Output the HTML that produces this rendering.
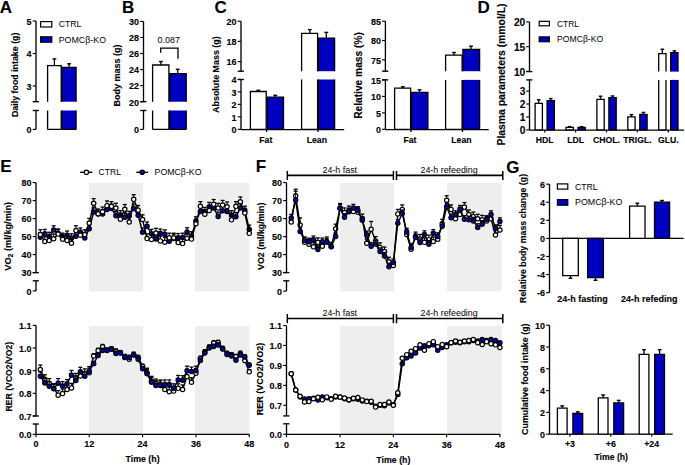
<!DOCTYPE html>
<html><head><meta charset="utf-8"><style>
html,body{margin:0;padding:0;background:#fff;width:685px;height:465px;overflow:hidden}
svg{display:block}
text{font-family:"Liberation Sans", sans-serif;fill:#000}
text[font-weight="bold"]{stroke:#000;stroke-width:0.12px}
</style></head><body>
<svg width="685" height="465" viewBox="0 0 685 465">
<rect x="0" y="0" width="685" height="465" fill="#fff"/>
<text x="-0.20" y="13.45" font-size="17" font-weight="bold" text-anchor="start" >A</text>
<line x1="36.00" y1="21.00" x2="36.00" y2="101.70" stroke="#000" stroke-width="1.33"/>
<line x1="32.70" y1="21.00" x2="36.00" y2="21.00" stroke="#000" stroke-width="1.15"/>
<text transform="translate(31.50,24.80) scale(0.9524,1)" font-size="9.45" font-weight="bold" text-anchor="end" >5</text>
<line x1="32.70" y1="53.50" x2="36.00" y2="53.50" stroke="#000" stroke-width="1.15"/>
<text transform="translate(31.50,57.30) scale(0.9524,1)" font-size="9.45" font-weight="bold" text-anchor="end" >4</text>
<line x1="32.70" y1="86.00" x2="36.00" y2="86.00" stroke="#000" stroke-width="1.15"/>
<text transform="translate(31.50,89.80) scale(0.9524,1)" font-size="9.45" font-weight="bold" text-anchor="end" >3</text>
<line x1="32.70" y1="101.70" x2="38.90" y2="101.70" stroke="#000" stroke-width="1.35"/>
<line x1="36.00" y1="110.50" x2="36.00" y2="129.40" stroke="#000" stroke-width="1.33"/>
<line x1="32.70" y1="129.40" x2="36.00" y2="129.40" stroke="#000" stroke-width="1.15"/>
<text transform="translate(31.50,133.20) scale(0.9524,1)" font-size="9.45" font-weight="bold" text-anchor="end" >0</text>
<line x1="32.70" y1="110.50" x2="38.90" y2="110.50" stroke="#000" stroke-width="1.35"/>
<rect x="47.60" y="65.60" width="13.60" height="36.10" fill="#fff"/>
<path d="M47.60,101.70 L47.60,65.60 L61.20,65.60 L61.20,101.70" fill="none" stroke="#000" stroke-width="1.3" stroke-linejoin="miter"/>
<rect x="61.90" y="67.30" width="14.20" height="34.40" fill="#0000C0"/>
<path d="M61.90,101.70 L61.90,67.30 L76.10,67.30 L76.10,101.70" fill="none" stroke="#000" stroke-width="1.3" stroke-linejoin="miter"/>
<rect x="47.60" y="110.50" width="13.60" height="18.90" fill="#fff"/>
<path d="M47.60,110.50 L47.60,129.40 M61.20,110.50 L61.20,129.40 M47.60,129.40 L61.20,129.40" fill="none" stroke="#000" stroke-width="1.3" stroke-linejoin="miter"/>
<rect x="61.90" y="110.50" width="14.20" height="18.90" fill="#0000C0"/>
<path d="M61.90,110.50 L61.90,129.40 M76.10,110.50 L76.10,129.40 M61.90,129.40 L76.10,129.40" fill="none" stroke="#000" stroke-width="1.3" stroke-linejoin="miter"/>
<line x1="54.40" y1="65.60" x2="54.40" y2="58.90" stroke="#000" stroke-width="1.30"/>
<line x1="52.50" y1="58.90" x2="56.30" y2="58.90" stroke="#000" stroke-width="1.40"/>
<line x1="69.10" y1="67.30" x2="69.10" y2="63.80" stroke="#000" stroke-width="1.30"/>
<line x1="67.20" y1="63.80" x2="71.00" y2="63.80" stroke="#000" stroke-width="1.40"/>
<rect x="40.60" y="21.60" width="11.20" height="5.40" fill="#fff" stroke="#000" stroke-width="1.20"/>
<rect x="40.60" y="36.80" width="11.20" height="5.40" fill="#0000C0" stroke="#000" stroke-width="1.20"/>
<text x="58.70" y="27.30" font-size="8.7" font-weight="normal" text-anchor="start" >CTRL</text>
<text x="58.70" y="42.60" font-size="8.85" font-weight="normal" text-anchor="start" >POMCβ-KO</text>
<text transform="translate(18.20,74.80) rotate(-90) scale(0.9091,1)" font-size="9.74" font-weight="bold" text-anchor="middle" >Daily food intake (g)</text>
<text x="122.00" y="13.45" font-size="17" font-weight="bold" text-anchor="start" >B</text>
<line x1="143.50" y1="21.40" x2="143.50" y2="101.70" stroke="#000" stroke-width="1.33"/>
<line x1="140.20" y1="21.40" x2="143.50" y2="21.40" stroke="#000" stroke-width="1.15"/>
<text transform="translate(139.00,25.20) scale(0.9524,1)" font-size="9.45" font-weight="bold" text-anchor="end" >30</text>
<line x1="140.20" y1="37.46" x2="143.50" y2="37.46" stroke="#000" stroke-width="1.15"/>
<text transform="translate(139.00,41.26) scale(0.9524,1)" font-size="9.45" font-weight="bold" text-anchor="end" >28</text>
<line x1="140.20" y1="53.52" x2="143.50" y2="53.52" stroke="#000" stroke-width="1.15"/>
<text transform="translate(139.00,57.32) scale(0.9524,1)" font-size="9.45" font-weight="bold" text-anchor="end" >26</text>
<line x1="140.20" y1="69.58" x2="143.50" y2="69.58" stroke="#000" stroke-width="1.15"/>
<text transform="translate(139.00,73.38) scale(0.9524,1)" font-size="9.45" font-weight="bold" text-anchor="end" >24</text>
<line x1="140.20" y1="85.64" x2="143.50" y2="85.64" stroke="#000" stroke-width="1.15"/>
<text transform="translate(139.00,89.44) scale(0.9524,1)" font-size="9.45" font-weight="bold" text-anchor="end" >22</text>
<line x1="140.20" y1="101.70" x2="143.50" y2="101.70" stroke="#000" stroke-width="1.15"/>
<text transform="translate(139.00,105.50) scale(0.9524,1)" font-size="9.45" font-weight="bold" text-anchor="end" >20</text>
<line x1="140.20" y1="101.70" x2="146.40" y2="101.70" stroke="#000" stroke-width="1.35"/>
<line x1="143.50" y1="110.50" x2="143.50" y2="129.40" stroke="#000" stroke-width="1.33"/>
<line x1="140.20" y1="129.40" x2="143.50" y2="129.40" stroke="#000" stroke-width="1.15"/>
<text transform="translate(139.00,133.20) scale(0.9524,1)" font-size="9.45" font-weight="bold" text-anchor="end" >0</text>
<line x1="140.20" y1="110.50" x2="146.40" y2="110.50" stroke="#000" stroke-width="1.35"/>
<rect x="152.60" y="65.00" width="16.30" height="36.70" fill="#fff"/>
<path d="M152.60,101.70 L152.60,65.00 L168.90,65.00 L168.90,101.70" fill="none" stroke="#000" stroke-width="1.3" stroke-linejoin="miter"/>
<rect x="169.60" y="73.60" width="16.60" height="28.10" fill="#0000C0"/>
<path d="M169.60,101.70 L169.60,73.60 L186.20,73.60 L186.20,101.70" fill="none" stroke="#000" stroke-width="1.3" stroke-linejoin="miter"/>
<rect x="152.60" y="110.50" width="16.30" height="18.90" fill="#fff"/>
<path d="M152.60,110.50 L152.60,129.40 M168.90,110.50 L168.90,129.40 M152.60,129.40 L168.90,129.40" fill="none" stroke="#000" stroke-width="1.3" stroke-linejoin="miter"/>
<rect x="169.60" y="110.50" width="16.60" height="18.90" fill="#0000C0"/>
<path d="M169.60,110.50 L169.60,129.40 M186.20,110.50 L186.20,129.40 M169.60,129.40 L186.20,129.40" fill="none" stroke="#000" stroke-width="1.3" stroke-linejoin="miter"/>
<line x1="160.90" y1="65.00" x2="160.90" y2="61.50" stroke="#000" stroke-width="1.30"/>
<line x1="159.00" y1="61.50" x2="162.80" y2="61.50" stroke="#000" stroke-width="1.40"/>
<line x1="177.70" y1="73.60" x2="177.70" y2="69.30" stroke="#000" stroke-width="1.30"/>
<line x1="175.80" y1="69.30" x2="179.60" y2="69.30" stroke="#000" stroke-width="1.40"/>
<text x="168.70" y="43.40" font-size="9.0" font-weight="normal" text-anchor="middle" >0.087</text>
<path d="M160.7,52.7 L160.7,48.2 L178,48.2 L178,58.7" fill="none" stroke="#000" stroke-width="1.3" />
<text transform="translate(120.00,75.50) rotate(-90)" font-size="9.00" font-weight="bold" text-anchor="middle" >Body mass (g)</text>
<text x="214.50" y="13.45" font-size="17" font-weight="bold" text-anchor="start" >C</text>
<line x1="241.00" y1="21.20" x2="241.00" y2="71.20" stroke="#000" stroke-width="1.33"/>
<line x1="237.70" y1="21.20" x2="241.00" y2="21.20" stroke="#000" stroke-width="1.15"/>
<text transform="translate(236.50,25.00) scale(0.9524,1)" font-size="9.45" font-weight="bold" text-anchor="end" >20</text>
<line x1="237.70" y1="41.40" x2="241.00" y2="41.40" stroke="#000" stroke-width="1.15"/>
<text transform="translate(236.50,45.20) scale(0.9524,1)" font-size="9.45" font-weight="bold" text-anchor="end" >18</text>
<line x1="237.70" y1="61.60" x2="241.00" y2="61.60" stroke="#000" stroke-width="1.15"/>
<text transform="translate(236.50,65.40) scale(0.9524,1)" font-size="9.45" font-weight="bold" text-anchor="end" >16</text>
<line x1="237.70" y1="71.20" x2="243.90" y2="71.20" stroke="#000" stroke-width="1.35"/>
<line x1="241.00" y1="79.50" x2="241.00" y2="129.30" stroke="#000" stroke-width="1.33"/>
<line x1="237.70" y1="79.42" x2="241.00" y2="79.42" stroke="#000" stroke-width="1.15"/>
<text transform="translate(236.50,83.22) scale(0.9524,1)" font-size="9.45" font-weight="bold" text-anchor="end" >4</text>
<line x1="237.70" y1="91.89" x2="241.00" y2="91.89" stroke="#000" stroke-width="1.15"/>
<text transform="translate(236.50,95.69) scale(0.9524,1)" font-size="9.45" font-weight="bold" text-anchor="end" >3</text>
<line x1="237.70" y1="104.36" x2="241.00" y2="104.36" stroke="#000" stroke-width="1.15"/>
<text transform="translate(236.50,108.16) scale(0.9524,1)" font-size="9.45" font-weight="bold" text-anchor="end" >2</text>
<line x1="237.70" y1="116.83" x2="241.00" y2="116.83" stroke="#000" stroke-width="1.15"/>
<text transform="translate(236.50,120.63) scale(0.9524,1)" font-size="9.45" font-weight="bold" text-anchor="end" >1</text>
<line x1="237.70" y1="129.30" x2="241.00" y2="129.30" stroke="#000" stroke-width="1.15"/>
<text transform="translate(236.50,133.10) scale(0.9524,1)" font-size="9.45" font-weight="bold" text-anchor="end" >0</text>
<line x1="237.70" y1="79.50" x2="243.90" y2="79.50" stroke="#000" stroke-width="1.35"/>
<line x1="241.00" y1="129.60" x2="344.20" y2="129.60" stroke="#000" stroke-width="1.33"/>
<line x1="266.60" y1="129.30" x2="266.60" y2="132.00" stroke="#000" stroke-width="1.30"/>
<line x1="318.00" y1="129.30" x2="318.00" y2="132.00" stroke="#000" stroke-width="1.30"/>
<rect x="250.40" y="91.50" width="15.80" height="37.80" fill="#fff"/>
<path d="M250.40,129.30 L250.40,91.50 L266.20,91.50 L266.20,129.30 Z" fill="none" stroke="#000" stroke-width="1.3" stroke-linejoin="miter"/>
<rect x="267.00" y="97.20" width="16.50" height="32.10" fill="#0000C0"/>
<path d="M267.00,129.30 L267.00,97.20 L283.50,97.20 L283.50,129.30 Z" fill="none" stroke="#000" stroke-width="1.3" stroke-linejoin="miter"/>
<line x1="258.30" y1="91.50" x2="258.30" y2="90.30" stroke="#000" stroke-width="1.30"/>
<line x1="256.40" y1="90.30" x2="260.20" y2="90.30" stroke="#000" stroke-width="1.40"/>
<line x1="275.30" y1="97.20" x2="275.30" y2="95.30" stroke="#000" stroke-width="1.30"/>
<line x1="273.40" y1="95.30" x2="277.20" y2="95.30" stroke="#000" stroke-width="1.40"/>
<rect x="301.60" y="33.30" width="16.00" height="37.90" fill="#fff"/>
<path d="M301.60,71.20 L301.60,33.30 L317.60,33.30 L317.60,71.20" fill="none" stroke="#000" stroke-width="1.3" stroke-linejoin="miter"/>
<rect x="318.50" y="38.10" width="16.10" height="33.10" fill="#0000C0"/>
<path d="M318.50,71.20 L318.50,38.10 L334.60,38.10 L334.60,71.20" fill="none" stroke="#000" stroke-width="1.3" stroke-linejoin="miter"/>
<rect x="301.60" y="79.50" width="16.00" height="49.80" fill="#fff"/>
<path d="M301.60,79.50 L301.60,129.30 M317.60,79.50 L317.60,129.30 M301.60,129.30 L317.60,129.30" fill="none" stroke="#000" stroke-width="1.3" stroke-linejoin="miter"/>
<rect x="318.50" y="79.50" width="16.10" height="49.80" fill="#0000C0"/>
<path d="M318.50,79.50 L318.50,129.30 M334.60,79.50 L334.60,129.30 M318.50,129.30 L334.60,129.30" fill="none" stroke="#000" stroke-width="1.3" stroke-linejoin="miter"/>
<line x1="309.80" y1="33.30" x2="309.80" y2="29.60" stroke="#000" stroke-width="1.30"/>
<line x1="307.90" y1="29.60" x2="311.70" y2="29.60" stroke="#000" stroke-width="1.40"/>
<line x1="326.30" y1="38.10" x2="326.30" y2="32.40" stroke="#000" stroke-width="1.30"/>
<line x1="324.40" y1="32.40" x2="328.20" y2="32.40" stroke="#000" stroke-width="1.40"/>
<text x="265.80" y="142.70" font-size="8.7" font-weight="bold" text-anchor="middle" >Fat</text>
<text x="316.80" y="142.70" font-size="8.7" font-weight="bold" text-anchor="middle" >Lean</text>
<text transform="translate(218.70,74.60) rotate(-90) scale(0.9524,1)" font-size="9.35" font-weight="bold" text-anchor="middle" >Absolute Mass (g)</text>
<line x1="385.40" y1="21.20" x2="385.40" y2="71.20" stroke="#000" stroke-width="1.33"/>
<line x1="382.10" y1="21.20" x2="385.40" y2="21.20" stroke="#000" stroke-width="1.15"/>
<text transform="translate(380.90,25.00) scale(0.9524,1)" font-size="9.45" font-weight="bold" text-anchor="end" >85</text>
<line x1="382.10" y1="40.50" x2="385.40" y2="40.50" stroke="#000" stroke-width="1.15"/>
<text transform="translate(380.90,44.30) scale(0.9524,1)" font-size="9.45" font-weight="bold" text-anchor="end" >80</text>
<line x1="382.10" y1="59.80" x2="385.40" y2="59.80" stroke="#000" stroke-width="1.15"/>
<text transform="translate(380.90,63.60) scale(0.9524,1)" font-size="9.45" font-weight="bold" text-anchor="end" >75</text>
<line x1="382.10" y1="71.20" x2="388.30" y2="71.20" stroke="#000" stroke-width="1.35"/>
<line x1="385.40" y1="79.90" x2="385.40" y2="129.30" stroke="#000" stroke-width="1.33"/>
<line x1="382.10" y1="79.95" x2="385.40" y2="79.95" stroke="#000" stroke-width="1.15"/>
<text transform="translate(380.90,83.75) scale(0.9524,1)" font-size="9.45" font-weight="bold" text-anchor="end" >15</text>
<line x1="382.10" y1="96.40" x2="385.40" y2="96.40" stroke="#000" stroke-width="1.15"/>
<text transform="translate(380.90,100.20) scale(0.9524,1)" font-size="9.45" font-weight="bold" text-anchor="end" >10</text>
<line x1="382.10" y1="112.85" x2="385.40" y2="112.85" stroke="#000" stroke-width="1.15"/>
<text transform="translate(380.90,116.65) scale(0.9524,1)" font-size="9.45" font-weight="bold" text-anchor="end" >5</text>
<line x1="382.10" y1="129.30" x2="385.40" y2="129.30" stroke="#000" stroke-width="1.15"/>
<text transform="translate(380.90,133.10) scale(0.9524,1)" font-size="9.45" font-weight="bold" text-anchor="end" >0</text>
<line x1="382.10" y1="79.90" x2="388.30" y2="79.90" stroke="#000" stroke-width="1.35"/>
<line x1="385.40" y1="129.60" x2="488.70" y2="129.60" stroke="#000" stroke-width="1.33"/>
<line x1="411.00" y1="129.30" x2="411.00" y2="132.00" stroke="#000" stroke-width="1.30"/>
<line x1="462.50" y1="129.30" x2="462.50" y2="132.00" stroke="#000" stroke-width="1.30"/>
<rect x="394.60" y="88.20" width="16.00" height="41.10" fill="#fff"/>
<path d="M394.60,129.30 L394.60,88.20 L410.60,88.20 L410.60,129.30 Z" fill="none" stroke="#000" stroke-width="1.3" stroke-linejoin="miter"/>
<rect x="411.40" y="92.40" width="16.50" height="36.90" fill="#0000C0"/>
<path d="M411.40,129.30 L411.40,92.40 L427.90,92.40 L427.90,129.30 Z" fill="none" stroke="#000" stroke-width="1.3" stroke-linejoin="miter"/>
<line x1="402.80" y1="88.20" x2="402.80" y2="86.80" stroke="#000" stroke-width="1.30"/>
<line x1="400.90" y1="86.80" x2="404.70" y2="86.80" stroke="#000" stroke-width="1.40"/>
<line x1="419.50" y1="92.40" x2="419.50" y2="89.80" stroke="#000" stroke-width="1.30"/>
<line x1="417.60" y1="89.80" x2="421.40" y2="89.80" stroke="#000" stroke-width="1.40"/>
<rect x="445.60" y="55.20" width="16.50" height="16.00" fill="#fff"/>
<path d="M445.60,71.20 L445.60,55.20 L462.10,55.20 L462.10,71.20" fill="none" stroke="#000" stroke-width="1.3" stroke-linejoin="miter"/>
<rect x="462.90" y="49.50" width="16.70" height="21.70" fill="#0000C0"/>
<path d="M462.90,71.20 L462.90,49.50 L479.60,49.50 L479.60,71.20" fill="none" stroke="#000" stroke-width="1.3" stroke-linejoin="miter"/>
<rect x="445.60" y="79.90" width="16.50" height="49.40" fill="#fff"/>
<path d="M445.60,79.90 L445.60,129.30 M462.10,79.90 L462.10,129.30 M445.60,129.30 L462.10,129.30" fill="none" stroke="#000" stroke-width="1.3" stroke-linejoin="miter"/>
<rect x="462.90" y="79.90" width="16.70" height="49.40" fill="#0000C0"/>
<path d="M462.90,79.90 L462.90,129.30 M479.60,79.90 L479.60,129.30 M462.90,129.30 L479.60,129.30" fill="none" stroke="#000" stroke-width="1.3" stroke-linejoin="miter"/>
<line x1="454.00" y1="55.20" x2="454.00" y2="52.50" stroke="#000" stroke-width="1.30"/>
<line x1="452.10" y1="52.50" x2="455.90" y2="52.50" stroke="#000" stroke-width="1.40"/>
<line x1="471.00" y1="49.50" x2="471.00" y2="46.20" stroke="#000" stroke-width="1.30"/>
<line x1="469.10" y1="46.20" x2="472.90" y2="46.20" stroke="#000" stroke-width="1.40"/>
<text x="410.00" y="142.70" font-size="8.7" font-weight="bold" text-anchor="middle" >Fat</text>
<text x="461.40" y="142.70" font-size="8.7" font-weight="bold" text-anchor="middle" >Lean</text>
<text transform="translate(362.00,75.50) rotate(-90)" font-size="10.20" font-weight="bold" text-anchor="middle" >Relative mass (%)</text>
<text x="477.50" y="13.35" font-size="17" font-weight="bold" text-anchor="start" >D</text>
<line x1="529.50" y1="21.90" x2="529.50" y2="71.60" stroke="#000" stroke-width="1.33"/>
<line x1="526.20" y1="21.90" x2="529.50" y2="21.90" stroke="#000" stroke-width="1.15"/>
<text transform="translate(525.30,26.16) scale(0.9524,1)" font-size="10.71" font-weight="bold" text-anchor="end" >20</text>
<line x1="526.20" y1="46.65" x2="529.50" y2="46.65" stroke="#000" stroke-width="1.15"/>
<text transform="translate(525.30,50.91) scale(0.9524,1)" font-size="10.71" font-weight="bold" text-anchor="end" >15</text>
<line x1="526.20" y1="71.40" x2="529.50" y2="71.40" stroke="#000" stroke-width="1.15"/>
<text transform="translate(525.30,75.66) scale(0.9524,1)" font-size="10.71" font-weight="bold" text-anchor="end" >10</text>
<line x1="526.20" y1="71.60" x2="532.40" y2="71.60" stroke="#000" stroke-width="1.35"/>
<line x1="529.50" y1="79.90" x2="529.50" y2="130.20" stroke="#000" stroke-width="1.33"/>
<line x1="526.20" y1="91.05" x2="529.50" y2="91.05" stroke="#000" stroke-width="1.15"/>
<text transform="translate(525.30,95.31) scale(0.9524,1)" font-size="10.71" font-weight="bold" text-anchor="end" >3</text>
<line x1="526.20" y1="104.00" x2="529.50" y2="104.00" stroke="#000" stroke-width="1.15"/>
<text transform="translate(525.30,108.26) scale(0.9524,1)" font-size="10.71" font-weight="bold" text-anchor="end" >2</text>
<line x1="526.20" y1="116.95" x2="529.50" y2="116.95" stroke="#000" stroke-width="1.15"/>
<text transform="translate(525.30,121.21) scale(0.9524,1)" font-size="10.71" font-weight="bold" text-anchor="end" >1</text>
<line x1="526.20" y1="129.90" x2="529.50" y2="129.90" stroke="#000" stroke-width="1.15"/>
<text transform="translate(525.30,134.16) scale(0.9524,1)" font-size="10.71" font-weight="bold" text-anchor="end" >0</text>
<line x1="526.20" y1="79.90" x2="532.40" y2="79.90" stroke="#000" stroke-width="1.35"/>
<line x1="529.50" y1="130.20" x2="684.00" y2="130.20" stroke="#000" stroke-width="1.33"/>
<line x1="544.70" y1="129.90" x2="544.70" y2="132.40" stroke="#000" stroke-width="1.30"/>
<rect x="535.10" y="103.35" width="7.30" height="26.55" fill="#fff"/>
<path d="M535.10,129.90 L535.10,103.35 L542.40,103.35 L542.40,129.90 Z" fill="none" stroke="#000" stroke-width="1.3" stroke-linejoin="miter"/>
<rect x="547.10" y="100.76" width="7.30" height="29.14" fill="#0000C0"/>
<path d="M547.10,129.90 L547.10,100.76 L554.40,100.76 L554.40,129.90 Z" fill="none" stroke="#000" stroke-width="1.3" stroke-linejoin="miter"/>
<line x1="538.75" y1="103.35" x2="538.75" y2="99.73" stroke="#000" stroke-width="1.30"/>
<line x1="536.95" y1="99.73" x2="540.55" y2="99.73" stroke="#000" stroke-width="1.40"/>
<line x1="550.75" y1="100.76" x2="550.75" y2="98.56" stroke="#000" stroke-width="1.30"/>
<line x1="548.95" y1="98.56" x2="552.55" y2="98.56" stroke="#000" stroke-width="1.40"/>
<text x="544.70" y="143.00" font-size="8.7" font-weight="bold" text-anchor="middle" >HDL</text>
<line x1="575.60" y1="129.90" x2="575.60" y2="132.40" stroke="#000" stroke-width="1.30"/>
<rect x="566.00" y="127.31" width="7.30" height="2.59" fill="#fff"/>
<path d="M566.00,129.90 L566.00,127.31 L573.30,127.31 L573.30,129.90 Z" fill="none" stroke="#000" stroke-width="1.3" stroke-linejoin="miter"/>
<rect x="578.00" y="127.31" width="7.30" height="2.59" fill="#0000C0"/>
<path d="M578.00,129.90 L578.00,127.31 L585.30,127.31 L585.30,129.90 Z" fill="none" stroke="#000" stroke-width="1.3" stroke-linejoin="miter"/>
<line x1="569.65" y1="127.31" x2="569.65" y2="126.66" stroke="#000" stroke-width="1.30"/>
<line x1="567.85" y1="126.66" x2="571.45" y2="126.66" stroke="#000" stroke-width="1.40"/>
<line x1="581.65" y1="127.31" x2="581.65" y2="126.66" stroke="#000" stroke-width="1.30"/>
<line x1="579.85" y1="126.66" x2="583.45" y2="126.66" stroke="#000" stroke-width="1.40"/>
<text x="575.60" y="143.00" font-size="8.7" font-weight="bold" text-anchor="middle" >LDL</text>
<line x1="606.50" y1="129.90" x2="606.50" y2="132.40" stroke="#000" stroke-width="1.30"/>
<rect x="596.90" y="99.47" width="7.30" height="30.43" fill="#fff"/>
<path d="M596.90,129.90 L596.90,99.47 L604.20,99.47 L604.20,129.90 Z" fill="none" stroke="#000" stroke-width="1.3" stroke-linejoin="miter"/>
<rect x="608.90" y="97.53" width="7.30" height="32.38" fill="#0000C0"/>
<path d="M608.90,129.90 L608.90,97.53 L616.20,97.53 L616.20,129.90 Z" fill="none" stroke="#000" stroke-width="1.3" stroke-linejoin="miter"/>
<line x1="600.55" y1="99.47" x2="600.55" y2="96.23" stroke="#000" stroke-width="1.30"/>
<line x1="598.75" y1="96.23" x2="602.35" y2="96.23" stroke="#000" stroke-width="1.40"/>
<line x1="612.55" y1="97.53" x2="612.55" y2="95.97" stroke="#000" stroke-width="1.30"/>
<line x1="610.75" y1="95.97" x2="614.35" y2="95.97" stroke="#000" stroke-width="1.40"/>
<text x="606.50" y="143.00" font-size="8.7" font-weight="bold" text-anchor="middle" >CHOL.</text>
<line x1="637.40" y1="129.90" x2="637.40" y2="132.40" stroke="#000" stroke-width="1.30"/>
<rect x="627.80" y="116.95" width="7.30" height="12.95" fill="#fff"/>
<path d="M627.80,129.90 L627.80,116.95 L635.10,116.95 L635.10,129.90 Z" fill="none" stroke="#000" stroke-width="1.3" stroke-linejoin="miter"/>
<rect x="639.80" y="114.36" width="7.30" height="15.54" fill="#0000C0"/>
<path d="M639.80,129.90 L639.80,114.36 L647.10,114.36 L647.10,129.90 Z" fill="none" stroke="#000" stroke-width="1.3" stroke-linejoin="miter"/>
<line x1="631.45" y1="116.95" x2="631.45" y2="114.62" stroke="#000" stroke-width="1.30"/>
<line x1="629.65" y1="114.62" x2="633.25" y2="114.62" stroke="#000" stroke-width="1.40"/>
<line x1="643.45" y1="114.36" x2="643.45" y2="112.42" stroke="#000" stroke-width="1.30"/>
<line x1="641.65" y1="112.42" x2="645.25" y2="112.42" stroke="#000" stroke-width="1.40"/>
<text x="637.40" y="143.00" font-size="8.7" font-weight="bold" text-anchor="middle" >TRIGL.</text>
<line x1="668.30" y1="129.90" x2="668.30" y2="132.40" stroke="#000" stroke-width="1.30"/>
<rect x="658.70" y="53.58" width="7.30" height="18.02" fill="#fff"/>
<path d="M658.70,71.60 L658.70,53.58 L666.00,53.58 L666.00,71.60" fill="none" stroke="#000" stroke-width="1.3" stroke-linejoin="miter"/>
<rect x="670.70" y="52.59" width="7.30" height="19.01" fill="#0000C0"/>
<path d="M670.70,71.60 L670.70,52.59 L678.00,52.59 L678.00,71.60" fill="none" stroke="#000" stroke-width="1.3" stroke-linejoin="miter"/>
<rect x="658.70" y="79.90" width="7.30" height="50.00" fill="#fff"/>
<path d="M658.70,79.90 L658.70,129.90 M666.00,79.90 L666.00,129.90 M658.70,129.90 L666.00,129.90" fill="none" stroke="#000" stroke-width="1.3" stroke-linejoin="miter"/>
<rect x="670.70" y="79.90" width="7.30" height="50.00" fill="#0000C0"/>
<path d="M670.70,79.90 L670.70,129.90 M678.00,79.90 L678.00,129.90 M670.70,129.90 L678.00,129.90" fill="none" stroke="#000" stroke-width="1.3" stroke-linejoin="miter"/>
<line x1="662.35" y1="53.58" x2="662.35" y2="49.27" stroke="#000" stroke-width="1.30"/>
<line x1="660.55" y1="49.27" x2="664.15" y2="49.27" stroke="#000" stroke-width="1.40"/>
<line x1="674.35" y1="52.59" x2="674.35" y2="50.86" stroke="#000" stroke-width="1.30"/>
<line x1="672.55" y1="50.86" x2="676.15" y2="50.86" stroke="#000" stroke-width="1.40"/>
<text x="668.30" y="143.00" font-size="8.7" font-weight="bold" text-anchor="middle" >GLU.</text>
<rect x="539.20" y="21.30" width="10.20" height="4.50" fill="#fff" stroke="#000" stroke-width="1.20"/>
<rect x="539.20" y="36.90" width="10.20" height="4.80" fill="#0000C0" stroke="#000" stroke-width="1.20"/>
<text x="557.00" y="26.60" font-size="8.4" font-weight="normal" text-anchor="start" >CTRL</text>
<text x="557.00" y="42.40" font-size="8.65" font-weight="normal" text-anchor="start" >POMCβ-KO</text>
<text transform="translate(505.00,74.50) rotate(-90)" font-size="10.40" font-weight="bold" text-anchor="middle" >Plasma parameters (mmol/L)</text>
<text x="0.15" y="171.85" font-size="17" font-weight="bold" text-anchor="start" >E</text>
<line x1="80.10" y1="172.30" x2="92.40" y2="172.30" stroke="#000" stroke-width="1.40"/>
<circle cx="86.4" cy="172.3" r="2.2" fill="#fff" stroke="#000" stroke-width="1.2"/>
<text x="98.50" y="175.40" font-size="8.6" font-weight="normal" text-anchor="start" >CTRL</text>
<line x1="136.30" y1="172.30" x2="148.20" y2="172.30" stroke="#000" stroke-width="1.40"/>
<circle cx="142.2" cy="172.3" r="2.2" fill="#0000C0" stroke="#000" stroke-width="1.2"/>
<text x="154.60" y="175.40" font-size="8.75" font-weight="normal" text-anchor="start" >POMCβ-KO</text>
<rect x="89.00" y="183.00" width="54.00" height="108.30" fill="#EEEEEE"/>
<rect x="195.00" y="183.00" width="54.40" height="108.30" fill="#EEEEEE"/>
<line x1="36.00" y1="182.80" x2="36.00" y2="272.60" stroke="#000" stroke-width="1.33"/>
<line x1="32.70" y1="182.60" x2="36.00" y2="182.60" stroke="#000" stroke-width="1.15"/>
<text transform="translate(31.50,186.40) scale(0.9524,1)" font-size="9.45" font-weight="bold" text-anchor="end" >80</text>
<line x1="32.70" y1="200.60" x2="36.00" y2="200.60" stroke="#000" stroke-width="1.15"/>
<text transform="translate(31.50,204.40) scale(0.9524,1)" font-size="9.45" font-weight="bold" text-anchor="end" >70</text>
<line x1="32.70" y1="218.60" x2="36.00" y2="218.60" stroke="#000" stroke-width="1.15"/>
<text transform="translate(31.50,222.40) scale(0.9524,1)" font-size="9.45" font-weight="bold" text-anchor="end" >60</text>
<line x1="32.70" y1="236.60" x2="36.00" y2="236.60" stroke="#000" stroke-width="1.15"/>
<text transform="translate(31.50,240.40) scale(0.9524,1)" font-size="9.45" font-weight="bold" text-anchor="end" >50</text>
<line x1="32.70" y1="254.60" x2="36.00" y2="254.60" stroke="#000" stroke-width="1.15"/>
<text transform="translate(31.50,258.40) scale(0.9524,1)" font-size="9.45" font-weight="bold" text-anchor="end" >40</text>
<line x1="32.70" y1="272.60" x2="36.00" y2="272.60" stroke="#000" stroke-width="1.15"/>
<text transform="translate(31.50,276.40) scale(0.9524,1)" font-size="9.45" font-weight="bold" text-anchor="end" >30</text>
<line x1="32.70" y1="272.60" x2="38.90" y2="272.60" stroke="#000" stroke-width="1.35"/>
<line x1="36.00" y1="280.80" x2="36.00" y2="290.90" stroke="#000" stroke-width="1.33"/>
<line x1="32.70" y1="290.90" x2="36.00" y2="290.90" stroke="#000" stroke-width="1.15"/>
<text transform="translate(31.50,294.70) scale(0.9524,1)" font-size="9.45" font-weight="bold" text-anchor="end" >0</text>
<line x1="32.70" y1="280.80" x2="38.90" y2="280.80" stroke="#000" stroke-width="1.35"/>
<line x1="40.34" y1="237.14" x2="40.34" y2="232.82" stroke="#000" stroke-width="1.00"/>
<line x1="38.34" y1="232.82" x2="42.34" y2="232.82" stroke="#000" stroke-width="1.30"/>
<line x1="44.79" y1="233.72" x2="44.79" y2="229.40" stroke="#000" stroke-width="1.00"/>
<line x1="42.79" y1="229.40" x2="46.79" y2="229.40" stroke="#000" stroke-width="1.30"/>
<line x1="49.23" y1="236.60" x2="49.23" y2="232.28" stroke="#000" stroke-width="1.00"/>
<line x1="47.23" y1="232.28" x2="51.23" y2="232.28" stroke="#000" stroke-width="1.30"/>
<line x1="53.68" y1="230.12" x2="53.68" y2="225.80" stroke="#000" stroke-width="1.00"/>
<line x1="51.68" y1="225.80" x2="55.68" y2="225.80" stroke="#000" stroke-width="1.30"/>
<line x1="58.12" y1="233.36" x2="58.12" y2="229.04" stroke="#000" stroke-width="1.00"/>
<line x1="56.12" y1="229.04" x2="60.12" y2="229.04" stroke="#000" stroke-width="1.30"/>
<line x1="62.57" y1="237.50" x2="62.57" y2="233.18" stroke="#000" stroke-width="1.00"/>
<line x1="60.57" y1="233.18" x2="64.57" y2="233.18" stroke="#000" stroke-width="1.30"/>
<line x1="67.02" y1="235.34" x2="67.02" y2="231.02" stroke="#000" stroke-width="1.00"/>
<line x1="65.02" y1="231.02" x2="69.02" y2="231.02" stroke="#000" stroke-width="1.30"/>
<line x1="71.46" y1="238.04" x2="71.46" y2="233.72" stroke="#000" stroke-width="1.00"/>
<line x1="69.46" y1="233.72" x2="73.46" y2="233.72" stroke="#000" stroke-width="1.30"/>
<line x1="75.91" y1="236.24" x2="75.91" y2="231.92" stroke="#000" stroke-width="1.00"/>
<line x1="73.91" y1="231.92" x2="77.91" y2="231.92" stroke="#000" stroke-width="1.30"/>
<line x1="80.35" y1="232.28" x2="80.35" y2="227.96" stroke="#000" stroke-width="1.00"/>
<line x1="78.35" y1="227.96" x2="82.35" y2="227.96" stroke="#000" stroke-width="1.30"/>
<line x1="84.80" y1="238.04" x2="84.80" y2="233.72" stroke="#000" stroke-width="1.00"/>
<line x1="82.80" y1="233.72" x2="86.80" y2="233.72" stroke="#000" stroke-width="1.30"/>
<line x1="89.24" y1="228.86" x2="89.24" y2="224.54" stroke="#000" stroke-width="1.00"/>
<line x1="87.24" y1="224.54" x2="91.24" y2="224.54" stroke="#000" stroke-width="1.30"/>
<line x1="93.69" y1="212.12" x2="93.69" y2="207.80" stroke="#000" stroke-width="1.00"/>
<line x1="91.69" y1="207.80" x2="95.69" y2="207.80" stroke="#000" stroke-width="1.30"/>
<line x1="98.13" y1="214.10" x2="98.13" y2="209.78" stroke="#000" stroke-width="1.00"/>
<line x1="96.13" y1="209.78" x2="100.13" y2="209.78" stroke="#000" stroke-width="1.30"/>
<line x1="102.58" y1="214.10" x2="102.58" y2="209.78" stroke="#000" stroke-width="1.00"/>
<line x1="100.58" y1="209.78" x2="104.58" y2="209.78" stroke="#000" stroke-width="1.30"/>
<line x1="107.02" y1="209.60" x2="107.02" y2="205.28" stroke="#000" stroke-width="1.00"/>
<line x1="105.02" y1="205.28" x2="109.02" y2="205.28" stroke="#000" stroke-width="1.30"/>
<line x1="111.47" y1="208.52" x2="111.47" y2="204.20" stroke="#000" stroke-width="1.00"/>
<line x1="109.47" y1="204.20" x2="113.47" y2="204.20" stroke="#000" stroke-width="1.30"/>
<line x1="115.91" y1="215.72" x2="115.91" y2="211.40" stroke="#000" stroke-width="1.00"/>
<line x1="113.91" y1="211.40" x2="117.91" y2="211.40" stroke="#000" stroke-width="1.30"/>
<line x1="120.36" y1="215.00" x2="120.36" y2="210.68" stroke="#000" stroke-width="1.00"/>
<line x1="118.36" y1="210.68" x2="122.36" y2="210.68" stroke="#000" stroke-width="1.30"/>
<line x1="124.80" y1="217.34" x2="124.80" y2="213.02" stroke="#000" stroke-width="1.00"/>
<line x1="122.80" y1="213.02" x2="126.80" y2="213.02" stroke="#000" stroke-width="1.30"/>
<line x1="129.25" y1="215.72" x2="129.25" y2="211.40" stroke="#000" stroke-width="1.00"/>
<line x1="127.25" y1="211.40" x2="131.25" y2="211.40" stroke="#000" stroke-width="1.30"/>
<line x1="133.69" y1="208.52" x2="133.69" y2="204.20" stroke="#000" stroke-width="1.00"/>
<line x1="131.69" y1="204.20" x2="135.69" y2="204.20" stroke="#000" stroke-width="1.30"/>
<line x1="138.14" y1="215.36" x2="138.14" y2="211.04" stroke="#000" stroke-width="1.00"/>
<line x1="136.14" y1="211.04" x2="140.14" y2="211.04" stroke="#000" stroke-width="1.30"/>
<line x1="142.58" y1="232.28" x2="142.58" y2="227.96" stroke="#000" stroke-width="1.00"/>
<line x1="140.58" y1="227.96" x2="144.58" y2="227.96" stroke="#000" stroke-width="1.30"/>
<line x1="147.03" y1="226.34" x2="147.03" y2="222.02" stroke="#000" stroke-width="1.00"/>
<line x1="145.03" y1="222.02" x2="149.03" y2="222.02" stroke="#000" stroke-width="1.30"/>
<line x1="151.47" y1="233.72" x2="151.47" y2="229.40" stroke="#000" stroke-width="1.00"/>
<line x1="149.47" y1="229.40" x2="153.47" y2="229.40" stroke="#000" stroke-width="1.30"/>
<line x1="155.92" y1="239.12" x2="155.92" y2="234.80" stroke="#000" stroke-width="1.00"/>
<line x1="153.92" y1="234.80" x2="157.92" y2="234.80" stroke="#000" stroke-width="1.30"/>
<line x1="160.36" y1="233.36" x2="160.36" y2="229.04" stroke="#000" stroke-width="1.00"/>
<line x1="158.36" y1="229.04" x2="162.36" y2="229.04" stroke="#000" stroke-width="1.30"/>
<line x1="164.81" y1="234.26" x2="164.81" y2="229.94" stroke="#000" stroke-width="1.00"/>
<line x1="162.81" y1="229.94" x2="166.81" y2="229.94" stroke="#000" stroke-width="1.30"/>
<line x1="169.25" y1="241.28" x2="169.25" y2="236.96" stroke="#000" stroke-width="1.00"/>
<line x1="167.25" y1="236.96" x2="171.25" y2="236.96" stroke="#000" stroke-width="1.30"/>
<line x1="173.70" y1="238.40" x2="173.70" y2="234.08" stroke="#000" stroke-width="1.00"/>
<line x1="171.70" y1="234.08" x2="175.70" y2="234.08" stroke="#000" stroke-width="1.30"/>
<line x1="178.14" y1="237.86" x2="178.14" y2="233.54" stroke="#000" stroke-width="1.00"/>
<line x1="176.14" y1="233.54" x2="180.14" y2="233.54" stroke="#000" stroke-width="1.30"/>
<line x1="182.59" y1="237.50" x2="182.59" y2="233.18" stroke="#000" stroke-width="1.00"/>
<line x1="180.59" y1="233.18" x2="184.59" y2="233.18" stroke="#000" stroke-width="1.30"/>
<line x1="187.03" y1="232.10" x2="187.03" y2="227.78" stroke="#000" stroke-width="1.00"/>
<line x1="185.03" y1="227.78" x2="189.03" y2="227.78" stroke="#000" stroke-width="1.30"/>
<line x1="191.48" y1="236.06" x2="191.48" y2="231.74" stroke="#000" stroke-width="1.00"/>
<line x1="189.48" y1="231.74" x2="193.48" y2="231.74" stroke="#000" stroke-width="1.30"/>
<line x1="195.92" y1="221.12" x2="195.92" y2="216.80" stroke="#000" stroke-width="1.00"/>
<line x1="193.92" y1="216.80" x2="197.92" y2="216.80" stroke="#000" stroke-width="1.30"/>
<line x1="200.37" y1="211.40" x2="200.37" y2="207.08" stroke="#000" stroke-width="1.00"/>
<line x1="198.37" y1="207.08" x2="202.37" y2="207.08" stroke="#000" stroke-width="1.30"/>
<line x1="204.81" y1="211.76" x2="204.81" y2="207.44" stroke="#000" stroke-width="1.00"/>
<line x1="202.81" y1="207.44" x2="206.81" y2="207.44" stroke="#000" stroke-width="1.30"/>
<line x1="209.26" y1="206.72" x2="209.26" y2="202.40" stroke="#000" stroke-width="1.00"/>
<line x1="207.26" y1="202.40" x2="211.26" y2="202.40" stroke="#000" stroke-width="1.30"/>
<line x1="213.70" y1="207.98" x2="213.70" y2="203.66" stroke="#000" stroke-width="1.00"/>
<line x1="211.70" y1="203.66" x2="215.70" y2="203.66" stroke="#000" stroke-width="1.30"/>
<line x1="218.15" y1="216.44" x2="218.15" y2="212.12" stroke="#000" stroke-width="1.00"/>
<line x1="216.15" y1="212.12" x2="220.15" y2="212.12" stroke="#000" stroke-width="1.30"/>
<line x1="222.59" y1="210.86" x2="222.59" y2="206.54" stroke="#000" stroke-width="1.00"/>
<line x1="220.59" y1="206.54" x2="224.59" y2="206.54" stroke="#000" stroke-width="1.30"/>
<line x1="227.04" y1="211.40" x2="227.04" y2="207.08" stroke="#000" stroke-width="1.00"/>
<line x1="225.04" y1="207.08" x2="229.04" y2="207.08" stroke="#000" stroke-width="1.30"/>
<line x1="231.48" y1="215.00" x2="231.48" y2="210.68" stroke="#000" stroke-width="1.00"/>
<line x1="229.48" y1="210.68" x2="233.48" y2="210.68" stroke="#000" stroke-width="1.30"/>
<line x1="235.93" y1="216.80" x2="235.93" y2="212.48" stroke="#000" stroke-width="1.00"/>
<line x1="233.93" y1="212.48" x2="237.93" y2="212.48" stroke="#000" stroke-width="1.30"/>
<line x1="240.37" y1="207.98" x2="240.37" y2="203.66" stroke="#000" stroke-width="1.00"/>
<line x1="238.37" y1="203.66" x2="242.37" y2="203.66" stroke="#000" stroke-width="1.30"/>
<line x1="244.82" y1="210.50" x2="244.82" y2="206.18" stroke="#000" stroke-width="1.00"/>
<line x1="242.82" y1="206.18" x2="246.82" y2="206.18" stroke="#000" stroke-width="1.30"/>
<line x1="249.26" y1="229.40" x2="249.26" y2="225.08" stroke="#000" stroke-width="1.00"/>
<line x1="247.26" y1="225.08" x2="251.26" y2="225.08" stroke="#000" stroke-width="1.30"/>
<path d="M40.34,237.14 L44.79,233.72 L49.23,236.60 L53.68,230.12 L58.12,233.36 L62.57,237.50 L67.02,235.34 L71.46,238.04 L75.91,236.24 L80.35,232.28 L84.80,238.04 L89.24,228.86 L93.69,212.12 L98.13,214.10 L102.58,214.10 L107.02,209.60 L111.47,208.52 L115.91,215.72 L120.36,215.00 L124.80,217.34 L129.25,215.72 L133.69,208.52 L138.14,215.36 L142.58,232.28 L147.03,226.34 L151.47,233.72 L155.92,239.12 L160.36,233.36 L164.81,234.26 L169.25,241.28 L173.70,238.40 L178.14,237.86 L182.59,237.50 L187.03,232.10 L191.48,236.06 L195.92,221.12 L200.37,211.40 L204.81,211.76 L209.26,206.72 L213.70,207.98 L218.15,216.44 L222.59,210.86 L227.04,211.40 L231.48,215.00 L235.93,216.80 L240.37,207.98 L244.82,210.50 L249.26,229.40" fill="none" stroke="#000" stroke-width="1.45" stroke-linejoin="round"/>
<circle cx="40.34" cy="237.14" r="2.15" fill="#0000C0" stroke="#000" stroke-width="1.2"/>
<circle cx="44.79" cy="233.72" r="2.15" fill="#0000C0" stroke="#000" stroke-width="1.2"/>
<circle cx="49.23" cy="236.60" r="2.15" fill="#0000C0" stroke="#000" stroke-width="1.2"/>
<circle cx="53.68" cy="230.12" r="2.15" fill="#0000C0" stroke="#000" stroke-width="1.2"/>
<circle cx="58.12" cy="233.36" r="2.15" fill="#0000C0" stroke="#000" stroke-width="1.2"/>
<circle cx="62.57" cy="237.50" r="2.15" fill="#0000C0" stroke="#000" stroke-width="1.2"/>
<circle cx="67.02" cy="235.34" r="2.15" fill="#0000C0" stroke="#000" stroke-width="1.2"/>
<circle cx="71.46" cy="238.04" r="2.15" fill="#0000C0" stroke="#000" stroke-width="1.2"/>
<circle cx="75.91" cy="236.24" r="2.15" fill="#0000C0" stroke="#000" stroke-width="1.2"/>
<circle cx="80.35" cy="232.28" r="2.15" fill="#0000C0" stroke="#000" stroke-width="1.2"/>
<circle cx="84.80" cy="238.04" r="2.15" fill="#0000C0" stroke="#000" stroke-width="1.2"/>
<circle cx="89.24" cy="228.86" r="2.15" fill="#0000C0" stroke="#000" stroke-width="1.2"/>
<circle cx="93.69" cy="212.12" r="2.15" fill="#0000C0" stroke="#000" stroke-width="1.2"/>
<circle cx="98.13" cy="214.10" r="2.15" fill="#0000C0" stroke="#000" stroke-width="1.2"/>
<circle cx="102.58" cy="214.10" r="2.15" fill="#0000C0" stroke="#000" stroke-width="1.2"/>
<circle cx="107.02" cy="209.60" r="2.15" fill="#0000C0" stroke="#000" stroke-width="1.2"/>
<circle cx="111.47" cy="208.52" r="2.15" fill="#0000C0" stroke="#000" stroke-width="1.2"/>
<circle cx="115.91" cy="215.72" r="2.15" fill="#0000C0" stroke="#000" stroke-width="1.2"/>
<circle cx="120.36" cy="215.00" r="2.15" fill="#0000C0" stroke="#000" stroke-width="1.2"/>
<circle cx="124.80" cy="217.34" r="2.15" fill="#0000C0" stroke="#000" stroke-width="1.2"/>
<circle cx="129.25" cy="215.72" r="2.15" fill="#0000C0" stroke="#000" stroke-width="1.2"/>
<circle cx="133.69" cy="208.52" r="2.15" fill="#0000C0" stroke="#000" stroke-width="1.2"/>
<circle cx="138.14" cy="215.36" r="2.15" fill="#0000C0" stroke="#000" stroke-width="1.2"/>
<circle cx="142.58" cy="232.28" r="2.15" fill="#0000C0" stroke="#000" stroke-width="1.2"/>
<circle cx="147.03" cy="226.34" r="2.15" fill="#0000C0" stroke="#000" stroke-width="1.2"/>
<circle cx="151.47" cy="233.72" r="2.15" fill="#0000C0" stroke="#000" stroke-width="1.2"/>
<circle cx="155.92" cy="239.12" r="2.15" fill="#0000C0" stroke="#000" stroke-width="1.2"/>
<circle cx="160.36" cy="233.36" r="2.15" fill="#0000C0" stroke="#000" stroke-width="1.2"/>
<circle cx="164.81" cy="234.26" r="2.15" fill="#0000C0" stroke="#000" stroke-width="1.2"/>
<circle cx="169.25" cy="241.28" r="2.15" fill="#0000C0" stroke="#000" stroke-width="1.2"/>
<circle cx="173.70" cy="238.40" r="2.15" fill="#0000C0" stroke="#000" stroke-width="1.2"/>
<circle cx="178.14" cy="237.86" r="2.15" fill="#0000C0" stroke="#000" stroke-width="1.2"/>
<circle cx="182.59" cy="237.50" r="2.15" fill="#0000C0" stroke="#000" stroke-width="1.2"/>
<circle cx="187.03" cy="232.10" r="2.15" fill="#0000C0" stroke="#000" stroke-width="1.2"/>
<circle cx="191.48" cy="236.06" r="2.15" fill="#0000C0" stroke="#000" stroke-width="1.2"/>
<circle cx="195.92" cy="221.12" r="2.15" fill="#0000C0" stroke="#000" stroke-width="1.2"/>
<circle cx="200.37" cy="211.40" r="2.15" fill="#0000C0" stroke="#000" stroke-width="1.2"/>
<circle cx="204.81" cy="211.76" r="2.15" fill="#0000C0" stroke="#000" stroke-width="1.2"/>
<circle cx="209.26" cy="206.72" r="2.15" fill="#0000C0" stroke="#000" stroke-width="1.2"/>
<circle cx="213.70" cy="207.98" r="2.15" fill="#0000C0" stroke="#000" stroke-width="1.2"/>
<circle cx="218.15" cy="216.44" r="2.15" fill="#0000C0" stroke="#000" stroke-width="1.2"/>
<circle cx="222.59" cy="210.86" r="2.15" fill="#0000C0" stroke="#000" stroke-width="1.2"/>
<circle cx="227.04" cy="211.40" r="2.15" fill="#0000C0" stroke="#000" stroke-width="1.2"/>
<circle cx="231.48" cy="215.00" r="2.15" fill="#0000C0" stroke="#000" stroke-width="1.2"/>
<circle cx="235.93" cy="216.80" r="2.15" fill="#0000C0" stroke="#000" stroke-width="1.2"/>
<circle cx="240.37" cy="207.98" r="2.15" fill="#0000C0" stroke="#000" stroke-width="1.2"/>
<circle cx="244.82" cy="210.50" r="2.15" fill="#0000C0" stroke="#000" stroke-width="1.2"/>
<circle cx="249.26" cy="229.40" r="2.15" fill="#0000C0" stroke="#000" stroke-width="1.2"/>
<line x1="40.34" y1="234.44" x2="40.34" y2="229.76" stroke="#000" stroke-width="1.00"/>
<line x1="38.34" y1="229.76" x2="42.34" y2="229.76" stroke="#000" stroke-width="1.30"/>
<line x1="44.79" y1="241.46" x2="44.79" y2="236.78" stroke="#000" stroke-width="1.00"/>
<line x1="42.79" y1="236.78" x2="46.79" y2="236.78" stroke="#000" stroke-width="1.30"/>
<line x1="49.23" y1="240.56" x2="49.23" y2="235.88" stroke="#000" stroke-width="1.00"/>
<line x1="47.23" y1="235.88" x2="51.23" y2="235.88" stroke="#000" stroke-width="1.30"/>
<line x1="53.68" y1="238.76" x2="53.68" y2="234.08" stroke="#000" stroke-width="1.00"/>
<line x1="51.68" y1="234.08" x2="55.68" y2="234.08" stroke="#000" stroke-width="1.30"/>
<line x1="58.12" y1="234.08" x2="58.12" y2="229.40" stroke="#000" stroke-width="1.00"/>
<line x1="56.12" y1="229.40" x2="60.12" y2="229.40" stroke="#000" stroke-width="1.30"/>
<line x1="62.57" y1="239.30" x2="62.57" y2="234.62" stroke="#000" stroke-width="1.00"/>
<line x1="60.57" y1="234.62" x2="64.57" y2="234.62" stroke="#000" stroke-width="1.30"/>
<line x1="67.02" y1="240.56" x2="67.02" y2="235.88" stroke="#000" stroke-width="1.00"/>
<line x1="65.02" y1="235.88" x2="69.02" y2="235.88" stroke="#000" stroke-width="1.30"/>
<line x1="71.46" y1="243.26" x2="71.46" y2="238.58" stroke="#000" stroke-width="1.00"/>
<line x1="69.46" y1="238.58" x2="73.46" y2="238.58" stroke="#000" stroke-width="1.30"/>
<line x1="75.91" y1="230.48" x2="75.91" y2="225.80" stroke="#000" stroke-width="1.00"/>
<line x1="73.91" y1="225.80" x2="77.91" y2="225.80" stroke="#000" stroke-width="1.30"/>
<line x1="80.35" y1="235.16" x2="80.35" y2="230.48" stroke="#000" stroke-width="1.00"/>
<line x1="78.35" y1="230.48" x2="82.35" y2="230.48" stroke="#000" stroke-width="1.30"/>
<line x1="84.80" y1="234.44" x2="84.80" y2="229.76" stroke="#000" stroke-width="1.00"/>
<line x1="82.80" y1="229.76" x2="86.80" y2="229.76" stroke="#000" stroke-width="1.30"/>
<line x1="89.24" y1="223.10" x2="89.24" y2="218.42" stroke="#000" stroke-width="1.00"/>
<line x1="87.24" y1="218.42" x2="91.24" y2="218.42" stroke="#000" stroke-width="1.30"/>
<line x1="93.69" y1="203.30" x2="93.69" y2="198.62" stroke="#000" stroke-width="1.00"/>
<line x1="91.69" y1="198.62" x2="95.69" y2="198.62" stroke="#000" stroke-width="1.30"/>
<line x1="98.13" y1="213.74" x2="98.13" y2="209.06" stroke="#000" stroke-width="1.00"/>
<line x1="96.13" y1="209.06" x2="100.13" y2="209.06" stroke="#000" stroke-width="1.30"/>
<line x1="102.58" y1="211.76" x2="102.58" y2="207.08" stroke="#000" stroke-width="1.00"/>
<line x1="100.58" y1="207.08" x2="104.58" y2="207.08" stroke="#000" stroke-width="1.30"/>
<line x1="107.02" y1="205.64" x2="107.02" y2="200.96" stroke="#000" stroke-width="1.00"/>
<line x1="105.02" y1="200.96" x2="109.02" y2="200.96" stroke="#000" stroke-width="1.30"/>
<line x1="111.47" y1="206.36" x2="111.47" y2="201.68" stroke="#000" stroke-width="1.00"/>
<line x1="109.47" y1="201.68" x2="113.47" y2="201.68" stroke="#000" stroke-width="1.30"/>
<line x1="115.91" y1="207.98" x2="115.91" y2="203.30" stroke="#000" stroke-width="1.00"/>
<line x1="113.91" y1="203.30" x2="117.91" y2="203.30" stroke="#000" stroke-width="1.30"/>
<line x1="120.36" y1="219.14" x2="120.36" y2="214.46" stroke="#000" stroke-width="1.00"/>
<line x1="118.36" y1="214.46" x2="122.36" y2="214.46" stroke="#000" stroke-width="1.30"/>
<line x1="124.80" y1="209.24" x2="124.80" y2="204.56" stroke="#000" stroke-width="1.00"/>
<line x1="122.80" y1="204.56" x2="126.80" y2="204.56" stroke="#000" stroke-width="1.30"/>
<line x1="129.25" y1="222.02" x2="129.25" y2="217.34" stroke="#000" stroke-width="1.00"/>
<line x1="127.25" y1="217.34" x2="131.25" y2="217.34" stroke="#000" stroke-width="1.30"/>
<line x1="133.69" y1="199.34" x2="133.69" y2="194.66" stroke="#000" stroke-width="1.00"/>
<line x1="131.69" y1="194.66" x2="135.69" y2="194.66" stroke="#000" stroke-width="1.30"/>
<line x1="138.14" y1="210.14" x2="138.14" y2="205.46" stroke="#000" stroke-width="1.00"/>
<line x1="136.14" y1="205.46" x2="140.14" y2="205.46" stroke="#000" stroke-width="1.30"/>
<line x1="142.58" y1="219.50" x2="142.58" y2="214.82" stroke="#000" stroke-width="1.00"/>
<line x1="140.58" y1="214.82" x2="144.58" y2="214.82" stroke="#000" stroke-width="1.30"/>
<line x1="147.03" y1="238.58" x2="147.03" y2="233.90" stroke="#000" stroke-width="1.00"/>
<line x1="145.03" y1="233.90" x2="149.03" y2="233.90" stroke="#000" stroke-width="1.30"/>
<line x1="151.47" y1="239.48" x2="151.47" y2="234.80" stroke="#000" stroke-width="1.00"/>
<line x1="149.47" y1="234.80" x2="153.47" y2="234.80" stroke="#000" stroke-width="1.30"/>
<line x1="155.92" y1="233.00" x2="155.92" y2="228.32" stroke="#000" stroke-width="1.00"/>
<line x1="153.92" y1="228.32" x2="157.92" y2="228.32" stroke="#000" stroke-width="1.30"/>
<line x1="160.36" y1="240.92" x2="160.36" y2="236.24" stroke="#000" stroke-width="1.00"/>
<line x1="158.36" y1="236.24" x2="162.36" y2="236.24" stroke="#000" stroke-width="1.30"/>
<line x1="164.81" y1="242.18" x2="164.81" y2="237.50" stroke="#000" stroke-width="1.00"/>
<line x1="162.81" y1="237.50" x2="166.81" y2="237.50" stroke="#000" stroke-width="1.30"/>
<line x1="169.25" y1="237.86" x2="169.25" y2="233.18" stroke="#000" stroke-width="1.00"/>
<line x1="167.25" y1="233.18" x2="171.25" y2="233.18" stroke="#000" stroke-width="1.30"/>
<line x1="173.70" y1="237.86" x2="173.70" y2="233.18" stroke="#000" stroke-width="1.00"/>
<line x1="171.70" y1="233.18" x2="175.70" y2="233.18" stroke="#000" stroke-width="1.30"/>
<line x1="178.14" y1="242.54" x2="178.14" y2="237.86" stroke="#000" stroke-width="1.00"/>
<line x1="176.14" y1="237.86" x2="180.14" y2="237.86" stroke="#000" stroke-width="1.30"/>
<line x1="182.59" y1="243.62" x2="182.59" y2="238.94" stroke="#000" stroke-width="1.00"/>
<line x1="180.59" y1="238.94" x2="184.59" y2="238.94" stroke="#000" stroke-width="1.30"/>
<line x1="187.03" y1="238.22" x2="187.03" y2="233.54" stroke="#000" stroke-width="1.00"/>
<line x1="185.03" y1="233.54" x2="189.03" y2="233.54" stroke="#000" stroke-width="1.30"/>
<line x1="191.48" y1="239.12" x2="191.48" y2="234.44" stroke="#000" stroke-width="1.00"/>
<line x1="189.48" y1="234.44" x2="193.48" y2="234.44" stroke="#000" stroke-width="1.30"/>
<line x1="195.92" y1="223.82" x2="195.92" y2="219.14" stroke="#000" stroke-width="1.00"/>
<line x1="193.92" y1="219.14" x2="197.92" y2="219.14" stroke="#000" stroke-width="1.30"/>
<line x1="200.37" y1="206.36" x2="200.37" y2="201.68" stroke="#000" stroke-width="1.00"/>
<line x1="198.37" y1="201.68" x2="202.37" y2="201.68" stroke="#000" stroke-width="1.30"/>
<line x1="204.81" y1="214.28" x2="204.81" y2="209.60" stroke="#000" stroke-width="1.00"/>
<line x1="202.81" y1="209.60" x2="206.81" y2="209.60" stroke="#000" stroke-width="1.30"/>
<line x1="209.26" y1="210.50" x2="209.26" y2="205.82" stroke="#000" stroke-width="1.00"/>
<line x1="207.26" y1="205.82" x2="211.26" y2="205.82" stroke="#000" stroke-width="1.30"/>
<line x1="213.70" y1="204.20" x2="213.70" y2="199.52" stroke="#000" stroke-width="1.00"/>
<line x1="211.70" y1="199.52" x2="215.70" y2="199.52" stroke="#000" stroke-width="1.30"/>
<line x1="218.15" y1="207.98" x2="218.15" y2="203.30" stroke="#000" stroke-width="1.00"/>
<line x1="216.15" y1="203.30" x2="220.15" y2="203.30" stroke="#000" stroke-width="1.30"/>
<line x1="222.59" y1="205.10" x2="222.59" y2="200.42" stroke="#000" stroke-width="1.00"/>
<line x1="220.59" y1="200.42" x2="224.59" y2="200.42" stroke="#000" stroke-width="1.30"/>
<line x1="227.04" y1="206.72" x2="227.04" y2="202.04" stroke="#000" stroke-width="1.00"/>
<line x1="225.04" y1="202.04" x2="229.04" y2="202.04" stroke="#000" stroke-width="1.30"/>
<line x1="231.48" y1="219.86" x2="231.48" y2="215.18" stroke="#000" stroke-width="1.00"/>
<line x1="229.48" y1="215.18" x2="233.48" y2="215.18" stroke="#000" stroke-width="1.30"/>
<line x1="235.93" y1="206.36" x2="235.93" y2="201.68" stroke="#000" stroke-width="1.00"/>
<line x1="233.93" y1="201.68" x2="237.93" y2="201.68" stroke="#000" stroke-width="1.30"/>
<line x1="240.37" y1="201.68" x2="240.37" y2="197.00" stroke="#000" stroke-width="1.00"/>
<line x1="238.37" y1="197.00" x2="242.37" y2="197.00" stroke="#000" stroke-width="1.30"/>
<line x1="244.82" y1="213.02" x2="244.82" y2="208.34" stroke="#000" stroke-width="1.00"/>
<line x1="242.82" y1="208.34" x2="246.82" y2="208.34" stroke="#000" stroke-width="1.30"/>
<line x1="249.26" y1="233.36" x2="249.26" y2="228.68" stroke="#000" stroke-width="1.00"/>
<line x1="247.26" y1="228.68" x2="251.26" y2="228.68" stroke="#000" stroke-width="1.30"/>
<path d="M40.34,234.44 L44.79,241.46 L49.23,240.56 L53.68,238.76 L58.12,234.08 L62.57,239.30 L67.02,240.56 L71.46,243.26 L75.91,230.48 L80.35,235.16 L84.80,234.44 L89.24,223.10 L93.69,203.30 L98.13,213.74 L102.58,211.76 L107.02,205.64 L111.47,206.36 L115.91,207.98 L120.36,219.14 L124.80,209.24 L129.25,222.02 L133.69,199.34 L138.14,210.14 L142.58,219.50 L147.03,238.58 L151.47,239.48 L155.92,233.00 L160.36,240.92 L164.81,242.18 L169.25,237.86 L173.70,237.86 L178.14,242.54 L182.59,243.62 L187.03,238.22 L191.48,239.12 L195.92,223.82 L200.37,206.36 L204.81,214.28 L209.26,210.50 L213.70,204.20 L218.15,207.98 L222.59,205.10 L227.04,206.72 L231.48,219.86 L235.93,206.36 L240.37,201.68 L244.82,213.02 L249.26,233.36" fill="none" stroke="#000" stroke-width="1.45" stroke-linejoin="round"/>
<circle cx="40.34" cy="234.44" r="2.15" fill="#fff" stroke="#000" stroke-width="1.2"/>
<circle cx="44.79" cy="241.46" r="2.15" fill="#fff" stroke="#000" stroke-width="1.2"/>
<circle cx="49.23" cy="240.56" r="2.15" fill="#fff" stroke="#000" stroke-width="1.2"/>
<circle cx="53.68" cy="238.76" r="2.15" fill="#fff" stroke="#000" stroke-width="1.2"/>
<circle cx="58.12" cy="234.08" r="2.15" fill="#fff" stroke="#000" stroke-width="1.2"/>
<circle cx="62.57" cy="239.30" r="2.15" fill="#fff" stroke="#000" stroke-width="1.2"/>
<circle cx="67.02" cy="240.56" r="2.15" fill="#fff" stroke="#000" stroke-width="1.2"/>
<circle cx="71.46" cy="243.26" r="2.15" fill="#fff" stroke="#000" stroke-width="1.2"/>
<circle cx="75.91" cy="230.48" r="2.15" fill="#fff" stroke="#000" stroke-width="1.2"/>
<circle cx="80.35" cy="235.16" r="2.15" fill="#fff" stroke="#000" stroke-width="1.2"/>
<circle cx="84.80" cy="234.44" r="2.15" fill="#fff" stroke="#000" stroke-width="1.2"/>
<circle cx="89.24" cy="223.10" r="2.15" fill="#fff" stroke="#000" stroke-width="1.2"/>
<circle cx="93.69" cy="203.30" r="2.15" fill="#fff" stroke="#000" stroke-width="1.2"/>
<circle cx="98.13" cy="213.74" r="2.15" fill="#fff" stroke="#000" stroke-width="1.2"/>
<circle cx="102.58" cy="211.76" r="2.15" fill="#fff" stroke="#000" stroke-width="1.2"/>
<circle cx="107.02" cy="205.64" r="2.15" fill="#fff" stroke="#000" stroke-width="1.2"/>
<circle cx="111.47" cy="206.36" r="2.15" fill="#fff" stroke="#000" stroke-width="1.2"/>
<circle cx="115.91" cy="207.98" r="2.15" fill="#fff" stroke="#000" stroke-width="1.2"/>
<circle cx="120.36" cy="219.14" r="2.15" fill="#fff" stroke="#000" stroke-width="1.2"/>
<circle cx="124.80" cy="209.24" r="2.15" fill="#fff" stroke="#000" stroke-width="1.2"/>
<circle cx="129.25" cy="222.02" r="2.15" fill="#fff" stroke="#000" stroke-width="1.2"/>
<circle cx="133.69" cy="199.34" r="2.15" fill="#fff" stroke="#000" stroke-width="1.2"/>
<circle cx="138.14" cy="210.14" r="2.15" fill="#fff" stroke="#000" stroke-width="1.2"/>
<circle cx="142.58" cy="219.50" r="2.15" fill="#fff" stroke="#000" stroke-width="1.2"/>
<circle cx="147.03" cy="238.58" r="2.15" fill="#fff" stroke="#000" stroke-width="1.2"/>
<circle cx="151.47" cy="239.48" r="2.15" fill="#fff" stroke="#000" stroke-width="1.2"/>
<circle cx="155.92" cy="233.00" r="2.15" fill="#fff" stroke="#000" stroke-width="1.2"/>
<circle cx="160.36" cy="240.92" r="2.15" fill="#fff" stroke="#000" stroke-width="1.2"/>
<circle cx="164.81" cy="242.18" r="2.15" fill="#fff" stroke="#000" stroke-width="1.2"/>
<circle cx="169.25" cy="237.86" r="2.15" fill="#fff" stroke="#000" stroke-width="1.2"/>
<circle cx="173.70" cy="237.86" r="2.15" fill="#fff" stroke="#000" stroke-width="1.2"/>
<circle cx="178.14" cy="242.54" r="2.15" fill="#fff" stroke="#000" stroke-width="1.2"/>
<circle cx="182.59" cy="243.62" r="2.15" fill="#fff" stroke="#000" stroke-width="1.2"/>
<circle cx="187.03" cy="238.22" r="2.15" fill="#fff" stroke="#000" stroke-width="1.2"/>
<circle cx="191.48" cy="239.12" r="2.15" fill="#fff" stroke="#000" stroke-width="1.2"/>
<circle cx="195.92" cy="223.82" r="2.15" fill="#fff" stroke="#000" stroke-width="1.2"/>
<circle cx="200.37" cy="206.36" r="2.15" fill="#fff" stroke="#000" stroke-width="1.2"/>
<circle cx="204.81" cy="214.28" r="2.15" fill="#fff" stroke="#000" stroke-width="1.2"/>
<circle cx="209.26" cy="210.50" r="2.15" fill="#fff" stroke="#000" stroke-width="1.2"/>
<circle cx="213.70" cy="204.20" r="2.15" fill="#fff" stroke="#000" stroke-width="1.2"/>
<circle cx="218.15" cy="207.98" r="2.15" fill="#fff" stroke="#000" stroke-width="1.2"/>
<circle cx="222.59" cy="205.10" r="2.15" fill="#fff" stroke="#000" stroke-width="1.2"/>
<circle cx="227.04" cy="206.72" r="2.15" fill="#fff" stroke="#000" stroke-width="1.2"/>
<circle cx="231.48" cy="219.86" r="2.15" fill="#fff" stroke="#000" stroke-width="1.2"/>
<circle cx="235.93" cy="206.36" r="2.15" fill="#fff" stroke="#000" stroke-width="1.2"/>
<circle cx="240.37" cy="201.68" r="2.15" fill="#fff" stroke="#000" stroke-width="1.2"/>
<circle cx="244.82" cy="213.02" r="2.15" fill="#fff" stroke="#000" stroke-width="1.2"/>
<circle cx="249.26" cy="233.36" r="2.15" fill="#fff" stroke="#000" stroke-width="1.2"/>
<text transform="translate(10.7,236.3) rotate(-90)" font-size="9.2" font-weight="bold" text-anchor="middle">VO<tspan font-size="7" dy="2">2</tspan><tspan dy="-2"> (ml/kg/min)</tspan></text>
<rect x="89.00" y="326.00" width="54.00" height="108.30" fill="#EEEEEE"/>
<rect x="195.00" y="326.00" width="54.40" height="108.30" fill="#EEEEEE"/>
<line x1="36.00" y1="325.30" x2="36.00" y2="416.00" stroke="#000" stroke-width="1.33"/>
<line x1="32.70" y1="325.40" x2="36.00" y2="325.40" stroke="#000" stroke-width="1.15"/>
<text transform="translate(31.50,329.20) scale(0.9524,1)" font-size="9.45" font-weight="bold" text-anchor="end" >1.1</text>
<line x1="32.70" y1="348.05" x2="36.00" y2="348.05" stroke="#000" stroke-width="1.15"/>
<text transform="translate(31.50,351.85) scale(0.9524,1)" font-size="9.45" font-weight="bold" text-anchor="end" >1.0</text>
<line x1="32.70" y1="370.70" x2="36.00" y2="370.70" stroke="#000" stroke-width="1.15"/>
<text transform="translate(31.50,374.50) scale(0.9524,1)" font-size="9.45" font-weight="bold" text-anchor="end" >0.9</text>
<line x1="32.70" y1="393.35" x2="36.00" y2="393.35" stroke="#000" stroke-width="1.15"/>
<text transform="translate(31.50,397.15) scale(0.9524,1)" font-size="9.45" font-weight="bold" text-anchor="end" >0.8</text>
<line x1="32.70" y1="416.00" x2="36.00" y2="416.00" stroke="#000" stroke-width="1.15"/>
<text transform="translate(31.50,419.80) scale(0.9524,1)" font-size="9.45" font-weight="bold" text-anchor="end" >0.7</text>
<line x1="32.70" y1="416.00" x2="38.90" y2="416.00" stroke="#000" stroke-width="1.35"/>
<line x1="36.00" y1="424.00" x2="36.00" y2="434.30" stroke="#000" stroke-width="1.33"/>
<line x1="32.70" y1="434.30" x2="36.00" y2="434.30" stroke="#000" stroke-width="1.15"/>
<text transform="translate(31.50,438.10) scale(0.9524,1)" font-size="9.45" font-weight="bold" text-anchor="end" >0.0</text>
<line x1="32.70" y1="424.00" x2="38.90" y2="424.00" stroke="#000" stroke-width="1.35"/>
<line x1="36.00" y1="434.30" x2="249.36" y2="434.30" stroke="#000" stroke-width="1.33"/>
<line x1="36.00" y1="434.30" x2="36.00" y2="437.30" stroke="#000" stroke-width="1.15"/>
<text x="36.00" y="447.40" font-size="9.0" font-weight="bold" text-anchor="middle" >0</text>
<line x1="89.24" y1="434.30" x2="89.24" y2="437.30" stroke="#000" stroke-width="1.15"/>
<text x="89.24" y="447.40" font-size="9.0" font-weight="bold" text-anchor="middle" >12</text>
<line x1="142.58" y1="434.30" x2="142.58" y2="437.30" stroke="#000" stroke-width="1.15"/>
<text x="142.58" y="447.40" font-size="9.0" font-weight="bold" text-anchor="middle" >24</text>
<line x1="195.92" y1="434.30" x2="195.92" y2="437.30" stroke="#000" stroke-width="1.15"/>
<text x="195.92" y="447.40" font-size="9.0" font-weight="bold" text-anchor="middle" >36</text>
<line x1="249.26" y1="434.30" x2="249.26" y2="437.30" stroke="#000" stroke-width="1.15"/>
<text x="249.26" y="447.40" font-size="9.0" font-weight="bold" text-anchor="middle" >48</text>
<text x="142.58" y="462.00" font-size="8.8" font-weight="bold" text-anchor="middle" >Time (h)</text>
<line x1="40.34" y1="369.57" x2="40.34" y2="365.04" stroke="#000" stroke-width="1.00"/>
<line x1="38.34" y1="365.04" x2="42.34" y2="365.04" stroke="#000" stroke-width="1.30"/>
<line x1="44.79" y1="379.31" x2="44.79" y2="374.78" stroke="#000" stroke-width="1.00"/>
<line x1="42.79" y1="374.78" x2="46.79" y2="374.78" stroke="#000" stroke-width="1.30"/>
<line x1="49.23" y1="383.16" x2="49.23" y2="378.63" stroke="#000" stroke-width="1.00"/>
<line x1="47.23" y1="378.63" x2="51.23" y2="378.63" stroke="#000" stroke-width="1.30"/>
<line x1="53.68" y1="388.14" x2="53.68" y2="383.61" stroke="#000" stroke-width="1.00"/>
<line x1="51.68" y1="383.61" x2="55.68" y2="383.61" stroke="#000" stroke-width="1.30"/>
<line x1="58.12" y1="395.16" x2="58.12" y2="390.63" stroke="#000" stroke-width="1.00"/>
<line x1="56.12" y1="390.63" x2="60.12" y2="390.63" stroke="#000" stroke-width="1.30"/>
<line x1="62.57" y1="393.58" x2="62.57" y2="389.05" stroke="#000" stroke-width="1.00"/>
<line x1="60.57" y1="389.05" x2="64.57" y2="389.05" stroke="#000" stroke-width="1.30"/>
<line x1="67.02" y1="389.50" x2="67.02" y2="384.97" stroke="#000" stroke-width="1.00"/>
<line x1="65.02" y1="384.97" x2="69.02" y2="384.97" stroke="#000" stroke-width="1.30"/>
<line x1="71.46" y1="387.91" x2="71.46" y2="383.38" stroke="#000" stroke-width="1.00"/>
<line x1="69.46" y1="383.38" x2="73.46" y2="383.38" stroke="#000" stroke-width="1.30"/>
<line x1="75.91" y1="377.95" x2="75.91" y2="373.42" stroke="#000" stroke-width="1.00"/>
<line x1="73.91" y1="373.42" x2="77.91" y2="373.42" stroke="#000" stroke-width="1.30"/>
<line x1="80.35" y1="375.91" x2="80.35" y2="371.38" stroke="#000" stroke-width="1.00"/>
<line x1="78.35" y1="371.38" x2="82.35" y2="371.38" stroke="#000" stroke-width="1.30"/>
<line x1="84.80" y1="373.42" x2="84.80" y2="368.89" stroke="#000" stroke-width="1.00"/>
<line x1="82.80" y1="368.89" x2="86.80" y2="368.89" stroke="#000" stroke-width="1.30"/>
<line x1="89.24" y1="372.74" x2="89.24" y2="368.21" stroke="#000" stroke-width="1.00"/>
<line x1="87.24" y1="368.21" x2="91.24" y2="368.21" stroke="#000" stroke-width="1.30"/>
<line x1="93.69" y1="355.98" x2="93.69" y2="353.71" stroke="#000" stroke-width="1.00"/>
<line x1="91.69" y1="353.71" x2="95.69" y2="353.71" stroke="#000" stroke-width="1.30"/>
<line x1="98.13" y1="350.54" x2="98.13" y2="348.28" stroke="#000" stroke-width="1.00"/>
<line x1="96.13" y1="348.28" x2="100.13" y2="348.28" stroke="#000" stroke-width="1.30"/>
<line x1="102.58" y1="346.69" x2="102.58" y2="344.43" stroke="#000" stroke-width="1.00"/>
<line x1="100.58" y1="344.43" x2="104.58" y2="344.43" stroke="#000" stroke-width="1.30"/>
<line x1="107.02" y1="350.31" x2="107.02" y2="348.05" stroke="#000" stroke-width="1.00"/>
<line x1="105.02" y1="348.05" x2="109.02" y2="348.05" stroke="#000" stroke-width="1.30"/>
<line x1="111.47" y1="349.18" x2="111.47" y2="346.92" stroke="#000" stroke-width="1.00"/>
<line x1="109.47" y1="346.92" x2="113.47" y2="346.92" stroke="#000" stroke-width="1.30"/>
<line x1="115.91" y1="351.22" x2="115.91" y2="348.96" stroke="#000" stroke-width="1.00"/>
<line x1="113.91" y1="348.96" x2="117.91" y2="348.96" stroke="#000" stroke-width="1.30"/>
<line x1="120.36" y1="352.81" x2="120.36" y2="350.54" stroke="#000" stroke-width="1.00"/>
<line x1="118.36" y1="350.54" x2="122.36" y2="350.54" stroke="#000" stroke-width="1.30"/>
<line x1="124.80" y1="357.56" x2="124.80" y2="355.30" stroke="#000" stroke-width="1.00"/>
<line x1="122.80" y1="355.30" x2="126.80" y2="355.30" stroke="#000" stroke-width="1.30"/>
<line x1="129.25" y1="359.15" x2="129.25" y2="356.88" stroke="#000" stroke-width="1.00"/>
<line x1="127.25" y1="356.88" x2="131.25" y2="356.88" stroke="#000" stroke-width="1.30"/>
<line x1="133.69" y1="354.39" x2="133.69" y2="352.13" stroke="#000" stroke-width="1.00"/>
<line x1="131.69" y1="352.13" x2="135.69" y2="352.13" stroke="#000" stroke-width="1.30"/>
<line x1="138.14" y1="357.56" x2="138.14" y2="355.30" stroke="#000" stroke-width="1.00"/>
<line x1="136.14" y1="355.30" x2="140.14" y2="355.30" stroke="#000" stroke-width="1.30"/>
<line x1="142.58" y1="366.40" x2="142.58" y2="364.13" stroke="#000" stroke-width="1.00"/>
<line x1="140.58" y1="364.13" x2="144.58" y2="364.13" stroke="#000" stroke-width="1.30"/>
<line x1="147.03" y1="372.74" x2="147.03" y2="368.21" stroke="#000" stroke-width="1.00"/>
<line x1="145.03" y1="368.21" x2="149.03" y2="368.21" stroke="#000" stroke-width="1.30"/>
<line x1="151.47" y1="380.89" x2="151.47" y2="376.36" stroke="#000" stroke-width="1.00"/>
<line x1="149.47" y1="376.36" x2="153.47" y2="376.36" stroke="#000" stroke-width="1.30"/>
<line x1="155.92" y1="383.61" x2="155.92" y2="379.08" stroke="#000" stroke-width="1.00"/>
<line x1="153.92" y1="379.08" x2="157.92" y2="379.08" stroke="#000" stroke-width="1.30"/>
<line x1="160.36" y1="385.42" x2="160.36" y2="380.89" stroke="#000" stroke-width="1.00"/>
<line x1="158.36" y1="380.89" x2="162.36" y2="380.89" stroke="#000" stroke-width="1.30"/>
<line x1="164.81" y1="389.50" x2="164.81" y2="384.97" stroke="#000" stroke-width="1.00"/>
<line x1="162.81" y1="384.97" x2="166.81" y2="384.97" stroke="#000" stroke-width="1.30"/>
<line x1="169.25" y1="391.76" x2="169.25" y2="387.23" stroke="#000" stroke-width="1.00"/>
<line x1="167.25" y1="387.23" x2="171.25" y2="387.23" stroke="#000" stroke-width="1.30"/>
<line x1="173.70" y1="391.08" x2="173.70" y2="386.55" stroke="#000" stroke-width="1.00"/>
<line x1="171.70" y1="386.55" x2="175.70" y2="386.55" stroke="#000" stroke-width="1.30"/>
<line x1="178.14" y1="388.37" x2="178.14" y2="383.84" stroke="#000" stroke-width="1.00"/>
<line x1="176.14" y1="383.84" x2="180.14" y2="383.84" stroke="#000" stroke-width="1.30"/>
<line x1="182.59" y1="389.50" x2="182.59" y2="384.97" stroke="#000" stroke-width="1.00"/>
<line x1="180.59" y1="384.97" x2="184.59" y2="384.97" stroke="#000" stroke-width="1.30"/>
<line x1="187.03" y1="376.59" x2="187.03" y2="372.06" stroke="#000" stroke-width="1.00"/>
<line x1="185.03" y1="372.06" x2="189.03" y2="372.06" stroke="#000" stroke-width="1.30"/>
<line x1="191.48" y1="382.25" x2="191.48" y2="377.72" stroke="#000" stroke-width="1.00"/>
<line x1="189.48" y1="377.72" x2="193.48" y2="377.72" stroke="#000" stroke-width="1.30"/>
<line x1="195.92" y1="373.19" x2="195.92" y2="368.66" stroke="#000" stroke-width="1.00"/>
<line x1="193.92" y1="368.66" x2="197.92" y2="368.66" stroke="#000" stroke-width="1.30"/>
<line x1="200.37" y1="358.47" x2="200.37" y2="356.20" stroke="#000" stroke-width="1.00"/>
<line x1="198.37" y1="356.20" x2="202.37" y2="356.20" stroke="#000" stroke-width="1.30"/>
<line x1="204.81" y1="351.90" x2="204.81" y2="349.64" stroke="#000" stroke-width="1.00"/>
<line x1="202.81" y1="349.64" x2="206.81" y2="349.64" stroke="#000" stroke-width="1.30"/>
<line x1="209.26" y1="347.14" x2="209.26" y2="344.88" stroke="#000" stroke-width="1.00"/>
<line x1="207.26" y1="344.88" x2="211.26" y2="344.88" stroke="#000" stroke-width="1.30"/>
<line x1="213.70" y1="343.07" x2="213.70" y2="340.80" stroke="#000" stroke-width="1.00"/>
<line x1="211.70" y1="340.80" x2="215.70" y2="340.80" stroke="#000" stroke-width="1.30"/>
<line x1="218.15" y1="342.61" x2="218.15" y2="340.35" stroke="#000" stroke-width="1.00"/>
<line x1="216.15" y1="340.35" x2="220.15" y2="340.35" stroke="#000" stroke-width="1.30"/>
<line x1="222.59" y1="348.50" x2="222.59" y2="346.24" stroke="#000" stroke-width="1.00"/>
<line x1="220.59" y1="346.24" x2="224.59" y2="346.24" stroke="#000" stroke-width="1.30"/>
<line x1="227.04" y1="353.49" x2="227.04" y2="351.22" stroke="#000" stroke-width="1.00"/>
<line x1="225.04" y1="351.22" x2="229.04" y2="351.22" stroke="#000" stroke-width="1.30"/>
<line x1="231.48" y1="354.85" x2="231.48" y2="352.58" stroke="#000" stroke-width="1.00"/>
<line x1="229.48" y1="352.58" x2="233.48" y2="352.58" stroke="#000" stroke-width="1.30"/>
<line x1="235.93" y1="356.66" x2="235.93" y2="354.39" stroke="#000" stroke-width="1.00"/>
<line x1="233.93" y1="354.39" x2="237.93" y2="354.39" stroke="#000" stroke-width="1.30"/>
<line x1="240.37" y1="353.49" x2="240.37" y2="351.22" stroke="#000" stroke-width="1.00"/>
<line x1="238.37" y1="351.22" x2="242.37" y2="351.22" stroke="#000" stroke-width="1.30"/>
<line x1="244.82" y1="360.51" x2="244.82" y2="358.24" stroke="#000" stroke-width="1.00"/>
<line x1="242.82" y1="358.24" x2="246.82" y2="358.24" stroke="#000" stroke-width="1.30"/>
<line x1="249.26" y1="371.83" x2="249.26" y2="369.57" stroke="#000" stroke-width="1.00"/>
<line x1="247.26" y1="369.57" x2="251.26" y2="369.57" stroke="#000" stroke-width="1.30"/>
<path d="M40.34,369.57 L44.79,379.31 L49.23,383.16 L53.68,388.14 L58.12,395.16 L62.57,393.58 L67.02,389.50 L71.46,387.91 L75.91,377.95 L80.35,375.91 L84.80,373.42 L89.24,372.74 L93.69,355.98 L98.13,350.54 L102.58,346.69 L107.02,350.31 L111.47,349.18 L115.91,351.22 L120.36,352.81 L124.80,357.56 L129.25,359.15 L133.69,354.39 L138.14,357.56 L142.58,366.40 L147.03,372.74 L151.47,380.89 L155.92,383.61 L160.36,385.42 L164.81,389.50 L169.25,391.76 L173.70,391.08 L178.14,388.37 L182.59,389.50 L187.03,376.59 L191.48,382.25 L195.92,373.19 L200.37,358.47 L204.81,351.90 L209.26,347.14 L213.70,343.07 L218.15,342.61 L222.59,348.50 L227.04,353.49 L231.48,354.85 L235.93,356.66 L240.37,353.49 L244.82,360.51 L249.26,371.83" fill="none" stroke="#000" stroke-width="1.45" stroke-linejoin="round"/>
<circle cx="40.34" cy="369.57" r="2.15" fill="#fff" stroke="#000" stroke-width="1.2"/>
<circle cx="44.79" cy="379.31" r="2.15" fill="#fff" stroke="#000" stroke-width="1.2"/>
<circle cx="49.23" cy="383.16" r="2.15" fill="#fff" stroke="#000" stroke-width="1.2"/>
<circle cx="53.68" cy="388.14" r="2.15" fill="#fff" stroke="#000" stroke-width="1.2"/>
<circle cx="58.12" cy="395.16" r="2.15" fill="#fff" stroke="#000" stroke-width="1.2"/>
<circle cx="62.57" cy="393.58" r="2.15" fill="#fff" stroke="#000" stroke-width="1.2"/>
<circle cx="67.02" cy="389.50" r="2.15" fill="#fff" stroke="#000" stroke-width="1.2"/>
<circle cx="71.46" cy="387.91" r="2.15" fill="#fff" stroke="#000" stroke-width="1.2"/>
<circle cx="75.91" cy="377.95" r="2.15" fill="#fff" stroke="#000" stroke-width="1.2"/>
<circle cx="80.35" cy="375.91" r="2.15" fill="#fff" stroke="#000" stroke-width="1.2"/>
<circle cx="84.80" cy="373.42" r="2.15" fill="#fff" stroke="#000" stroke-width="1.2"/>
<circle cx="89.24" cy="372.74" r="2.15" fill="#fff" stroke="#000" stroke-width="1.2"/>
<circle cx="93.69" cy="355.98" r="2.15" fill="#fff" stroke="#000" stroke-width="1.2"/>
<circle cx="98.13" cy="350.54" r="2.15" fill="#fff" stroke="#000" stroke-width="1.2"/>
<circle cx="102.58" cy="346.69" r="2.15" fill="#fff" stroke="#000" stroke-width="1.2"/>
<circle cx="107.02" cy="350.31" r="2.15" fill="#fff" stroke="#000" stroke-width="1.2"/>
<circle cx="111.47" cy="349.18" r="2.15" fill="#fff" stroke="#000" stroke-width="1.2"/>
<circle cx="115.91" cy="351.22" r="2.15" fill="#fff" stroke="#000" stroke-width="1.2"/>
<circle cx="120.36" cy="352.81" r="2.15" fill="#fff" stroke="#000" stroke-width="1.2"/>
<circle cx="124.80" cy="357.56" r="2.15" fill="#fff" stroke="#000" stroke-width="1.2"/>
<circle cx="129.25" cy="359.15" r="2.15" fill="#fff" stroke="#000" stroke-width="1.2"/>
<circle cx="133.69" cy="354.39" r="2.15" fill="#fff" stroke="#000" stroke-width="1.2"/>
<circle cx="138.14" cy="357.56" r="2.15" fill="#fff" stroke="#000" stroke-width="1.2"/>
<circle cx="142.58" cy="366.40" r="2.15" fill="#fff" stroke="#000" stroke-width="1.2"/>
<circle cx="147.03" cy="372.74" r="2.15" fill="#fff" stroke="#000" stroke-width="1.2"/>
<circle cx="151.47" cy="380.89" r="2.15" fill="#fff" stroke="#000" stroke-width="1.2"/>
<circle cx="155.92" cy="383.61" r="2.15" fill="#fff" stroke="#000" stroke-width="1.2"/>
<circle cx="160.36" cy="385.42" r="2.15" fill="#fff" stroke="#000" stroke-width="1.2"/>
<circle cx="164.81" cy="389.50" r="2.15" fill="#fff" stroke="#000" stroke-width="1.2"/>
<circle cx="169.25" cy="391.76" r="2.15" fill="#fff" stroke="#000" stroke-width="1.2"/>
<circle cx="173.70" cy="391.08" r="2.15" fill="#fff" stroke="#000" stroke-width="1.2"/>
<circle cx="178.14" cy="388.37" r="2.15" fill="#fff" stroke="#000" stroke-width="1.2"/>
<circle cx="182.59" cy="389.50" r="2.15" fill="#fff" stroke="#000" stroke-width="1.2"/>
<circle cx="187.03" cy="376.59" r="2.15" fill="#fff" stroke="#000" stroke-width="1.2"/>
<circle cx="191.48" cy="382.25" r="2.15" fill="#fff" stroke="#000" stroke-width="1.2"/>
<circle cx="195.92" cy="373.19" r="2.15" fill="#fff" stroke="#000" stroke-width="1.2"/>
<circle cx="200.37" cy="358.47" r="2.15" fill="#fff" stroke="#000" stroke-width="1.2"/>
<circle cx="204.81" cy="351.90" r="2.15" fill="#fff" stroke="#000" stroke-width="1.2"/>
<circle cx="209.26" cy="347.14" r="2.15" fill="#fff" stroke="#000" stroke-width="1.2"/>
<circle cx="213.70" cy="343.07" r="2.15" fill="#fff" stroke="#000" stroke-width="1.2"/>
<circle cx="218.15" cy="342.61" r="2.15" fill="#fff" stroke="#000" stroke-width="1.2"/>
<circle cx="222.59" cy="348.50" r="2.15" fill="#fff" stroke="#000" stroke-width="1.2"/>
<circle cx="227.04" cy="353.49" r="2.15" fill="#fff" stroke="#000" stroke-width="1.2"/>
<circle cx="231.48" cy="354.85" r="2.15" fill="#fff" stroke="#000" stroke-width="1.2"/>
<circle cx="235.93" cy="356.66" r="2.15" fill="#fff" stroke="#000" stroke-width="1.2"/>
<circle cx="240.37" cy="353.49" r="2.15" fill="#fff" stroke="#000" stroke-width="1.2"/>
<circle cx="244.82" cy="360.51" r="2.15" fill="#fff" stroke="#000" stroke-width="1.2"/>
<circle cx="249.26" cy="371.83" r="2.15" fill="#fff" stroke="#000" stroke-width="1.2"/>
<line x1="40.34" y1="376.36" x2="40.34" y2="371.83" stroke="#000" stroke-width="1.00"/>
<line x1="38.34" y1="371.83" x2="42.34" y2="371.83" stroke="#000" stroke-width="1.30"/>
<line x1="44.79" y1="382.93" x2="44.79" y2="378.40" stroke="#000" stroke-width="1.00"/>
<line x1="42.79" y1="378.40" x2="46.79" y2="378.40" stroke="#000" stroke-width="1.30"/>
<line x1="49.23" y1="386.33" x2="49.23" y2="381.80" stroke="#000" stroke-width="1.00"/>
<line x1="47.23" y1="381.80" x2="51.23" y2="381.80" stroke="#000" stroke-width="1.30"/>
<line x1="53.68" y1="388.82" x2="53.68" y2="384.29" stroke="#000" stroke-width="1.00"/>
<line x1="51.68" y1="384.29" x2="55.68" y2="384.29" stroke="#000" stroke-width="1.30"/>
<line x1="58.12" y1="383.16" x2="58.12" y2="378.63" stroke="#000" stroke-width="1.00"/>
<line x1="56.12" y1="378.63" x2="60.12" y2="378.63" stroke="#000" stroke-width="1.30"/>
<line x1="62.57" y1="386.10" x2="62.57" y2="381.57" stroke="#000" stroke-width="1.00"/>
<line x1="60.57" y1="381.57" x2="64.57" y2="381.57" stroke="#000" stroke-width="1.30"/>
<line x1="67.02" y1="384.06" x2="67.02" y2="379.53" stroke="#000" stroke-width="1.00"/>
<line x1="65.02" y1="379.53" x2="69.02" y2="379.53" stroke="#000" stroke-width="1.30"/>
<line x1="71.46" y1="375.00" x2="71.46" y2="370.47" stroke="#000" stroke-width="1.00"/>
<line x1="69.46" y1="370.47" x2="73.46" y2="370.47" stroke="#000" stroke-width="1.30"/>
<line x1="75.91" y1="380.44" x2="75.91" y2="375.91" stroke="#000" stroke-width="1.00"/>
<line x1="73.91" y1="375.91" x2="77.91" y2="375.91" stroke="#000" stroke-width="1.30"/>
<line x1="80.35" y1="371.83" x2="80.35" y2="367.30" stroke="#000" stroke-width="1.00"/>
<line x1="78.35" y1="367.30" x2="82.35" y2="367.30" stroke="#000" stroke-width="1.30"/>
<line x1="84.80" y1="376.36" x2="84.80" y2="371.83" stroke="#000" stroke-width="1.00"/>
<line x1="82.80" y1="371.83" x2="86.80" y2="371.83" stroke="#000" stroke-width="1.30"/>
<line x1="89.24" y1="371.15" x2="89.24" y2="366.62" stroke="#000" stroke-width="1.00"/>
<line x1="87.24" y1="366.62" x2="91.24" y2="366.62" stroke="#000" stroke-width="1.30"/>
<line x1="93.69" y1="363.68" x2="93.69" y2="361.41" stroke="#000" stroke-width="1.00"/>
<line x1="91.69" y1="361.41" x2="95.69" y2="361.41" stroke="#000" stroke-width="1.30"/>
<line x1="98.13" y1="355.52" x2="98.13" y2="353.26" stroke="#000" stroke-width="1.00"/>
<line x1="96.13" y1="353.26" x2="100.13" y2="353.26" stroke="#000" stroke-width="1.30"/>
<line x1="102.58" y1="350.54" x2="102.58" y2="348.28" stroke="#000" stroke-width="1.00"/>
<line x1="100.58" y1="348.28" x2="104.58" y2="348.28" stroke="#000" stroke-width="1.30"/>
<line x1="107.02" y1="350.54" x2="107.02" y2="348.28" stroke="#000" stroke-width="1.00"/>
<line x1="105.02" y1="348.28" x2="109.02" y2="348.28" stroke="#000" stroke-width="1.30"/>
<line x1="111.47" y1="349.18" x2="111.47" y2="346.92" stroke="#000" stroke-width="1.00"/>
<line x1="109.47" y1="346.92" x2="113.47" y2="346.92" stroke="#000" stroke-width="1.30"/>
<line x1="115.91" y1="353.49" x2="115.91" y2="351.22" stroke="#000" stroke-width="1.00"/>
<line x1="113.91" y1="351.22" x2="117.91" y2="351.22" stroke="#000" stroke-width="1.30"/>
<line x1="120.36" y1="353.03" x2="120.36" y2="350.77" stroke="#000" stroke-width="1.00"/>
<line x1="118.36" y1="350.77" x2="122.36" y2="350.77" stroke="#000" stroke-width="1.30"/>
<line x1="124.80" y1="356.66" x2="124.80" y2="354.39" stroke="#000" stroke-width="1.00"/>
<line x1="122.80" y1="354.39" x2="126.80" y2="354.39" stroke="#000" stroke-width="1.30"/>
<line x1="129.25" y1="357.56" x2="129.25" y2="355.30" stroke="#000" stroke-width="1.00"/>
<line x1="127.25" y1="355.30" x2="131.25" y2="355.30" stroke="#000" stroke-width="1.30"/>
<line x1="133.69" y1="355.07" x2="133.69" y2="352.81" stroke="#000" stroke-width="1.00"/>
<line x1="131.69" y1="352.81" x2="135.69" y2="352.81" stroke="#000" stroke-width="1.30"/>
<line x1="138.14" y1="359.15" x2="138.14" y2="356.88" stroke="#000" stroke-width="1.00"/>
<line x1="136.14" y1="356.88" x2="140.14" y2="356.88" stroke="#000" stroke-width="1.30"/>
<line x1="142.58" y1="368.66" x2="142.58" y2="366.40" stroke="#000" stroke-width="1.00"/>
<line x1="140.58" y1="366.40" x2="144.58" y2="366.40" stroke="#000" stroke-width="1.30"/>
<line x1="147.03" y1="373.87" x2="147.03" y2="369.34" stroke="#000" stroke-width="1.00"/>
<line x1="145.03" y1="369.34" x2="149.03" y2="369.34" stroke="#000" stroke-width="1.30"/>
<line x1="151.47" y1="382.25" x2="151.47" y2="377.72" stroke="#000" stroke-width="1.00"/>
<line x1="149.47" y1="377.72" x2="153.47" y2="377.72" stroke="#000" stroke-width="1.30"/>
<line x1="155.92" y1="385.42" x2="155.92" y2="380.89" stroke="#000" stroke-width="1.00"/>
<line x1="153.92" y1="380.89" x2="157.92" y2="380.89" stroke="#000" stroke-width="1.30"/>
<line x1="160.36" y1="384.52" x2="160.36" y2="379.99" stroke="#000" stroke-width="1.00"/>
<line x1="158.36" y1="379.99" x2="162.36" y2="379.99" stroke="#000" stroke-width="1.30"/>
<line x1="164.81" y1="384.52" x2="164.81" y2="379.99" stroke="#000" stroke-width="1.00"/>
<line x1="162.81" y1="379.99" x2="166.81" y2="379.99" stroke="#000" stroke-width="1.30"/>
<line x1="169.25" y1="384.52" x2="169.25" y2="379.99" stroke="#000" stroke-width="1.00"/>
<line x1="167.25" y1="379.99" x2="171.25" y2="379.99" stroke="#000" stroke-width="1.30"/>
<line x1="173.70" y1="388.37" x2="173.70" y2="383.84" stroke="#000" stroke-width="1.00"/>
<line x1="171.70" y1="383.84" x2="175.70" y2="383.84" stroke="#000" stroke-width="1.30"/>
<line x1="178.14" y1="379.99" x2="178.14" y2="375.46" stroke="#000" stroke-width="1.00"/>
<line x1="176.14" y1="375.46" x2="180.14" y2="375.46" stroke="#000" stroke-width="1.30"/>
<line x1="182.59" y1="380.21" x2="182.59" y2="375.68" stroke="#000" stroke-width="1.00"/>
<line x1="180.59" y1="375.68" x2="184.59" y2="375.68" stroke="#000" stroke-width="1.30"/>
<line x1="187.03" y1="370.70" x2="187.03" y2="366.17" stroke="#000" stroke-width="1.00"/>
<line x1="185.03" y1="366.17" x2="189.03" y2="366.17" stroke="#000" stroke-width="1.30"/>
<line x1="191.48" y1="371.61" x2="191.48" y2="367.08" stroke="#000" stroke-width="1.00"/>
<line x1="189.48" y1="367.08" x2="193.48" y2="367.08" stroke="#000" stroke-width="1.30"/>
<line x1="195.92" y1="370.70" x2="195.92" y2="366.17" stroke="#000" stroke-width="1.00"/>
<line x1="193.92" y1="366.17" x2="197.92" y2="366.17" stroke="#000" stroke-width="1.30"/>
<line x1="200.37" y1="360.51" x2="200.37" y2="358.24" stroke="#000" stroke-width="1.00"/>
<line x1="198.37" y1="358.24" x2="202.37" y2="358.24" stroke="#000" stroke-width="1.30"/>
<line x1="204.81" y1="353.03" x2="204.81" y2="350.77" stroke="#000" stroke-width="1.00"/>
<line x1="202.81" y1="350.77" x2="206.81" y2="350.77" stroke="#000" stroke-width="1.30"/>
<line x1="209.26" y1="348.05" x2="209.26" y2="345.78" stroke="#000" stroke-width="1.00"/>
<line x1="207.26" y1="345.78" x2="211.26" y2="345.78" stroke="#000" stroke-width="1.30"/>
<line x1="213.70" y1="346.46" x2="213.70" y2="344.20" stroke="#000" stroke-width="1.00"/>
<line x1="211.70" y1="344.20" x2="215.70" y2="344.20" stroke="#000" stroke-width="1.30"/>
<line x1="218.15" y1="345.11" x2="218.15" y2="342.84" stroke="#000" stroke-width="1.00"/>
<line x1="216.15" y1="342.84" x2="220.15" y2="342.84" stroke="#000" stroke-width="1.30"/>
<line x1="222.59" y1="348.96" x2="222.59" y2="346.69" stroke="#000" stroke-width="1.00"/>
<line x1="220.59" y1="346.69" x2="224.59" y2="346.69" stroke="#000" stroke-width="1.30"/>
<line x1="227.04" y1="354.39" x2="227.04" y2="352.13" stroke="#000" stroke-width="1.00"/>
<line x1="225.04" y1="352.13" x2="229.04" y2="352.13" stroke="#000" stroke-width="1.30"/>
<line x1="231.48" y1="355.98" x2="231.48" y2="353.71" stroke="#000" stroke-width="1.00"/>
<line x1="229.48" y1="353.71" x2="233.48" y2="353.71" stroke="#000" stroke-width="1.30"/>
<line x1="235.93" y1="360.28" x2="235.93" y2="358.02" stroke="#000" stroke-width="1.00"/>
<line x1="233.93" y1="358.02" x2="237.93" y2="358.02" stroke="#000" stroke-width="1.30"/>
<line x1="240.37" y1="355.07" x2="240.37" y2="352.81" stroke="#000" stroke-width="1.00"/>
<line x1="238.37" y1="352.81" x2="242.37" y2="352.81" stroke="#000" stroke-width="1.30"/>
<line x1="244.82" y1="356.88" x2="244.82" y2="354.62" stroke="#000" stroke-width="1.00"/>
<line x1="242.82" y1="354.62" x2="246.82" y2="354.62" stroke="#000" stroke-width="1.30"/>
<line x1="249.26" y1="365.26" x2="249.26" y2="363.00" stroke="#000" stroke-width="1.00"/>
<line x1="247.26" y1="363.00" x2="251.26" y2="363.00" stroke="#000" stroke-width="1.30"/>
<path d="M40.34,376.36 L44.79,382.93 L49.23,386.33 L53.68,388.82 L58.12,383.16 L62.57,386.10 L67.02,384.06 L71.46,375.00 L75.91,380.44 L80.35,371.83 L84.80,376.36 L89.24,371.15 L93.69,363.68 L98.13,355.52 L102.58,350.54 L107.02,350.54 L111.47,349.18 L115.91,353.49 L120.36,353.03 L124.80,356.66 L129.25,357.56 L133.69,355.07 L138.14,359.15 L142.58,368.66 L147.03,373.87 L151.47,382.25 L155.92,385.42 L160.36,384.52 L164.81,384.52 L169.25,384.52 L173.70,388.37 L178.14,379.99 L182.59,380.21 L187.03,370.70 L191.48,371.61 L195.92,370.70 L200.37,360.51 L204.81,353.03 L209.26,348.05 L213.70,346.46 L218.15,345.11 L222.59,348.96 L227.04,354.39 L231.48,355.98 L235.93,360.28 L240.37,355.07 L244.82,356.88 L249.26,365.26" fill="none" stroke="#000" stroke-width="1.45" stroke-linejoin="round"/>
<circle cx="40.34" cy="376.36" r="2.15" fill="#0000C0" stroke="#000" stroke-width="1.2"/>
<circle cx="44.79" cy="382.93" r="2.15" fill="#0000C0" stroke="#000" stroke-width="1.2"/>
<circle cx="49.23" cy="386.33" r="2.15" fill="#0000C0" stroke="#000" stroke-width="1.2"/>
<circle cx="53.68" cy="388.82" r="2.15" fill="#0000C0" stroke="#000" stroke-width="1.2"/>
<circle cx="58.12" cy="383.16" r="2.15" fill="#0000C0" stroke="#000" stroke-width="1.2"/>
<circle cx="62.57" cy="386.10" r="2.15" fill="#0000C0" stroke="#000" stroke-width="1.2"/>
<circle cx="67.02" cy="384.06" r="2.15" fill="#0000C0" stroke="#000" stroke-width="1.2"/>
<circle cx="71.46" cy="375.00" r="2.15" fill="#0000C0" stroke="#000" stroke-width="1.2"/>
<circle cx="75.91" cy="380.44" r="2.15" fill="#0000C0" stroke="#000" stroke-width="1.2"/>
<circle cx="80.35" cy="371.83" r="2.15" fill="#0000C0" stroke="#000" stroke-width="1.2"/>
<circle cx="84.80" cy="376.36" r="2.15" fill="#0000C0" stroke="#000" stroke-width="1.2"/>
<circle cx="89.24" cy="371.15" r="2.15" fill="#0000C0" stroke="#000" stroke-width="1.2"/>
<circle cx="93.69" cy="363.68" r="2.15" fill="#0000C0" stroke="#000" stroke-width="1.2"/>
<circle cx="98.13" cy="355.52" r="2.15" fill="#0000C0" stroke="#000" stroke-width="1.2"/>
<circle cx="102.58" cy="350.54" r="2.15" fill="#0000C0" stroke="#000" stroke-width="1.2"/>
<circle cx="107.02" cy="350.54" r="2.15" fill="#0000C0" stroke="#000" stroke-width="1.2"/>
<circle cx="111.47" cy="349.18" r="2.15" fill="#0000C0" stroke="#000" stroke-width="1.2"/>
<circle cx="115.91" cy="353.49" r="2.15" fill="#0000C0" stroke="#000" stroke-width="1.2"/>
<circle cx="120.36" cy="353.03" r="2.15" fill="#0000C0" stroke="#000" stroke-width="1.2"/>
<circle cx="124.80" cy="356.66" r="2.15" fill="#0000C0" stroke="#000" stroke-width="1.2"/>
<circle cx="129.25" cy="357.56" r="2.15" fill="#0000C0" stroke="#000" stroke-width="1.2"/>
<circle cx="133.69" cy="355.07" r="2.15" fill="#0000C0" stroke="#000" stroke-width="1.2"/>
<circle cx="138.14" cy="359.15" r="2.15" fill="#0000C0" stroke="#000" stroke-width="1.2"/>
<circle cx="142.58" cy="368.66" r="2.15" fill="#0000C0" stroke="#000" stroke-width="1.2"/>
<circle cx="147.03" cy="373.87" r="2.15" fill="#0000C0" stroke="#000" stroke-width="1.2"/>
<circle cx="151.47" cy="382.25" r="2.15" fill="#0000C0" stroke="#000" stroke-width="1.2"/>
<circle cx="155.92" cy="385.42" r="2.15" fill="#0000C0" stroke="#000" stroke-width="1.2"/>
<circle cx="160.36" cy="384.52" r="2.15" fill="#0000C0" stroke="#000" stroke-width="1.2"/>
<circle cx="164.81" cy="384.52" r="2.15" fill="#0000C0" stroke="#000" stroke-width="1.2"/>
<circle cx="169.25" cy="384.52" r="2.15" fill="#0000C0" stroke="#000" stroke-width="1.2"/>
<circle cx="173.70" cy="388.37" r="2.15" fill="#0000C0" stroke="#000" stroke-width="1.2"/>
<circle cx="178.14" cy="379.99" r="2.15" fill="#0000C0" stroke="#000" stroke-width="1.2"/>
<circle cx="182.59" cy="380.21" r="2.15" fill="#0000C0" stroke="#000" stroke-width="1.2"/>
<circle cx="187.03" cy="370.70" r="2.15" fill="#0000C0" stroke="#000" stroke-width="1.2"/>
<circle cx="191.48" cy="371.61" r="2.15" fill="#0000C0" stroke="#000" stroke-width="1.2"/>
<circle cx="195.92" cy="370.70" r="2.15" fill="#0000C0" stroke="#000" stroke-width="1.2"/>
<circle cx="200.37" cy="360.51" r="2.15" fill="#0000C0" stroke="#000" stroke-width="1.2"/>
<circle cx="204.81" cy="353.03" r="2.15" fill="#0000C0" stroke="#000" stroke-width="1.2"/>
<circle cx="209.26" cy="348.05" r="2.15" fill="#0000C0" stroke="#000" stroke-width="1.2"/>
<circle cx="213.70" cy="346.46" r="2.15" fill="#0000C0" stroke="#000" stroke-width="1.2"/>
<circle cx="218.15" cy="345.11" r="2.15" fill="#0000C0" stroke="#000" stroke-width="1.2"/>
<circle cx="222.59" cy="348.96" r="2.15" fill="#0000C0" stroke="#000" stroke-width="1.2"/>
<circle cx="227.04" cy="354.39" r="2.15" fill="#0000C0" stroke="#000" stroke-width="1.2"/>
<circle cx="231.48" cy="355.98" r="2.15" fill="#0000C0" stroke="#000" stroke-width="1.2"/>
<circle cx="235.93" cy="360.28" r="2.15" fill="#0000C0" stroke="#000" stroke-width="1.2"/>
<circle cx="240.37" cy="355.07" r="2.15" fill="#0000C0" stroke="#000" stroke-width="1.2"/>
<circle cx="244.82" cy="356.88" r="2.15" fill="#0000C0" stroke="#000" stroke-width="1.2"/>
<circle cx="249.26" cy="365.26" r="2.15" fill="#0000C0" stroke="#000" stroke-width="1.2"/>
<text transform="translate(11.80,376.60) rotate(-90) scale(0.9259,1)" font-size="9.34" font-weight="bold" text-anchor="middle" >RER (VCO2/VO2)</text>
<text x="255.85" y="171.85" font-size="17" font-weight="bold" text-anchor="start" >F</text>
<line x1="287.30" y1="175.40" x2="393.40" y2="175.40" stroke="#000" stroke-width="1.60"/>
<line x1="396.50" y1="175.40" x2="502.80" y2="175.40" stroke="#000" stroke-width="1.60"/>
<line x1="287.30" y1="170.90" x2="287.30" y2="180.00" stroke="#000" stroke-width="1.50"/>
<line x1="393.40" y1="170.90" x2="393.40" y2="180.00" stroke="#000" stroke-width="1.50"/>
<line x1="396.50" y1="170.90" x2="396.50" y2="180.00" stroke="#000" stroke-width="1.50"/>
<line x1="502.80" y1="170.90" x2="502.80" y2="180.00" stroke="#000" stroke-width="1.50"/>
<text x="339.80" y="172.90" font-size="8.9" font-weight="normal" text-anchor="middle" >24-h fast</text>
<text x="449.10" y="172.90" font-size="8.9" font-weight="normal" text-anchor="middle" >24-h refeeding</text>
<rect x="340.00" y="183.00" width="54.20" height="108.30" fill="#EEEEEE"/>
<rect x="447.20" y="183.00" width="54.50" height="108.30" fill="#EEEEEE"/>
<line x1="286.50" y1="182.80" x2="286.50" y2="272.60" stroke="#000" stroke-width="1.33"/>
<line x1="283.20" y1="182.60" x2="286.50" y2="182.60" stroke="#000" stroke-width="1.15"/>
<text transform="translate(282.00,186.40) scale(0.9524,1)" font-size="9.45" font-weight="bold" text-anchor="end" >80</text>
<line x1="283.20" y1="200.60" x2="286.50" y2="200.60" stroke="#000" stroke-width="1.15"/>
<text transform="translate(282.00,204.40) scale(0.9524,1)" font-size="9.45" font-weight="bold" text-anchor="end" >70</text>
<line x1="283.20" y1="218.60" x2="286.50" y2="218.60" stroke="#000" stroke-width="1.15"/>
<text transform="translate(282.00,222.40) scale(0.9524,1)" font-size="9.45" font-weight="bold" text-anchor="end" >60</text>
<line x1="283.20" y1="236.60" x2="286.50" y2="236.60" stroke="#000" stroke-width="1.15"/>
<text transform="translate(282.00,240.40) scale(0.9524,1)" font-size="9.45" font-weight="bold" text-anchor="end" >50</text>
<line x1="283.20" y1="254.60" x2="286.50" y2="254.60" stroke="#000" stroke-width="1.15"/>
<text transform="translate(282.00,258.40) scale(0.9524,1)" font-size="9.45" font-weight="bold" text-anchor="end" >40</text>
<line x1="283.20" y1="272.60" x2="286.50" y2="272.60" stroke="#000" stroke-width="1.15"/>
<text transform="translate(282.00,276.40) scale(0.9524,1)" font-size="9.45" font-weight="bold" text-anchor="end" >30</text>
<line x1="283.20" y1="272.60" x2="289.40" y2="272.60" stroke="#000" stroke-width="1.35"/>
<line x1="286.50" y1="280.80" x2="286.50" y2="291.10" stroke="#000" stroke-width="1.33"/>
<line x1="283.20" y1="291.10" x2="286.50" y2="291.10" stroke="#000" stroke-width="1.15"/>
<text transform="translate(282.00,294.90) scale(0.9524,1)" font-size="9.45" font-weight="bold" text-anchor="end" >0</text>
<line x1="283.20" y1="280.80" x2="289.40" y2="280.80" stroke="#000" stroke-width="1.35"/>
<line x1="291.24" y1="222.02" x2="291.24" y2="217.52" stroke="#000" stroke-width="1.00"/>
<line x1="289.24" y1="217.52" x2="293.24" y2="217.52" stroke="#000" stroke-width="1.30"/>
<line x1="295.68" y1="195.74" x2="295.68" y2="191.24" stroke="#000" stroke-width="1.00"/>
<line x1="293.68" y1="191.24" x2="297.68" y2="191.24" stroke="#000" stroke-width="1.30"/>
<line x1="300.12" y1="225.08" x2="300.12" y2="217.88" stroke="#000" stroke-width="1.00"/>
<line x1="298.12" y1="217.88" x2="302.12" y2="217.88" stroke="#000" stroke-width="1.30"/>
<line x1="304.56" y1="242.36" x2="304.56" y2="237.86" stroke="#000" stroke-width="1.00"/>
<line x1="302.56" y1="237.86" x2="306.56" y2="237.86" stroke="#000" stroke-width="1.30"/>
<line x1="309.00" y1="244.16" x2="309.00" y2="239.66" stroke="#000" stroke-width="1.00"/>
<line x1="307.00" y1="239.66" x2="311.00" y2="239.66" stroke="#000" stroke-width="1.30"/>
<line x1="313.44" y1="246.86" x2="313.44" y2="242.36" stroke="#000" stroke-width="1.00"/>
<line x1="311.44" y1="242.36" x2="315.44" y2="242.36" stroke="#000" stroke-width="1.30"/>
<line x1="317.88" y1="242.36" x2="317.88" y2="237.86" stroke="#000" stroke-width="1.00"/>
<line x1="315.88" y1="237.86" x2="319.88" y2="237.86" stroke="#000" stroke-width="1.30"/>
<line x1="322.32" y1="246.14" x2="322.32" y2="241.64" stroke="#000" stroke-width="1.00"/>
<line x1="320.32" y1="241.64" x2="324.32" y2="241.64" stroke="#000" stroke-width="1.30"/>
<line x1="326.76" y1="241.46" x2="326.76" y2="236.96" stroke="#000" stroke-width="1.00"/>
<line x1="324.76" y1="236.96" x2="328.76" y2="236.96" stroke="#000" stroke-width="1.30"/>
<line x1="331.20" y1="246.86" x2="331.20" y2="242.36" stroke="#000" stroke-width="1.00"/>
<line x1="329.20" y1="242.36" x2="333.20" y2="242.36" stroke="#000" stroke-width="1.30"/>
<line x1="335.64" y1="228.68" x2="335.64" y2="224.18" stroke="#000" stroke-width="1.00"/>
<line x1="333.64" y1="224.18" x2="337.64" y2="224.18" stroke="#000" stroke-width="1.30"/>
<line x1="340.08" y1="207.98" x2="340.08" y2="203.48" stroke="#000" stroke-width="1.00"/>
<line x1="338.08" y1="203.48" x2="342.08" y2="203.48" stroke="#000" stroke-width="1.30"/>
<line x1="344.52" y1="212.48" x2="344.52" y2="207.98" stroke="#000" stroke-width="1.00"/>
<line x1="342.52" y1="207.98" x2="346.52" y2="207.98" stroke="#000" stroke-width="1.30"/>
<line x1="348.96" y1="210.50" x2="348.96" y2="206.00" stroke="#000" stroke-width="1.00"/>
<line x1="346.96" y1="206.00" x2="350.96" y2="206.00" stroke="#000" stroke-width="1.30"/>
<line x1="353.40" y1="211.58" x2="353.40" y2="207.08" stroke="#000" stroke-width="1.00"/>
<line x1="351.40" y1="207.08" x2="355.40" y2="207.08" stroke="#000" stroke-width="1.30"/>
<line x1="357.84" y1="212.30" x2="357.84" y2="207.80" stroke="#000" stroke-width="1.00"/>
<line x1="355.84" y1="207.80" x2="359.84" y2="207.80" stroke="#000" stroke-width="1.30"/>
<line x1="362.28" y1="218.60" x2="362.28" y2="214.10" stroke="#000" stroke-width="1.00"/>
<line x1="360.28" y1="214.10" x2="364.28" y2="214.10" stroke="#000" stroke-width="1.30"/>
<line x1="366.72" y1="243.26" x2="366.72" y2="238.76" stroke="#000" stroke-width="1.00"/>
<line x1="364.72" y1="238.76" x2="368.72" y2="238.76" stroke="#000" stroke-width="1.30"/>
<line x1="371.16" y1="229.22" x2="371.16" y2="221.48" stroke="#000" stroke-width="1.00"/>
<line x1="369.16" y1="221.48" x2="373.16" y2="221.48" stroke="#000" stroke-width="1.30"/>
<line x1="375.60" y1="241.10" x2="375.60" y2="236.60" stroke="#000" stroke-width="1.00"/>
<line x1="373.60" y1="236.60" x2="377.60" y2="236.60" stroke="#000" stroke-width="1.30"/>
<line x1="380.04" y1="247.40" x2="380.04" y2="242.90" stroke="#000" stroke-width="1.00"/>
<line x1="378.04" y1="242.90" x2="382.04" y2="242.90" stroke="#000" stroke-width="1.30"/>
<line x1="384.48" y1="251.54" x2="384.48" y2="247.04" stroke="#000" stroke-width="1.00"/>
<line x1="382.48" y1="247.04" x2="386.48" y2="247.04" stroke="#000" stroke-width="1.30"/>
<line x1="388.92" y1="261.80" x2="388.92" y2="257.30" stroke="#000" stroke-width="1.00"/>
<line x1="386.92" y1="257.30" x2="390.92" y2="257.30" stroke="#000" stroke-width="1.30"/>
<line x1="393.36" y1="265.40" x2="393.36" y2="260.90" stroke="#000" stroke-width="1.00"/>
<line x1="391.36" y1="260.90" x2="395.36" y2="260.90" stroke="#000" stroke-width="1.30"/>
<line x1="397.80" y1="213.92" x2="397.80" y2="209.42" stroke="#000" stroke-width="1.00"/>
<line x1="395.80" y1="209.42" x2="399.80" y2="209.42" stroke="#000" stroke-width="1.30"/>
<line x1="402.24" y1="209.42" x2="402.24" y2="204.92" stroke="#000" stroke-width="1.00"/>
<line x1="400.24" y1="204.92" x2="404.24" y2="204.92" stroke="#000" stroke-width="1.30"/>
<line x1="406.68" y1="234.44" x2="406.68" y2="229.94" stroke="#000" stroke-width="1.00"/>
<line x1="404.68" y1="229.94" x2="408.68" y2="229.94" stroke="#000" stroke-width="1.30"/>
<line x1="411.12" y1="249.20" x2="411.12" y2="244.70" stroke="#000" stroke-width="1.00"/>
<line x1="409.12" y1="244.70" x2="413.12" y2="244.70" stroke="#000" stroke-width="1.30"/>
<line x1="415.56" y1="236.60" x2="415.56" y2="232.10" stroke="#000" stroke-width="1.00"/>
<line x1="413.56" y1="232.10" x2="417.56" y2="232.10" stroke="#000" stroke-width="1.30"/>
<line x1="420.00" y1="238.94" x2="420.00" y2="234.44" stroke="#000" stroke-width="1.00"/>
<line x1="418.00" y1="234.44" x2="422.00" y2="234.44" stroke="#000" stroke-width="1.30"/>
<line x1="424.44" y1="242.36" x2="424.44" y2="237.86" stroke="#000" stroke-width="1.00"/>
<line x1="422.44" y1="237.86" x2="426.44" y2="237.86" stroke="#000" stroke-width="1.30"/>
<line x1="428.88" y1="239.66" x2="428.88" y2="235.16" stroke="#000" stroke-width="1.00"/>
<line x1="426.88" y1="235.16" x2="430.88" y2="235.16" stroke="#000" stroke-width="1.30"/>
<line x1="433.32" y1="241.46" x2="433.32" y2="236.96" stroke="#000" stroke-width="1.00"/>
<line x1="431.32" y1="236.96" x2="435.32" y2="236.96" stroke="#000" stroke-width="1.30"/>
<line x1="437.76" y1="239.30" x2="437.76" y2="234.80" stroke="#000" stroke-width="1.00"/>
<line x1="435.76" y1="234.80" x2="439.76" y2="234.80" stroke="#000" stroke-width="1.30"/>
<line x1="442.20" y1="223.82" x2="442.20" y2="219.32" stroke="#000" stroke-width="1.00"/>
<line x1="440.20" y1="219.32" x2="444.20" y2="219.32" stroke="#000" stroke-width="1.30"/>
<line x1="446.64" y1="200.24" x2="446.64" y2="195.74" stroke="#000" stroke-width="1.00"/>
<line x1="444.64" y1="195.74" x2="448.64" y2="195.74" stroke="#000" stroke-width="1.30"/>
<line x1="451.08" y1="209.42" x2="451.08" y2="204.92" stroke="#000" stroke-width="1.00"/>
<line x1="449.08" y1="204.92" x2="453.08" y2="204.92" stroke="#000" stroke-width="1.30"/>
<line x1="455.52" y1="218.78" x2="455.52" y2="214.28" stroke="#000" stroke-width="1.00"/>
<line x1="453.52" y1="214.28" x2="457.52" y2="214.28" stroke="#000" stroke-width="1.30"/>
<line x1="459.96" y1="214.46" x2="459.96" y2="209.96" stroke="#000" stroke-width="1.00"/>
<line x1="457.96" y1="209.96" x2="461.96" y2="209.96" stroke="#000" stroke-width="1.30"/>
<line x1="464.40" y1="207.08" x2="464.40" y2="202.58" stroke="#000" stroke-width="1.00"/>
<line x1="462.40" y1="202.58" x2="466.40" y2="202.58" stroke="#000" stroke-width="1.30"/>
<line x1="468.84" y1="214.46" x2="468.84" y2="209.96" stroke="#000" stroke-width="1.00"/>
<line x1="466.84" y1="209.96" x2="470.84" y2="209.96" stroke="#000" stroke-width="1.30"/>
<line x1="473.28" y1="216.62" x2="473.28" y2="212.12" stroke="#000" stroke-width="1.00"/>
<line x1="471.28" y1="212.12" x2="475.28" y2="212.12" stroke="#000" stroke-width="1.30"/>
<line x1="477.72" y1="218.78" x2="477.72" y2="214.28" stroke="#000" stroke-width="1.00"/>
<line x1="475.72" y1="214.28" x2="479.72" y2="214.28" stroke="#000" stroke-width="1.30"/>
<line x1="482.16" y1="219.86" x2="482.16" y2="215.36" stroke="#000" stroke-width="1.00"/>
<line x1="480.16" y1="215.36" x2="484.16" y2="215.36" stroke="#000" stroke-width="1.30"/>
<line x1="486.60" y1="220.94" x2="486.60" y2="216.44" stroke="#000" stroke-width="1.00"/>
<line x1="484.60" y1="216.44" x2="488.60" y2="216.44" stroke="#000" stroke-width="1.30"/>
<line x1="491.04" y1="218.78" x2="491.04" y2="214.28" stroke="#000" stroke-width="1.00"/>
<line x1="489.04" y1="214.28" x2="493.04" y2="214.28" stroke="#000" stroke-width="1.30"/>
<line x1="495.48" y1="234.98" x2="495.48" y2="230.48" stroke="#000" stroke-width="1.00"/>
<line x1="493.48" y1="230.48" x2="497.48" y2="230.48" stroke="#000" stroke-width="1.30"/>
<line x1="499.92" y1="229.94" x2="499.92" y2="225.44" stroke="#000" stroke-width="1.00"/>
<line x1="497.92" y1="225.44" x2="501.92" y2="225.44" stroke="#000" stroke-width="1.30"/>
<path d="M291.24,222.02 L295.68,195.74 L300.12,225.08 L304.56,242.36 L309.00,244.16 L313.44,246.86 L317.88,242.36 L322.32,246.14 L326.76,241.46 L331.20,246.86 L335.64,228.68 L340.08,207.98 L344.52,212.48 L348.96,210.50 L353.40,211.58 L357.84,212.30 L362.28,218.60 L366.72,243.26 L371.16,229.22 L375.60,241.10 L380.04,247.40 L384.48,251.54 L388.92,261.80 L393.36,265.40 L397.80,213.92 L402.24,209.42 L406.68,234.44 L411.12,249.20 L415.56,236.60 L420.00,238.94 L424.44,242.36 L428.88,239.66 L433.32,241.46 L437.76,239.30 L442.20,223.82 L446.64,200.24 L451.08,209.42 L455.52,218.78 L459.96,214.46 L464.40,207.08 L468.84,214.46 L473.28,216.62 L477.72,218.78 L482.16,219.86 L486.60,220.94 L491.04,218.78 L495.48,234.98 L499.92,229.94" fill="none" stroke="#000" stroke-width="1.45" stroke-linejoin="round"/>
<circle cx="291.24" cy="222.02" r="2.15" fill="#fff" stroke="#000" stroke-width="1.2"/>
<circle cx="295.68" cy="195.74" r="2.15" fill="#fff" stroke="#000" stroke-width="1.2"/>
<circle cx="300.12" cy="225.08" r="2.15" fill="#fff" stroke="#000" stroke-width="1.2"/>
<circle cx="304.56" cy="242.36" r="2.15" fill="#fff" stroke="#000" stroke-width="1.2"/>
<circle cx="309.00" cy="244.16" r="2.15" fill="#fff" stroke="#000" stroke-width="1.2"/>
<circle cx="313.44" cy="246.86" r="2.15" fill="#fff" stroke="#000" stroke-width="1.2"/>
<circle cx="317.88" cy="242.36" r="2.15" fill="#fff" stroke="#000" stroke-width="1.2"/>
<circle cx="322.32" cy="246.14" r="2.15" fill="#fff" stroke="#000" stroke-width="1.2"/>
<circle cx="326.76" cy="241.46" r="2.15" fill="#fff" stroke="#000" stroke-width="1.2"/>
<circle cx="331.20" cy="246.86" r="2.15" fill="#fff" stroke="#000" stroke-width="1.2"/>
<circle cx="335.64" cy="228.68" r="2.15" fill="#fff" stroke="#000" stroke-width="1.2"/>
<circle cx="340.08" cy="207.98" r="2.15" fill="#fff" stroke="#000" stroke-width="1.2"/>
<circle cx="344.52" cy="212.48" r="2.15" fill="#fff" stroke="#000" stroke-width="1.2"/>
<circle cx="348.96" cy="210.50" r="2.15" fill="#fff" stroke="#000" stroke-width="1.2"/>
<circle cx="353.40" cy="211.58" r="2.15" fill="#fff" stroke="#000" stroke-width="1.2"/>
<circle cx="357.84" cy="212.30" r="2.15" fill="#fff" stroke="#000" stroke-width="1.2"/>
<circle cx="362.28" cy="218.60" r="2.15" fill="#fff" stroke="#000" stroke-width="1.2"/>
<circle cx="366.72" cy="243.26" r="2.15" fill="#fff" stroke="#000" stroke-width="1.2"/>
<circle cx="371.16" cy="229.22" r="2.15" fill="#fff" stroke="#000" stroke-width="1.2"/>
<circle cx="375.60" cy="241.10" r="2.15" fill="#fff" stroke="#000" stroke-width="1.2"/>
<circle cx="380.04" cy="247.40" r="2.15" fill="#fff" stroke="#000" stroke-width="1.2"/>
<circle cx="384.48" cy="251.54" r="2.15" fill="#fff" stroke="#000" stroke-width="1.2"/>
<circle cx="388.92" cy="261.80" r="2.15" fill="#fff" stroke="#000" stroke-width="1.2"/>
<circle cx="393.36" cy="265.40" r="2.15" fill="#fff" stroke="#000" stroke-width="1.2"/>
<circle cx="397.80" cy="213.92" r="2.15" fill="#fff" stroke="#000" stroke-width="1.2"/>
<circle cx="402.24" cy="209.42" r="2.15" fill="#fff" stroke="#000" stroke-width="1.2"/>
<circle cx="406.68" cy="234.44" r="2.15" fill="#fff" stroke="#000" stroke-width="1.2"/>
<circle cx="411.12" cy="249.20" r="2.15" fill="#fff" stroke="#000" stroke-width="1.2"/>
<circle cx="415.56" cy="236.60" r="2.15" fill="#fff" stroke="#000" stroke-width="1.2"/>
<circle cx="420.00" cy="238.94" r="2.15" fill="#fff" stroke="#000" stroke-width="1.2"/>
<circle cx="424.44" cy="242.36" r="2.15" fill="#fff" stroke="#000" stroke-width="1.2"/>
<circle cx="428.88" cy="239.66" r="2.15" fill="#fff" stroke="#000" stroke-width="1.2"/>
<circle cx="433.32" cy="241.46" r="2.15" fill="#fff" stroke="#000" stroke-width="1.2"/>
<circle cx="437.76" cy="239.30" r="2.15" fill="#fff" stroke="#000" stroke-width="1.2"/>
<circle cx="442.20" cy="223.82" r="2.15" fill="#fff" stroke="#000" stroke-width="1.2"/>
<circle cx="446.64" cy="200.24" r="2.15" fill="#fff" stroke="#000" stroke-width="1.2"/>
<circle cx="451.08" cy="209.42" r="2.15" fill="#fff" stroke="#000" stroke-width="1.2"/>
<circle cx="455.52" cy="218.78" r="2.15" fill="#fff" stroke="#000" stroke-width="1.2"/>
<circle cx="459.96" cy="214.46" r="2.15" fill="#fff" stroke="#000" stroke-width="1.2"/>
<circle cx="464.40" cy="207.08" r="2.15" fill="#fff" stroke="#000" stroke-width="1.2"/>
<circle cx="468.84" cy="214.46" r="2.15" fill="#fff" stroke="#000" stroke-width="1.2"/>
<circle cx="473.28" cy="216.62" r="2.15" fill="#fff" stroke="#000" stroke-width="1.2"/>
<circle cx="477.72" cy="218.78" r="2.15" fill="#fff" stroke="#000" stroke-width="1.2"/>
<circle cx="482.16" cy="219.86" r="2.15" fill="#fff" stroke="#000" stroke-width="1.2"/>
<circle cx="486.60" cy="220.94" r="2.15" fill="#fff" stroke="#000" stroke-width="1.2"/>
<circle cx="491.04" cy="218.78" r="2.15" fill="#fff" stroke="#000" stroke-width="1.2"/>
<circle cx="495.48" cy="234.98" r="2.15" fill="#fff" stroke="#000" stroke-width="1.2"/>
<circle cx="499.92" cy="229.94" r="2.15" fill="#fff" stroke="#000" stroke-width="1.2"/>
<line x1="291.24" y1="218.06" x2="291.24" y2="214.46" stroke="#000" stroke-width="1.00"/>
<line x1="289.24" y1="214.46" x2="293.24" y2="214.46" stroke="#000" stroke-width="1.30"/>
<line x1="295.68" y1="200.06" x2="295.68" y2="189.26" stroke="#000" stroke-width="1.00"/>
<line x1="293.68" y1="189.26" x2="297.68" y2="189.26" stroke="#000" stroke-width="1.30"/>
<line x1="300.12" y1="231.38" x2="300.12" y2="227.78" stroke="#000" stroke-width="1.00"/>
<line x1="298.12" y1="227.78" x2="302.12" y2="227.78" stroke="#000" stroke-width="1.30"/>
<line x1="304.56" y1="240.56" x2="304.56" y2="236.96" stroke="#000" stroke-width="1.00"/>
<line x1="302.56" y1="236.96" x2="306.56" y2="236.96" stroke="#000" stroke-width="1.30"/>
<line x1="309.00" y1="241.82" x2="309.00" y2="238.22" stroke="#000" stroke-width="1.00"/>
<line x1="307.00" y1="238.22" x2="311.00" y2="238.22" stroke="#000" stroke-width="1.30"/>
<line x1="313.44" y1="239.66" x2="313.44" y2="236.06" stroke="#000" stroke-width="1.00"/>
<line x1="311.44" y1="236.06" x2="315.44" y2="236.06" stroke="#000" stroke-width="1.30"/>
<line x1="317.88" y1="249.38" x2="317.88" y2="245.78" stroke="#000" stroke-width="1.00"/>
<line x1="315.88" y1="245.78" x2="319.88" y2="245.78" stroke="#000" stroke-width="1.30"/>
<line x1="322.32" y1="241.64" x2="322.32" y2="238.04" stroke="#000" stroke-width="1.00"/>
<line x1="320.32" y1="238.04" x2="324.32" y2="238.04" stroke="#000" stroke-width="1.30"/>
<line x1="326.76" y1="242.36" x2="326.76" y2="238.76" stroke="#000" stroke-width="1.00"/>
<line x1="324.76" y1="238.76" x2="328.76" y2="238.76" stroke="#000" stroke-width="1.30"/>
<line x1="331.20" y1="246.50" x2="331.20" y2="242.90" stroke="#000" stroke-width="1.00"/>
<line x1="329.20" y1="242.90" x2="333.20" y2="242.90" stroke="#000" stroke-width="1.30"/>
<line x1="335.64" y1="236.60" x2="335.64" y2="233.00" stroke="#000" stroke-width="1.00"/>
<line x1="333.64" y1="233.00" x2="337.64" y2="233.00" stroke="#000" stroke-width="1.30"/>
<line x1="340.08" y1="208.16" x2="340.08" y2="204.56" stroke="#000" stroke-width="1.00"/>
<line x1="338.08" y1="204.56" x2="342.08" y2="204.56" stroke="#000" stroke-width="1.30"/>
<line x1="344.52" y1="217.34" x2="344.52" y2="213.74" stroke="#000" stroke-width="1.00"/>
<line x1="342.52" y1="213.74" x2="346.52" y2="213.74" stroke="#000" stroke-width="1.30"/>
<line x1="348.96" y1="211.76" x2="348.96" y2="208.16" stroke="#000" stroke-width="1.00"/>
<line x1="346.96" y1="208.16" x2="350.96" y2="208.16" stroke="#000" stroke-width="1.30"/>
<line x1="353.40" y1="207.98" x2="353.40" y2="204.38" stroke="#000" stroke-width="1.00"/>
<line x1="351.40" y1="204.38" x2="355.40" y2="204.38" stroke="#000" stroke-width="1.30"/>
<line x1="357.84" y1="210.32" x2="357.84" y2="206.72" stroke="#000" stroke-width="1.00"/>
<line x1="355.84" y1="206.72" x2="359.84" y2="206.72" stroke="#000" stroke-width="1.30"/>
<line x1="362.28" y1="220.22" x2="362.28" y2="216.62" stroke="#000" stroke-width="1.00"/>
<line x1="360.28" y1="216.62" x2="364.28" y2="216.62" stroke="#000" stroke-width="1.30"/>
<line x1="366.72" y1="234.80" x2="366.72" y2="231.20" stroke="#000" stroke-width="1.00"/>
<line x1="364.72" y1="231.20" x2="368.72" y2="231.20" stroke="#000" stroke-width="1.30"/>
<line x1="371.16" y1="246.32" x2="371.16" y2="242.72" stroke="#000" stroke-width="1.00"/>
<line x1="369.16" y1="242.72" x2="373.16" y2="242.72" stroke="#000" stroke-width="1.30"/>
<line x1="375.60" y1="243.98" x2="375.60" y2="240.38" stroke="#000" stroke-width="1.00"/>
<line x1="373.60" y1="240.38" x2="377.60" y2="240.38" stroke="#000" stroke-width="1.30"/>
<line x1="380.04" y1="251.54" x2="380.04" y2="247.94" stroke="#000" stroke-width="1.00"/>
<line x1="378.04" y1="247.94" x2="382.04" y2="247.94" stroke="#000" stroke-width="1.30"/>
<line x1="384.48" y1="256.04" x2="384.48" y2="252.44" stroke="#000" stroke-width="1.00"/>
<line x1="382.48" y1="252.44" x2="386.48" y2="252.44" stroke="#000" stroke-width="1.30"/>
<line x1="388.92" y1="266.84" x2="388.92" y2="263.24" stroke="#000" stroke-width="1.00"/>
<line x1="386.92" y1="263.24" x2="390.92" y2="263.24" stroke="#000" stroke-width="1.30"/>
<line x1="393.36" y1="262.52" x2="393.36" y2="258.92" stroke="#000" stroke-width="1.00"/>
<line x1="391.36" y1="258.92" x2="395.36" y2="258.92" stroke="#000" stroke-width="1.30"/>
<line x1="397.80" y1="223.28" x2="397.80" y2="219.68" stroke="#000" stroke-width="1.00"/>
<line x1="395.80" y1="219.68" x2="399.80" y2="219.68" stroke="#000" stroke-width="1.30"/>
<line x1="402.24" y1="213.56" x2="402.24" y2="209.96" stroke="#000" stroke-width="1.00"/>
<line x1="400.24" y1="209.96" x2="404.24" y2="209.96" stroke="#000" stroke-width="1.30"/>
<line x1="406.68" y1="231.92" x2="406.68" y2="228.32" stroke="#000" stroke-width="1.00"/>
<line x1="404.68" y1="228.32" x2="408.68" y2="228.32" stroke="#000" stroke-width="1.30"/>
<line x1="411.12" y1="247.40" x2="411.12" y2="243.80" stroke="#000" stroke-width="1.00"/>
<line x1="409.12" y1="243.80" x2="413.12" y2="243.80" stroke="#000" stroke-width="1.30"/>
<line x1="415.56" y1="237.50" x2="415.56" y2="233.90" stroke="#000" stroke-width="1.00"/>
<line x1="413.56" y1="233.90" x2="417.56" y2="233.90" stroke="#000" stroke-width="1.30"/>
<line x1="420.00" y1="242.54" x2="420.00" y2="238.94" stroke="#000" stroke-width="1.00"/>
<line x1="418.00" y1="238.94" x2="422.00" y2="238.94" stroke="#000" stroke-width="1.30"/>
<line x1="424.44" y1="234.44" x2="424.44" y2="230.84" stroke="#000" stroke-width="1.00"/>
<line x1="422.44" y1="230.84" x2="426.44" y2="230.84" stroke="#000" stroke-width="1.30"/>
<line x1="428.88" y1="244.16" x2="428.88" y2="240.56" stroke="#000" stroke-width="1.00"/>
<line x1="426.88" y1="240.56" x2="430.88" y2="240.56" stroke="#000" stroke-width="1.30"/>
<line x1="433.32" y1="233.18" x2="433.32" y2="229.58" stroke="#000" stroke-width="1.00"/>
<line x1="431.32" y1="229.58" x2="435.32" y2="229.58" stroke="#000" stroke-width="1.30"/>
<line x1="437.76" y1="236.42" x2="437.76" y2="232.82" stroke="#000" stroke-width="1.00"/>
<line x1="435.76" y1="232.82" x2="439.76" y2="232.82" stroke="#000" stroke-width="1.30"/>
<line x1="442.20" y1="226.16" x2="442.20" y2="222.56" stroke="#000" stroke-width="1.00"/>
<line x1="440.20" y1="222.56" x2="444.20" y2="222.56" stroke="#000" stroke-width="1.30"/>
<line x1="446.64" y1="206.72" x2="446.64" y2="203.12" stroke="#000" stroke-width="1.00"/>
<line x1="444.64" y1="203.12" x2="448.64" y2="203.12" stroke="#000" stroke-width="1.30"/>
<line x1="451.08" y1="217.70" x2="451.08" y2="214.10" stroke="#000" stroke-width="1.00"/>
<line x1="449.08" y1="214.10" x2="453.08" y2="214.10" stroke="#000" stroke-width="1.30"/>
<line x1="455.52" y1="214.46" x2="455.52" y2="210.86" stroke="#000" stroke-width="1.00"/>
<line x1="453.52" y1="210.86" x2="457.52" y2="210.86" stroke="#000" stroke-width="1.30"/>
<line x1="459.96" y1="209.06" x2="459.96" y2="205.46" stroke="#000" stroke-width="1.00"/>
<line x1="457.96" y1="205.46" x2="461.96" y2="205.46" stroke="#000" stroke-width="1.30"/>
<line x1="464.40" y1="219.32" x2="464.40" y2="215.72" stroke="#000" stroke-width="1.00"/>
<line x1="462.40" y1="215.72" x2="466.40" y2="215.72" stroke="#000" stroke-width="1.30"/>
<line x1="468.84" y1="219.86" x2="468.84" y2="216.26" stroke="#000" stroke-width="1.00"/>
<line x1="466.84" y1="216.26" x2="470.84" y2="216.26" stroke="#000" stroke-width="1.30"/>
<line x1="473.28" y1="220.94" x2="473.28" y2="217.34" stroke="#000" stroke-width="1.00"/>
<line x1="471.28" y1="217.34" x2="475.28" y2="217.34" stroke="#000" stroke-width="1.30"/>
<line x1="477.72" y1="227.42" x2="477.72" y2="223.82" stroke="#000" stroke-width="1.00"/>
<line x1="475.72" y1="223.82" x2="479.72" y2="223.82" stroke="#000" stroke-width="1.30"/>
<line x1="482.16" y1="224.18" x2="482.16" y2="220.58" stroke="#000" stroke-width="1.00"/>
<line x1="480.16" y1="220.58" x2="484.16" y2="220.58" stroke="#000" stroke-width="1.30"/>
<line x1="486.60" y1="219.32" x2="486.60" y2="215.72" stroke="#000" stroke-width="1.00"/>
<line x1="484.60" y1="215.72" x2="488.60" y2="215.72" stroke="#000" stroke-width="1.30"/>
<line x1="491.04" y1="214.46" x2="491.04" y2="210.86" stroke="#000" stroke-width="1.00"/>
<line x1="489.04" y1="210.86" x2="493.04" y2="210.86" stroke="#000" stroke-width="1.30"/>
<line x1="495.48" y1="228.50" x2="495.48" y2="224.90" stroke="#000" stroke-width="1.00"/>
<line x1="493.48" y1="224.90" x2="497.48" y2="224.90" stroke="#000" stroke-width="1.30"/>
<line x1="499.92" y1="221.48" x2="499.92" y2="217.88" stroke="#000" stroke-width="1.00"/>
<line x1="497.92" y1="217.88" x2="501.92" y2="217.88" stroke="#000" stroke-width="1.30"/>
<path d="M291.24,218.06 L295.68,200.06 L300.12,231.38 L304.56,240.56 L309.00,241.82 L313.44,239.66 L317.88,249.38 L322.32,241.64 L326.76,242.36 L331.20,246.50 L335.64,236.60 L340.08,208.16 L344.52,217.34 L348.96,211.76 L353.40,207.98 L357.84,210.32 L362.28,220.22 L366.72,234.80 L371.16,246.32 L375.60,243.98 L380.04,251.54 L384.48,256.04 L388.92,266.84 L393.36,262.52 L397.80,223.28 L402.24,213.56 L406.68,231.92 L411.12,247.40 L415.56,237.50 L420.00,242.54 L424.44,234.44 L428.88,244.16 L433.32,233.18 L437.76,236.42 L442.20,226.16 L446.64,206.72 L451.08,217.70 L455.52,214.46 L459.96,209.06 L464.40,219.32 L468.84,219.86 L473.28,220.94 L477.72,227.42 L482.16,224.18 L486.60,219.32 L491.04,214.46 L495.48,228.50 L499.92,221.48" fill="none" stroke="#000" stroke-width="1.45" stroke-linejoin="round"/>
<circle cx="291.24" cy="218.06" r="2.15" fill="#0000C0" stroke="#000" stroke-width="1.2"/>
<circle cx="295.68" cy="200.06" r="2.15" fill="#0000C0" stroke="#000" stroke-width="1.2"/>
<circle cx="300.12" cy="231.38" r="2.15" fill="#0000C0" stroke="#000" stroke-width="1.2"/>
<circle cx="304.56" cy="240.56" r="2.15" fill="#0000C0" stroke="#000" stroke-width="1.2"/>
<circle cx="309.00" cy="241.82" r="2.15" fill="#0000C0" stroke="#000" stroke-width="1.2"/>
<circle cx="313.44" cy="239.66" r="2.15" fill="#0000C0" stroke="#000" stroke-width="1.2"/>
<circle cx="317.88" cy="249.38" r="2.15" fill="#0000C0" stroke="#000" stroke-width="1.2"/>
<circle cx="322.32" cy="241.64" r="2.15" fill="#0000C0" stroke="#000" stroke-width="1.2"/>
<circle cx="326.76" cy="242.36" r="2.15" fill="#0000C0" stroke="#000" stroke-width="1.2"/>
<circle cx="331.20" cy="246.50" r="2.15" fill="#0000C0" stroke="#000" stroke-width="1.2"/>
<circle cx="335.64" cy="236.60" r="2.15" fill="#0000C0" stroke="#000" stroke-width="1.2"/>
<circle cx="340.08" cy="208.16" r="2.15" fill="#0000C0" stroke="#000" stroke-width="1.2"/>
<circle cx="344.52" cy="217.34" r="2.15" fill="#0000C0" stroke="#000" stroke-width="1.2"/>
<circle cx="348.96" cy="211.76" r="2.15" fill="#0000C0" stroke="#000" stroke-width="1.2"/>
<circle cx="353.40" cy="207.98" r="2.15" fill="#0000C0" stroke="#000" stroke-width="1.2"/>
<circle cx="357.84" cy="210.32" r="2.15" fill="#0000C0" stroke="#000" stroke-width="1.2"/>
<circle cx="362.28" cy="220.22" r="2.15" fill="#0000C0" stroke="#000" stroke-width="1.2"/>
<circle cx="366.72" cy="234.80" r="2.15" fill="#0000C0" stroke="#000" stroke-width="1.2"/>
<circle cx="371.16" cy="246.32" r="2.15" fill="#0000C0" stroke="#000" stroke-width="1.2"/>
<circle cx="375.60" cy="243.98" r="2.15" fill="#0000C0" stroke="#000" stroke-width="1.2"/>
<circle cx="380.04" cy="251.54" r="2.15" fill="#0000C0" stroke="#000" stroke-width="1.2"/>
<circle cx="384.48" cy="256.04" r="2.15" fill="#0000C0" stroke="#000" stroke-width="1.2"/>
<circle cx="388.92" cy="266.84" r="2.15" fill="#0000C0" stroke="#000" stroke-width="1.2"/>
<circle cx="393.36" cy="262.52" r="2.15" fill="#0000C0" stroke="#000" stroke-width="1.2"/>
<circle cx="397.80" cy="223.28" r="2.15" fill="#0000C0" stroke="#000" stroke-width="1.2"/>
<circle cx="402.24" cy="213.56" r="2.15" fill="#0000C0" stroke="#000" stroke-width="1.2"/>
<circle cx="406.68" cy="231.92" r="2.15" fill="#0000C0" stroke="#000" stroke-width="1.2"/>
<circle cx="411.12" cy="247.40" r="2.15" fill="#0000C0" stroke="#000" stroke-width="1.2"/>
<circle cx="415.56" cy="237.50" r="2.15" fill="#0000C0" stroke="#000" stroke-width="1.2"/>
<circle cx="420.00" cy="242.54" r="2.15" fill="#0000C0" stroke="#000" stroke-width="1.2"/>
<circle cx="424.44" cy="234.44" r="2.15" fill="#0000C0" stroke="#000" stroke-width="1.2"/>
<circle cx="428.88" cy="244.16" r="2.15" fill="#0000C0" stroke="#000" stroke-width="1.2"/>
<circle cx="433.32" cy="233.18" r="2.15" fill="#0000C0" stroke="#000" stroke-width="1.2"/>
<circle cx="437.76" cy="236.42" r="2.15" fill="#0000C0" stroke="#000" stroke-width="1.2"/>
<circle cx="442.20" cy="226.16" r="2.15" fill="#0000C0" stroke="#000" stroke-width="1.2"/>
<circle cx="446.64" cy="206.72" r="2.15" fill="#0000C0" stroke="#000" stroke-width="1.2"/>
<circle cx="451.08" cy="217.70" r="2.15" fill="#0000C0" stroke="#000" stroke-width="1.2"/>
<circle cx="455.52" cy="214.46" r="2.15" fill="#0000C0" stroke="#000" stroke-width="1.2"/>
<circle cx="459.96" cy="209.06" r="2.15" fill="#0000C0" stroke="#000" stroke-width="1.2"/>
<circle cx="464.40" cy="219.32" r="2.15" fill="#0000C0" stroke="#000" stroke-width="1.2"/>
<circle cx="468.84" cy="219.86" r="2.15" fill="#0000C0" stroke="#000" stroke-width="1.2"/>
<circle cx="473.28" cy="220.94" r="2.15" fill="#0000C0" stroke="#000" stroke-width="1.2"/>
<circle cx="477.72" cy="227.42" r="2.15" fill="#0000C0" stroke="#000" stroke-width="1.2"/>
<circle cx="482.16" cy="224.18" r="2.15" fill="#0000C0" stroke="#000" stroke-width="1.2"/>
<circle cx="486.60" cy="219.32" r="2.15" fill="#0000C0" stroke="#000" stroke-width="1.2"/>
<circle cx="491.04" cy="214.46" r="2.15" fill="#0000C0" stroke="#000" stroke-width="1.2"/>
<circle cx="495.48" cy="228.50" r="2.15" fill="#0000C0" stroke="#000" stroke-width="1.2"/>
<circle cx="499.92" cy="221.48" r="2.15" fill="#0000C0" stroke="#000" stroke-width="1.2"/>
<text transform="translate(263.70,236.30) rotate(-90) scale(0.9615,1)" font-size="9.20" font-weight="bold" text-anchor="middle" >VO2 (ml/kg/min)</text>
<line x1="287.30" y1="318.50" x2="393.40" y2="318.50" stroke="#000" stroke-width="1.60"/>
<line x1="396.50" y1="318.50" x2="502.80" y2="318.50" stroke="#000" stroke-width="1.60"/>
<line x1="287.30" y1="314.00" x2="287.30" y2="323.20" stroke="#000" stroke-width="1.50"/>
<line x1="393.40" y1="314.00" x2="393.40" y2="323.20" stroke="#000" stroke-width="1.50"/>
<line x1="396.50" y1="314.00" x2="396.50" y2="323.20" stroke="#000" stroke-width="1.50"/>
<line x1="502.80" y1="314.00" x2="502.80" y2="323.20" stroke="#000" stroke-width="1.50"/>
<text x="339.80" y="316.30" font-size="8.9" font-weight="normal" text-anchor="middle" >24-h fast</text>
<text x="449.10" y="316.30" font-size="8.9" font-weight="normal" text-anchor="middle" >24-h refeeding</text>
<rect x="340.00" y="326.00" width="54.20" height="108.30" fill="#EEEEEE"/>
<rect x="447.20" y="326.00" width="54.50" height="108.30" fill="#EEEEEE"/>
<line x1="286.50" y1="325.80" x2="286.50" y2="415.90" stroke="#000" stroke-width="1.33"/>
<line x1="283.20" y1="325.50" x2="286.50" y2="325.50" stroke="#000" stroke-width="1.15"/>
<text transform="translate(282.00,329.30) scale(0.9524,1)" font-size="9.45" font-weight="bold" text-anchor="end" >1.1</text>
<line x1="283.20" y1="345.45" x2="286.50" y2="345.45" stroke="#000" stroke-width="1.15"/>
<text transform="translate(282.00,349.25) scale(0.9524,1)" font-size="9.45" font-weight="bold" text-anchor="end" >1.0</text>
<line x1="283.20" y1="365.40" x2="286.50" y2="365.40" stroke="#000" stroke-width="1.15"/>
<text transform="translate(282.00,369.20) scale(0.9524,1)" font-size="9.45" font-weight="bold" text-anchor="end" >0.9</text>
<line x1="283.20" y1="385.35" x2="286.50" y2="385.35" stroke="#000" stroke-width="1.15"/>
<text transform="translate(282.00,389.15) scale(0.9524,1)" font-size="9.45" font-weight="bold" text-anchor="end" >0.8</text>
<line x1="283.20" y1="405.30" x2="286.50" y2="405.30" stroke="#000" stroke-width="1.15"/>
<text transform="translate(282.00,409.10) scale(0.9524,1)" font-size="9.45" font-weight="bold" text-anchor="end" >0.7</text>
<line x1="283.20" y1="415.90" x2="289.40" y2="415.90" stroke="#000" stroke-width="1.35"/>
<line x1="286.50" y1="423.80" x2="286.50" y2="434.30" stroke="#000" stroke-width="1.33"/>
<line x1="283.20" y1="434.30" x2="286.50" y2="434.30" stroke="#000" stroke-width="1.15"/>
<text transform="translate(282.00,438.10) scale(0.9524,1)" font-size="9.45" font-weight="bold" text-anchor="end" >0.0</text>
<line x1="283.20" y1="423.80" x2="289.40" y2="423.80" stroke="#000" stroke-width="1.35"/>
<line x1="286.50" y1="434.30" x2="500.02" y2="434.30" stroke="#000" stroke-width="1.33"/>
<line x1="286.50" y1="434.30" x2="286.50" y2="437.30" stroke="#000" stroke-width="1.15"/>
<text x="286.50" y="447.50" font-size="9.0" font-weight="bold" text-anchor="middle" >0</text>
<line x1="340.08" y1="434.30" x2="340.08" y2="437.30" stroke="#000" stroke-width="1.15"/>
<text x="340.08" y="447.50" font-size="9.0" font-weight="bold" text-anchor="middle" >12</text>
<line x1="393.36" y1="434.30" x2="393.36" y2="437.30" stroke="#000" stroke-width="1.15"/>
<text x="393.36" y="447.50" font-size="9.0" font-weight="bold" text-anchor="middle" >24</text>
<line x1="446.64" y1="434.30" x2="446.64" y2="437.30" stroke="#000" stroke-width="1.15"/>
<text x="446.64" y="447.50" font-size="9.0" font-weight="bold" text-anchor="middle" >36</text>
<line x1="499.92" y1="434.30" x2="499.92" y2="437.30" stroke="#000" stroke-width="1.15"/>
<text x="499.92" y="447.50" font-size="9.0" font-weight="bold" text-anchor="middle" >48</text>
<text x="393.36" y="462.60" font-size="8.8" font-weight="bold" text-anchor="middle" >Time (h)</text>
<line x1="291.24" y1="373.78" x2="291.24" y2="372.98" stroke="#000" stroke-width="1.00"/>
<line x1="289.24" y1="372.98" x2="293.24" y2="372.98" stroke="#000" stroke-width="1.30"/>
<line x1="295.68" y1="389.94" x2="295.68" y2="389.14" stroke="#000" stroke-width="1.00"/>
<line x1="293.68" y1="389.14" x2="297.68" y2="389.14" stroke="#000" stroke-width="1.30"/>
<line x1="300.12" y1="396.92" x2="300.12" y2="396.12" stroke="#000" stroke-width="1.00"/>
<line x1="298.12" y1="396.12" x2="302.12" y2="396.12" stroke="#000" stroke-width="1.30"/>
<line x1="304.56" y1="399.12" x2="304.56" y2="398.32" stroke="#000" stroke-width="1.00"/>
<line x1="302.56" y1="398.32" x2="306.56" y2="398.32" stroke="#000" stroke-width="1.30"/>
<line x1="309.00" y1="398.72" x2="309.00" y2="397.92" stroke="#000" stroke-width="1.00"/>
<line x1="307.00" y1="397.92" x2="311.00" y2="397.92" stroke="#000" stroke-width="1.30"/>
<line x1="313.44" y1="398.32" x2="313.44" y2="397.52" stroke="#000" stroke-width="1.00"/>
<line x1="311.44" y1="397.52" x2="315.44" y2="397.52" stroke="#000" stroke-width="1.30"/>
<line x1="317.88" y1="400.11" x2="317.88" y2="399.31" stroke="#000" stroke-width="1.00"/>
<line x1="315.88" y1="399.31" x2="319.88" y2="399.31" stroke="#000" stroke-width="1.30"/>
<line x1="322.32" y1="396.92" x2="322.32" y2="396.12" stroke="#000" stroke-width="1.00"/>
<line x1="320.32" y1="396.12" x2="324.32" y2="396.12" stroke="#000" stroke-width="1.30"/>
<line x1="326.76" y1="397.72" x2="326.76" y2="396.92" stroke="#000" stroke-width="1.00"/>
<line x1="324.76" y1="396.92" x2="328.76" y2="396.92" stroke="#000" stroke-width="1.30"/>
<line x1="331.20" y1="398.72" x2="331.20" y2="397.92" stroke="#000" stroke-width="1.00"/>
<line x1="329.20" y1="397.92" x2="333.20" y2="397.92" stroke="#000" stroke-width="1.30"/>
<line x1="335.64" y1="396.92" x2="335.64" y2="396.12" stroke="#000" stroke-width="1.00"/>
<line x1="333.64" y1="396.12" x2="337.64" y2="396.12" stroke="#000" stroke-width="1.30"/>
<line x1="340.08" y1="397.32" x2="340.08" y2="396.52" stroke="#000" stroke-width="1.00"/>
<line x1="338.08" y1="396.52" x2="342.08" y2="396.52" stroke="#000" stroke-width="1.30"/>
<line x1="344.52" y1="398.72" x2="344.52" y2="397.92" stroke="#000" stroke-width="1.00"/>
<line x1="342.52" y1="397.92" x2="346.52" y2="397.92" stroke="#000" stroke-width="1.30"/>
<line x1="348.96" y1="400.11" x2="348.96" y2="399.31" stroke="#000" stroke-width="1.00"/>
<line x1="346.96" y1="399.31" x2="350.96" y2="399.31" stroke="#000" stroke-width="1.30"/>
<line x1="353.40" y1="398.72" x2="353.40" y2="397.92" stroke="#000" stroke-width="1.00"/>
<line x1="351.40" y1="397.92" x2="355.40" y2="397.92" stroke="#000" stroke-width="1.30"/>
<line x1="357.84" y1="399.31" x2="357.84" y2="398.52" stroke="#000" stroke-width="1.00"/>
<line x1="355.84" y1="398.52" x2="359.84" y2="398.52" stroke="#000" stroke-width="1.30"/>
<line x1="362.28" y1="400.91" x2="362.28" y2="400.11" stroke="#000" stroke-width="1.00"/>
<line x1="360.28" y1="400.11" x2="364.28" y2="400.11" stroke="#000" stroke-width="1.30"/>
<line x1="366.72" y1="401.31" x2="366.72" y2="400.51" stroke="#000" stroke-width="1.00"/>
<line x1="364.72" y1="400.51" x2="368.72" y2="400.51" stroke="#000" stroke-width="1.30"/>
<line x1="371.16" y1="402.31" x2="371.16" y2="401.51" stroke="#000" stroke-width="1.00"/>
<line x1="369.16" y1="401.51" x2="373.16" y2="401.51" stroke="#000" stroke-width="1.30"/>
<line x1="375.60" y1="406.30" x2="375.60" y2="405.50" stroke="#000" stroke-width="1.00"/>
<line x1="373.60" y1="405.50" x2="377.60" y2="405.50" stroke="#000" stroke-width="1.30"/>
<line x1="380.04" y1="405.30" x2="380.04" y2="404.50" stroke="#000" stroke-width="1.00"/>
<line x1="378.04" y1="404.50" x2="382.04" y2="404.50" stroke="#000" stroke-width="1.30"/>
<line x1="384.48" y1="405.70" x2="384.48" y2="404.90" stroke="#000" stroke-width="1.00"/>
<line x1="382.48" y1="404.90" x2="386.48" y2="404.90" stroke="#000" stroke-width="1.30"/>
<line x1="388.92" y1="402.91" x2="388.92" y2="402.11" stroke="#000" stroke-width="1.00"/>
<line x1="386.92" y1="402.11" x2="390.92" y2="402.11" stroke="#000" stroke-width="1.30"/>
<line x1="393.36" y1="404.70" x2="393.36" y2="403.90" stroke="#000" stroke-width="1.00"/>
<line x1="391.36" y1="403.90" x2="395.36" y2="403.90" stroke="#000" stroke-width="1.30"/>
<line x1="397.80" y1="394.53" x2="397.80" y2="393.73" stroke="#000" stroke-width="1.00"/>
<line x1="395.80" y1="393.73" x2="399.80" y2="393.73" stroke="#000" stroke-width="1.30"/>
<line x1="402.24" y1="363.80" x2="402.24" y2="363.01" stroke="#000" stroke-width="1.00"/>
<line x1="400.24" y1="363.01" x2="404.24" y2="363.01" stroke="#000" stroke-width="1.30"/>
<line x1="406.68" y1="357.82" x2="406.68" y2="357.02" stroke="#000" stroke-width="1.00"/>
<line x1="404.68" y1="357.02" x2="408.68" y2="357.02" stroke="#000" stroke-width="1.30"/>
<line x1="411.12" y1="356.02" x2="411.12" y2="355.23" stroke="#000" stroke-width="1.00"/>
<line x1="409.12" y1="355.23" x2="413.12" y2="355.23" stroke="#000" stroke-width="1.30"/>
<line x1="415.56" y1="353.03" x2="415.56" y2="352.23" stroke="#000" stroke-width="1.00"/>
<line x1="413.56" y1="352.23" x2="417.56" y2="352.23" stroke="#000" stroke-width="1.30"/>
<line x1="420.00" y1="348.04" x2="420.00" y2="347.25" stroke="#000" stroke-width="1.00"/>
<line x1="418.00" y1="347.25" x2="422.00" y2="347.25" stroke="#000" stroke-width="1.30"/>
<line x1="424.44" y1="345.85" x2="424.44" y2="345.05" stroke="#000" stroke-width="1.00"/>
<line x1="422.44" y1="345.05" x2="426.44" y2="345.05" stroke="#000" stroke-width="1.30"/>
<line x1="428.88" y1="345.65" x2="428.88" y2="344.85" stroke="#000" stroke-width="1.00"/>
<line x1="426.88" y1="344.85" x2="430.88" y2="344.85" stroke="#000" stroke-width="1.30"/>
<line x1="433.32" y1="344.85" x2="433.32" y2="344.05" stroke="#000" stroke-width="1.00"/>
<line x1="431.32" y1="344.05" x2="435.32" y2="344.05" stroke="#000" stroke-width="1.30"/>
<line x1="437.76" y1="350.24" x2="437.76" y2="349.44" stroke="#000" stroke-width="1.00"/>
<line x1="435.76" y1="349.44" x2="439.76" y2="349.44" stroke="#000" stroke-width="1.30"/>
<line x1="442.20" y1="347.44" x2="442.20" y2="346.65" stroke="#000" stroke-width="1.00"/>
<line x1="440.20" y1="346.65" x2="444.20" y2="346.65" stroke="#000" stroke-width="1.30"/>
<line x1="446.64" y1="344.85" x2="446.64" y2="344.05" stroke="#000" stroke-width="1.00"/>
<line x1="444.64" y1="344.05" x2="448.64" y2="344.05" stroke="#000" stroke-width="1.30"/>
<line x1="451.08" y1="342.66" x2="451.08" y2="341.86" stroke="#000" stroke-width="1.00"/>
<line x1="449.08" y1="341.86" x2="453.08" y2="341.86" stroke="#000" stroke-width="1.30"/>
<line x1="455.52" y1="342.26" x2="455.52" y2="341.46" stroke="#000" stroke-width="1.00"/>
<line x1="453.52" y1="341.46" x2="457.52" y2="341.46" stroke="#000" stroke-width="1.30"/>
<line x1="459.96" y1="342.66" x2="459.96" y2="341.86" stroke="#000" stroke-width="1.00"/>
<line x1="457.96" y1="341.86" x2="461.96" y2="341.86" stroke="#000" stroke-width="1.30"/>
<line x1="464.40" y1="341.66" x2="464.40" y2="340.86" stroke="#000" stroke-width="1.00"/>
<line x1="462.40" y1="340.86" x2="466.40" y2="340.86" stroke="#000" stroke-width="1.30"/>
<line x1="468.84" y1="341.66" x2="468.84" y2="340.86" stroke="#000" stroke-width="1.00"/>
<line x1="466.84" y1="340.86" x2="470.84" y2="340.86" stroke="#000" stroke-width="1.30"/>
<line x1="473.28" y1="340.46" x2="473.28" y2="339.66" stroke="#000" stroke-width="1.00"/>
<line x1="471.28" y1="339.66" x2="475.28" y2="339.66" stroke="#000" stroke-width="1.30"/>
<line x1="477.72" y1="341.06" x2="477.72" y2="340.26" stroke="#000" stroke-width="1.00"/>
<line x1="475.72" y1="340.26" x2="479.72" y2="340.26" stroke="#000" stroke-width="1.30"/>
<line x1="482.16" y1="339.46" x2="482.16" y2="338.67" stroke="#000" stroke-width="1.00"/>
<line x1="480.16" y1="338.67" x2="484.16" y2="338.67" stroke="#000" stroke-width="1.30"/>
<line x1="486.60" y1="340.46" x2="486.60" y2="339.66" stroke="#000" stroke-width="1.00"/>
<line x1="484.60" y1="339.66" x2="488.60" y2="339.66" stroke="#000" stroke-width="1.30"/>
<line x1="491.04" y1="339.46" x2="491.04" y2="338.67" stroke="#000" stroke-width="1.00"/>
<line x1="489.04" y1="338.67" x2="493.04" y2="338.67" stroke="#000" stroke-width="1.30"/>
<line x1="495.48" y1="340.46" x2="495.48" y2="339.66" stroke="#000" stroke-width="1.00"/>
<line x1="493.48" y1="339.66" x2="497.48" y2="339.66" stroke="#000" stroke-width="1.30"/>
<line x1="499.92" y1="342.66" x2="499.92" y2="341.86" stroke="#000" stroke-width="1.00"/>
<line x1="497.92" y1="341.86" x2="501.92" y2="341.86" stroke="#000" stroke-width="1.30"/>
<path d="M291.24,373.78 L295.68,389.94 L300.12,396.92 L304.56,399.12 L309.00,398.72 L313.44,398.32 L317.88,400.11 L322.32,396.92 L326.76,397.72 L331.20,398.72 L335.64,396.92 L340.08,397.32 L344.52,398.72 L348.96,400.11 L353.40,398.72 L357.84,399.31 L362.28,400.91 L366.72,401.31 L371.16,402.31 L375.60,406.30 L380.04,405.30 L384.48,405.70 L388.92,402.91 L393.36,404.70 L397.80,394.53 L402.24,363.80 L406.68,357.82 L411.12,356.02 L415.56,353.03 L420.00,348.04 L424.44,345.85 L428.88,345.65 L433.32,344.85 L437.76,350.24 L442.20,347.44 L446.64,344.85 L451.08,342.66 L455.52,342.26 L459.96,342.66 L464.40,341.66 L468.84,341.66 L473.28,340.46 L477.72,341.06 L482.16,339.46 L486.60,340.46 L491.04,339.46 L495.48,340.46 L499.92,342.66" fill="none" stroke="#000" stroke-width="1.45" stroke-linejoin="round"/>
<circle cx="291.24" cy="373.78" r="2.15" fill="#0000C0" stroke="#000" stroke-width="1.2"/>
<circle cx="295.68" cy="389.94" r="2.15" fill="#0000C0" stroke="#000" stroke-width="1.2"/>
<circle cx="300.12" cy="396.92" r="2.15" fill="#0000C0" stroke="#000" stroke-width="1.2"/>
<circle cx="304.56" cy="399.12" r="2.15" fill="#0000C0" stroke="#000" stroke-width="1.2"/>
<circle cx="309.00" cy="398.72" r="2.15" fill="#0000C0" stroke="#000" stroke-width="1.2"/>
<circle cx="313.44" cy="398.32" r="2.15" fill="#0000C0" stroke="#000" stroke-width="1.2"/>
<circle cx="317.88" cy="400.11" r="2.15" fill="#0000C0" stroke="#000" stroke-width="1.2"/>
<circle cx="322.32" cy="396.92" r="2.15" fill="#0000C0" stroke="#000" stroke-width="1.2"/>
<circle cx="326.76" cy="397.72" r="2.15" fill="#0000C0" stroke="#000" stroke-width="1.2"/>
<circle cx="331.20" cy="398.72" r="2.15" fill="#0000C0" stroke="#000" stroke-width="1.2"/>
<circle cx="335.64" cy="396.92" r="2.15" fill="#0000C0" stroke="#000" stroke-width="1.2"/>
<circle cx="340.08" cy="397.32" r="2.15" fill="#0000C0" stroke="#000" stroke-width="1.2"/>
<circle cx="344.52" cy="398.72" r="2.15" fill="#0000C0" stroke="#000" stroke-width="1.2"/>
<circle cx="348.96" cy="400.11" r="2.15" fill="#0000C0" stroke="#000" stroke-width="1.2"/>
<circle cx="353.40" cy="398.72" r="2.15" fill="#0000C0" stroke="#000" stroke-width="1.2"/>
<circle cx="357.84" cy="399.31" r="2.15" fill="#0000C0" stroke="#000" stroke-width="1.2"/>
<circle cx="362.28" cy="400.91" r="2.15" fill="#0000C0" stroke="#000" stroke-width="1.2"/>
<circle cx="366.72" cy="401.31" r="2.15" fill="#0000C0" stroke="#000" stroke-width="1.2"/>
<circle cx="371.16" cy="402.31" r="2.15" fill="#0000C0" stroke="#000" stroke-width="1.2"/>
<circle cx="375.60" cy="406.30" r="2.15" fill="#0000C0" stroke="#000" stroke-width="1.2"/>
<circle cx="380.04" cy="405.30" r="2.15" fill="#0000C0" stroke="#000" stroke-width="1.2"/>
<circle cx="384.48" cy="405.70" r="2.15" fill="#0000C0" stroke="#000" stroke-width="1.2"/>
<circle cx="388.92" cy="402.91" r="2.15" fill="#0000C0" stroke="#000" stroke-width="1.2"/>
<circle cx="393.36" cy="404.70" r="2.15" fill="#0000C0" stroke="#000" stroke-width="1.2"/>
<circle cx="397.80" cy="394.53" r="2.15" fill="#0000C0" stroke="#000" stroke-width="1.2"/>
<circle cx="402.24" cy="363.80" r="2.15" fill="#0000C0" stroke="#000" stroke-width="1.2"/>
<circle cx="406.68" cy="357.82" r="2.15" fill="#0000C0" stroke="#000" stroke-width="1.2"/>
<circle cx="411.12" cy="356.02" r="2.15" fill="#0000C0" stroke="#000" stroke-width="1.2"/>
<circle cx="415.56" cy="353.03" r="2.15" fill="#0000C0" stroke="#000" stroke-width="1.2"/>
<circle cx="420.00" cy="348.04" r="2.15" fill="#0000C0" stroke="#000" stroke-width="1.2"/>
<circle cx="424.44" cy="345.85" r="2.15" fill="#0000C0" stroke="#000" stroke-width="1.2"/>
<circle cx="428.88" cy="345.65" r="2.15" fill="#0000C0" stroke="#000" stroke-width="1.2"/>
<circle cx="433.32" cy="344.85" r="2.15" fill="#0000C0" stroke="#000" stroke-width="1.2"/>
<circle cx="437.76" cy="350.24" r="2.15" fill="#0000C0" stroke="#000" stroke-width="1.2"/>
<circle cx="442.20" cy="347.44" r="2.15" fill="#0000C0" stroke="#000" stroke-width="1.2"/>
<circle cx="446.64" cy="344.85" r="2.15" fill="#0000C0" stroke="#000" stroke-width="1.2"/>
<circle cx="451.08" cy="342.66" r="2.15" fill="#0000C0" stroke="#000" stroke-width="1.2"/>
<circle cx="455.52" cy="342.26" r="2.15" fill="#0000C0" stroke="#000" stroke-width="1.2"/>
<circle cx="459.96" cy="342.66" r="2.15" fill="#0000C0" stroke="#000" stroke-width="1.2"/>
<circle cx="464.40" cy="341.66" r="2.15" fill="#0000C0" stroke="#000" stroke-width="1.2"/>
<circle cx="468.84" cy="341.66" r="2.15" fill="#0000C0" stroke="#000" stroke-width="1.2"/>
<circle cx="473.28" cy="340.46" r="2.15" fill="#0000C0" stroke="#000" stroke-width="1.2"/>
<circle cx="477.72" cy="341.06" r="2.15" fill="#0000C0" stroke="#000" stroke-width="1.2"/>
<circle cx="482.16" cy="339.46" r="2.15" fill="#0000C0" stroke="#000" stroke-width="1.2"/>
<circle cx="486.60" cy="340.46" r="2.15" fill="#0000C0" stroke="#000" stroke-width="1.2"/>
<circle cx="491.04" cy="339.46" r="2.15" fill="#0000C0" stroke="#000" stroke-width="1.2"/>
<circle cx="495.48" cy="340.46" r="2.15" fill="#0000C0" stroke="#000" stroke-width="1.2"/>
<circle cx="499.92" cy="342.66" r="2.15" fill="#0000C0" stroke="#000" stroke-width="1.2"/>
<line x1="291.24" y1="373.78" x2="291.24" y2="372.98" stroke="#000" stroke-width="1.00"/>
<line x1="289.24" y1="372.98" x2="293.24" y2="372.98" stroke="#000" stroke-width="1.30"/>
<line x1="295.68" y1="389.94" x2="295.68" y2="389.14" stroke="#000" stroke-width="1.00"/>
<line x1="293.68" y1="389.14" x2="297.68" y2="389.14" stroke="#000" stroke-width="1.30"/>
<line x1="300.12" y1="396.32" x2="300.12" y2="395.52" stroke="#000" stroke-width="1.00"/>
<line x1="298.12" y1="395.52" x2="302.12" y2="395.52" stroke="#000" stroke-width="1.30"/>
<line x1="304.56" y1="401.91" x2="304.56" y2="401.11" stroke="#000" stroke-width="1.00"/>
<line x1="302.56" y1="401.11" x2="306.56" y2="401.11" stroke="#000" stroke-width="1.30"/>
<line x1="309.00" y1="401.51" x2="309.00" y2="400.71" stroke="#000" stroke-width="1.00"/>
<line x1="307.00" y1="400.71" x2="311.00" y2="400.71" stroke="#000" stroke-width="1.30"/>
<line x1="313.44" y1="398.72" x2="313.44" y2="397.92" stroke="#000" stroke-width="1.00"/>
<line x1="311.44" y1="397.92" x2="315.44" y2="397.92" stroke="#000" stroke-width="1.30"/>
<line x1="317.88" y1="397.32" x2="317.88" y2="396.52" stroke="#000" stroke-width="1.00"/>
<line x1="315.88" y1="396.52" x2="319.88" y2="396.52" stroke="#000" stroke-width="1.30"/>
<line x1="322.32" y1="399.71" x2="322.32" y2="398.92" stroke="#000" stroke-width="1.00"/>
<line x1="320.32" y1="398.92" x2="324.32" y2="398.92" stroke="#000" stroke-width="1.30"/>
<line x1="326.76" y1="396.92" x2="326.76" y2="396.12" stroke="#000" stroke-width="1.00"/>
<line x1="324.76" y1="396.12" x2="328.76" y2="396.12" stroke="#000" stroke-width="1.30"/>
<line x1="331.20" y1="399.31" x2="331.20" y2="398.52" stroke="#000" stroke-width="1.00"/>
<line x1="329.20" y1="398.52" x2="333.20" y2="398.52" stroke="#000" stroke-width="1.30"/>
<line x1="335.64" y1="396.32" x2="335.64" y2="395.52" stroke="#000" stroke-width="1.00"/>
<line x1="333.64" y1="395.52" x2="337.64" y2="395.52" stroke="#000" stroke-width="1.30"/>
<line x1="340.08" y1="397.12" x2="340.08" y2="396.32" stroke="#000" stroke-width="1.00"/>
<line x1="338.08" y1="396.32" x2="342.08" y2="396.32" stroke="#000" stroke-width="1.30"/>
<line x1="344.52" y1="398.12" x2="344.52" y2="397.32" stroke="#000" stroke-width="1.00"/>
<line x1="342.52" y1="397.32" x2="346.52" y2="397.32" stroke="#000" stroke-width="1.30"/>
<line x1="348.96" y1="399.71" x2="348.96" y2="398.92" stroke="#000" stroke-width="1.00"/>
<line x1="346.96" y1="398.92" x2="350.96" y2="398.92" stroke="#000" stroke-width="1.30"/>
<line x1="353.40" y1="398.32" x2="353.40" y2="397.52" stroke="#000" stroke-width="1.00"/>
<line x1="351.40" y1="397.52" x2="355.40" y2="397.52" stroke="#000" stroke-width="1.30"/>
<line x1="357.84" y1="397.52" x2="357.84" y2="396.72" stroke="#000" stroke-width="1.00"/>
<line x1="355.84" y1="396.72" x2="359.84" y2="396.72" stroke="#000" stroke-width="1.30"/>
<line x1="362.28" y1="399.91" x2="362.28" y2="399.12" stroke="#000" stroke-width="1.00"/>
<line x1="360.28" y1="399.12" x2="364.28" y2="399.12" stroke="#000" stroke-width="1.30"/>
<line x1="366.72" y1="401.51" x2="366.72" y2="400.71" stroke="#000" stroke-width="1.00"/>
<line x1="364.72" y1="400.71" x2="368.72" y2="400.71" stroke="#000" stroke-width="1.30"/>
<line x1="371.16" y1="401.31" x2="371.16" y2="400.51" stroke="#000" stroke-width="1.00"/>
<line x1="369.16" y1="400.51" x2="373.16" y2="400.51" stroke="#000" stroke-width="1.30"/>
<line x1="375.60" y1="407.10" x2="375.60" y2="406.30" stroke="#000" stroke-width="1.00"/>
<line x1="373.60" y1="406.30" x2="377.60" y2="406.30" stroke="#000" stroke-width="1.30"/>
<line x1="380.04" y1="404.50" x2="380.04" y2="403.70" stroke="#000" stroke-width="1.00"/>
<line x1="378.04" y1="403.70" x2="382.04" y2="403.70" stroke="#000" stroke-width="1.30"/>
<line x1="384.48" y1="404.50" x2="384.48" y2="403.70" stroke="#000" stroke-width="1.00"/>
<line x1="382.48" y1="403.70" x2="386.48" y2="403.70" stroke="#000" stroke-width="1.30"/>
<line x1="388.92" y1="402.11" x2="388.92" y2="401.31" stroke="#000" stroke-width="1.00"/>
<line x1="386.92" y1="401.31" x2="390.92" y2="401.31" stroke="#000" stroke-width="1.30"/>
<line x1="393.36" y1="405.30" x2="393.36" y2="404.50" stroke="#000" stroke-width="1.00"/>
<line x1="391.36" y1="404.50" x2="395.36" y2="404.50" stroke="#000" stroke-width="1.30"/>
<line x1="397.80" y1="392.73" x2="397.80" y2="391.93" stroke="#000" stroke-width="1.00"/>
<line x1="395.80" y1="391.93" x2="399.80" y2="391.93" stroke="#000" stroke-width="1.30"/>
<line x1="402.24" y1="358.22" x2="402.24" y2="357.42" stroke="#000" stroke-width="1.00"/>
<line x1="400.24" y1="357.42" x2="404.24" y2="357.42" stroke="#000" stroke-width="1.30"/>
<line x1="406.68" y1="354.63" x2="406.68" y2="353.83" stroke="#000" stroke-width="1.00"/>
<line x1="404.68" y1="353.83" x2="408.68" y2="353.83" stroke="#000" stroke-width="1.30"/>
<line x1="411.12" y1="351.24" x2="411.12" y2="350.44" stroke="#000" stroke-width="1.00"/>
<line x1="409.12" y1="350.44" x2="413.12" y2="350.44" stroke="#000" stroke-width="1.30"/>
<line x1="415.56" y1="348.64" x2="415.56" y2="347.84" stroke="#000" stroke-width="1.00"/>
<line x1="413.56" y1="347.84" x2="417.56" y2="347.84" stroke="#000" stroke-width="1.30"/>
<line x1="420.00" y1="344.85" x2="420.00" y2="344.05" stroke="#000" stroke-width="1.00"/>
<line x1="418.00" y1="344.05" x2="422.00" y2="344.05" stroke="#000" stroke-width="1.30"/>
<line x1="424.44" y1="350.24" x2="424.44" y2="349.44" stroke="#000" stroke-width="1.00"/>
<line x1="422.44" y1="349.44" x2="426.44" y2="349.44" stroke="#000" stroke-width="1.30"/>
<line x1="428.88" y1="343.65" x2="428.88" y2="342.86" stroke="#000" stroke-width="1.00"/>
<line x1="426.88" y1="342.86" x2="430.88" y2="342.86" stroke="#000" stroke-width="1.30"/>
<line x1="433.32" y1="341.66" x2="433.32" y2="340.86" stroke="#000" stroke-width="1.00"/>
<line x1="431.32" y1="340.86" x2="435.32" y2="340.86" stroke="#000" stroke-width="1.30"/>
<line x1="437.76" y1="346.65" x2="437.76" y2="345.85" stroke="#000" stroke-width="1.00"/>
<line x1="435.76" y1="345.85" x2="439.76" y2="345.85" stroke="#000" stroke-width="1.30"/>
<line x1="442.20" y1="344.45" x2="442.20" y2="343.65" stroke="#000" stroke-width="1.00"/>
<line x1="440.20" y1="343.65" x2="444.20" y2="343.65" stroke="#000" stroke-width="1.30"/>
<line x1="446.64" y1="346.65" x2="446.64" y2="345.85" stroke="#000" stroke-width="1.00"/>
<line x1="444.64" y1="345.85" x2="448.64" y2="345.85" stroke="#000" stroke-width="1.30"/>
<line x1="451.08" y1="342.66" x2="451.08" y2="341.86" stroke="#000" stroke-width="1.00"/>
<line x1="449.08" y1="341.86" x2="453.08" y2="341.86" stroke="#000" stroke-width="1.30"/>
<line x1="455.52" y1="341.06" x2="455.52" y2="340.26" stroke="#000" stroke-width="1.00"/>
<line x1="453.52" y1="340.26" x2="457.52" y2="340.26" stroke="#000" stroke-width="1.30"/>
<line x1="459.96" y1="342.26" x2="459.96" y2="341.46" stroke="#000" stroke-width="1.00"/>
<line x1="457.96" y1="341.46" x2="461.96" y2="341.46" stroke="#000" stroke-width="1.30"/>
<line x1="464.40" y1="341.06" x2="464.40" y2="340.26" stroke="#000" stroke-width="1.00"/>
<line x1="462.40" y1="340.26" x2="466.40" y2="340.26" stroke="#000" stroke-width="1.30"/>
<line x1="468.84" y1="340.46" x2="468.84" y2="339.66" stroke="#000" stroke-width="1.00"/>
<line x1="466.84" y1="339.66" x2="470.84" y2="339.66" stroke="#000" stroke-width="1.30"/>
<line x1="473.28" y1="339.46" x2="473.28" y2="338.67" stroke="#000" stroke-width="1.00"/>
<line x1="471.28" y1="338.67" x2="475.28" y2="338.67" stroke="#000" stroke-width="1.30"/>
<line x1="477.72" y1="342.66" x2="477.72" y2="341.86" stroke="#000" stroke-width="1.00"/>
<line x1="475.72" y1="341.86" x2="479.72" y2="341.86" stroke="#000" stroke-width="1.30"/>
<line x1="482.16" y1="344.45" x2="482.16" y2="343.65" stroke="#000" stroke-width="1.00"/>
<line x1="480.16" y1="343.65" x2="484.16" y2="343.65" stroke="#000" stroke-width="1.30"/>
<line x1="486.60" y1="341.66" x2="486.60" y2="340.86" stroke="#000" stroke-width="1.00"/>
<line x1="484.60" y1="340.86" x2="488.60" y2="340.86" stroke="#000" stroke-width="1.30"/>
<line x1="491.04" y1="343.65" x2="491.04" y2="342.86" stroke="#000" stroke-width="1.00"/>
<line x1="489.04" y1="342.86" x2="493.04" y2="342.86" stroke="#000" stroke-width="1.30"/>
<line x1="495.48" y1="344.85" x2="495.48" y2="344.05" stroke="#000" stroke-width="1.00"/>
<line x1="493.48" y1="344.05" x2="497.48" y2="344.05" stroke="#000" stroke-width="1.30"/>
<line x1="499.92" y1="347.44" x2="499.92" y2="346.65" stroke="#000" stroke-width="1.00"/>
<line x1="497.92" y1="346.65" x2="501.92" y2="346.65" stroke="#000" stroke-width="1.30"/>
<path d="M291.24,373.78 L295.68,389.94 L300.12,396.32 L304.56,401.91 L309.00,401.51 L313.44,398.72 L317.88,397.32 L322.32,399.71 L326.76,396.92 L331.20,399.31 L335.64,396.32 L340.08,397.12 L344.52,398.12 L348.96,399.71 L353.40,398.32 L357.84,397.52 L362.28,399.91 L366.72,401.51 L371.16,401.31 L375.60,407.10 L380.04,404.50 L384.48,404.50 L388.92,402.11 L393.36,405.30 L397.80,392.73 L402.24,358.22 L406.68,354.63 L411.12,351.24 L415.56,348.64 L420.00,344.85 L424.44,350.24 L428.88,343.65 L433.32,341.66 L437.76,346.65 L442.20,344.45 L446.64,346.65 L451.08,342.66 L455.52,341.06 L459.96,342.26 L464.40,341.06 L468.84,340.46 L473.28,339.46 L477.72,342.66 L482.16,344.45 L486.60,341.66 L491.04,343.65 L495.48,344.85 L499.92,347.44" fill="none" stroke="#000" stroke-width="1.45" stroke-linejoin="round"/>
<circle cx="291.24" cy="373.78" r="2.15" fill="#fff" stroke="#000" stroke-width="1.2"/>
<circle cx="295.68" cy="389.94" r="2.15" fill="#fff" stroke="#000" stroke-width="1.2"/>
<circle cx="300.12" cy="396.32" r="2.15" fill="#fff" stroke="#000" stroke-width="1.2"/>
<circle cx="304.56" cy="401.91" r="2.15" fill="#fff" stroke="#000" stroke-width="1.2"/>
<circle cx="309.00" cy="401.51" r="2.15" fill="#fff" stroke="#000" stroke-width="1.2"/>
<circle cx="313.44" cy="398.72" r="2.15" fill="#fff" stroke="#000" stroke-width="1.2"/>
<circle cx="317.88" cy="397.32" r="2.15" fill="#fff" stroke="#000" stroke-width="1.2"/>
<circle cx="322.32" cy="399.71" r="2.15" fill="#fff" stroke="#000" stroke-width="1.2"/>
<circle cx="326.76" cy="396.92" r="2.15" fill="#fff" stroke="#000" stroke-width="1.2"/>
<circle cx="331.20" cy="399.31" r="2.15" fill="#fff" stroke="#000" stroke-width="1.2"/>
<circle cx="335.64" cy="396.32" r="2.15" fill="#fff" stroke="#000" stroke-width="1.2"/>
<circle cx="340.08" cy="397.12" r="2.15" fill="#fff" stroke="#000" stroke-width="1.2"/>
<circle cx="344.52" cy="398.12" r="2.15" fill="#fff" stroke="#000" stroke-width="1.2"/>
<circle cx="348.96" cy="399.71" r="2.15" fill="#fff" stroke="#000" stroke-width="1.2"/>
<circle cx="353.40" cy="398.32" r="2.15" fill="#fff" stroke="#000" stroke-width="1.2"/>
<circle cx="357.84" cy="397.52" r="2.15" fill="#fff" stroke="#000" stroke-width="1.2"/>
<circle cx="362.28" cy="399.91" r="2.15" fill="#fff" stroke="#000" stroke-width="1.2"/>
<circle cx="366.72" cy="401.51" r="2.15" fill="#fff" stroke="#000" stroke-width="1.2"/>
<circle cx="371.16" cy="401.31" r="2.15" fill="#fff" stroke="#000" stroke-width="1.2"/>
<circle cx="375.60" cy="407.10" r="2.15" fill="#fff" stroke="#000" stroke-width="1.2"/>
<circle cx="380.04" cy="404.50" r="2.15" fill="#fff" stroke="#000" stroke-width="1.2"/>
<circle cx="384.48" cy="404.50" r="2.15" fill="#fff" stroke="#000" stroke-width="1.2"/>
<circle cx="388.92" cy="402.11" r="2.15" fill="#fff" stroke="#000" stroke-width="1.2"/>
<circle cx="393.36" cy="405.30" r="2.15" fill="#fff" stroke="#000" stroke-width="1.2"/>
<circle cx="397.80" cy="392.73" r="2.15" fill="#fff" stroke="#000" stroke-width="1.2"/>
<circle cx="402.24" cy="358.22" r="2.15" fill="#fff" stroke="#000" stroke-width="1.2"/>
<circle cx="406.68" cy="354.63" r="2.15" fill="#fff" stroke="#000" stroke-width="1.2"/>
<circle cx="411.12" cy="351.24" r="2.15" fill="#fff" stroke="#000" stroke-width="1.2"/>
<circle cx="415.56" cy="348.64" r="2.15" fill="#fff" stroke="#000" stroke-width="1.2"/>
<circle cx="420.00" cy="344.85" r="2.15" fill="#fff" stroke="#000" stroke-width="1.2"/>
<circle cx="424.44" cy="350.24" r="2.15" fill="#fff" stroke="#000" stroke-width="1.2"/>
<circle cx="428.88" cy="343.65" r="2.15" fill="#fff" stroke="#000" stroke-width="1.2"/>
<circle cx="433.32" cy="341.66" r="2.15" fill="#fff" stroke="#000" stroke-width="1.2"/>
<circle cx="437.76" cy="346.65" r="2.15" fill="#fff" stroke="#000" stroke-width="1.2"/>
<circle cx="442.20" cy="344.45" r="2.15" fill="#fff" stroke="#000" stroke-width="1.2"/>
<circle cx="446.64" cy="346.65" r="2.15" fill="#fff" stroke="#000" stroke-width="1.2"/>
<circle cx="451.08" cy="342.66" r="2.15" fill="#fff" stroke="#000" stroke-width="1.2"/>
<circle cx="455.52" cy="341.06" r="2.15" fill="#fff" stroke="#000" stroke-width="1.2"/>
<circle cx="459.96" cy="342.26" r="2.15" fill="#fff" stroke="#000" stroke-width="1.2"/>
<circle cx="464.40" cy="341.06" r="2.15" fill="#fff" stroke="#000" stroke-width="1.2"/>
<circle cx="468.84" cy="340.46" r="2.15" fill="#fff" stroke="#000" stroke-width="1.2"/>
<circle cx="473.28" cy="339.46" r="2.15" fill="#fff" stroke="#000" stroke-width="1.2"/>
<circle cx="477.72" cy="342.66" r="2.15" fill="#fff" stroke="#000" stroke-width="1.2"/>
<circle cx="482.16" cy="344.45" r="2.15" fill="#fff" stroke="#000" stroke-width="1.2"/>
<circle cx="486.60" cy="341.66" r="2.15" fill="#fff" stroke="#000" stroke-width="1.2"/>
<circle cx="491.04" cy="343.65" r="2.15" fill="#fff" stroke="#000" stroke-width="1.2"/>
<circle cx="495.48" cy="344.85" r="2.15" fill="#fff" stroke="#000" stroke-width="1.2"/>
<circle cx="499.92" cy="347.44" r="2.15" fill="#fff" stroke="#000" stroke-width="1.2"/>
<text transform="translate(263.20,379.00) rotate(-90) scale(0.9615,1)" font-size="9.36" font-weight="bold" text-anchor="middle" >RER (VCO2/VO2)</text>
<text x="506.15" y="172.80" font-size="17" font-weight="bold" text-anchor="start" >G</text>
<line x1="549.50" y1="184.16" x2="549.50" y2="292.64" stroke="#000" stroke-width="1.33"/>
<line x1="546.20" y1="184.16" x2="549.50" y2="184.16" stroke="#000" stroke-width="1.15"/>
<text transform="translate(545.00,187.96) scale(0.9524,1)" font-size="9.45" font-weight="bold" text-anchor="end" >6</text>
<line x1="546.20" y1="202.24" x2="549.50" y2="202.24" stroke="#000" stroke-width="1.15"/>
<text transform="translate(545.00,206.04) scale(0.9524,1)" font-size="9.45" font-weight="bold" text-anchor="end" >4</text>
<line x1="546.20" y1="220.32" x2="549.50" y2="220.32" stroke="#000" stroke-width="1.15"/>
<text transform="translate(545.00,224.12) scale(0.9524,1)" font-size="9.45" font-weight="bold" text-anchor="end" >2</text>
<line x1="546.20" y1="238.40" x2="549.50" y2="238.40" stroke="#000" stroke-width="1.15"/>
<text transform="translate(545.00,242.20) scale(0.9524,1)" font-size="9.45" font-weight="bold" text-anchor="end" >0</text>
<line x1="546.20" y1="256.48" x2="549.50" y2="256.48" stroke="#000" stroke-width="1.15"/>
<text transform="translate(545.00,260.28) scale(0.9524,1)" font-size="9.45" font-weight="bold" text-anchor="end" >-2</text>
<line x1="546.20" y1="274.56" x2="549.50" y2="274.56" stroke="#000" stroke-width="1.15"/>
<text transform="translate(545.00,278.36) scale(0.9524,1)" font-size="9.45" font-weight="bold" text-anchor="end" >-4</text>
<line x1="546.20" y1="292.64" x2="549.50" y2="292.64" stroke="#000" stroke-width="1.15"/>
<text transform="translate(545.00,296.44) scale(0.9524,1)" font-size="9.45" font-weight="bold" text-anchor="end" >-6</text>
<line x1="549.50" y1="238.40" x2="683.60" y2="238.40" stroke="#000" stroke-width="1.30"/>
<rect x="562.70" y="238.40" width="15.60" height="37.20" fill="#fff"/>
<path d="M562.70,275.60 L562.70,238.40 L578.30,238.40 L578.30,275.60 Z" fill="none" stroke="#000" stroke-width="1.3" stroke-linejoin="miter"/>
<rect x="587.60" y="238.40" width="15.80" height="39.20" fill="#0000C0"/>
<path d="M587.60,277.60 L587.60,238.40 L603.40,238.40 L603.40,277.60 Z" fill="none" stroke="#000" stroke-width="1.3" stroke-linejoin="miter"/>
<line x1="570.50" y1="275.60" x2="570.50" y2="278.30" stroke="#000" stroke-width="1.30"/>
<line x1="568.60" y1="278.30" x2="572.40" y2="278.30" stroke="#000" stroke-width="1.40"/>
<line x1="595.50" y1="277.60" x2="595.50" y2="280.30" stroke="#000" stroke-width="1.30"/>
<line x1="593.60" y1="280.30" x2="597.40" y2="280.30" stroke="#000" stroke-width="1.40"/>
<rect x="629.60" y="206.20" width="15.40" height="32.20" fill="#fff"/>
<path d="M629.60,238.40 L629.60,206.20 L645.00,206.20 L645.00,238.40 Z" fill="none" stroke="#000" stroke-width="1.3" stroke-linejoin="miter"/>
<rect x="654.50" y="202.10" width="15.10" height="36.30" fill="#0000C0"/>
<path d="M654.50,238.40 L654.50,202.10 L669.60,202.10 L669.60,238.40 Z" fill="none" stroke="#000" stroke-width="1.3" stroke-linejoin="miter"/>
<line x1="637.30" y1="206.20" x2="637.30" y2="203.20" stroke="#000" stroke-width="1.30"/>
<line x1="635.40" y1="203.20" x2="639.20" y2="203.20" stroke="#000" stroke-width="1.40"/>
<line x1="662.00" y1="202.10" x2="662.00" y2="200.50" stroke="#000" stroke-width="1.30"/>
<line x1="660.10" y1="200.50" x2="663.90" y2="200.50" stroke="#000" stroke-width="1.40"/>
<text x="582.40" y="301.80" font-size="9.0" font-weight="bold" text-anchor="middle" >24-h fasting</text>
<text x="649.30" y="301.80" font-size="9.0" font-weight="bold" text-anchor="middle" >24-h refeding</text>
<rect x="557.40" y="183.90" width="10.40" height="5.20" fill="#fff" stroke="#000" stroke-width="1.20"/>
<rect x="557.40" y="199.60" width="10.40" height="5.60" fill="#0000C0" stroke="#000" stroke-width="1.20"/>
<text x="575.00" y="189.60" font-size="8.7" font-weight="normal" text-anchor="start" >CTRL</text>
<text x="575.00" y="205.30" font-size="8.85" font-weight="normal" text-anchor="start" >POMCβ-KO</text>
<text transform="translate(526.00,238.40) rotate(-90) scale(0.9524,1)" font-size="9.24" font-weight="bold" text-anchor="middle" >Relative body mass change (g)</text>
<line x1="549.50" y1="325.20" x2="549.50" y2="434.20" stroke="#000" stroke-width="1.33"/>
<line x1="546.20" y1="325.20" x2="549.50" y2="325.20" stroke="#000" stroke-width="1.15"/>
<text transform="translate(545.00,329.00) scale(0.9524,1)" font-size="9.45" font-weight="bold" text-anchor="end" >10</text>
<line x1="546.20" y1="347.00" x2="549.50" y2="347.00" stroke="#000" stroke-width="1.15"/>
<text transform="translate(545.00,350.80) scale(0.9524,1)" font-size="9.45" font-weight="bold" text-anchor="end" >8</text>
<line x1="546.20" y1="368.80" x2="549.50" y2="368.80" stroke="#000" stroke-width="1.15"/>
<text transform="translate(545.00,372.60) scale(0.9524,1)" font-size="9.45" font-weight="bold" text-anchor="end" >6</text>
<line x1="546.20" y1="390.60" x2="549.50" y2="390.60" stroke="#000" stroke-width="1.15"/>
<text transform="translate(545.00,394.40) scale(0.9524,1)" font-size="9.45" font-weight="bold" text-anchor="end" >4</text>
<line x1="546.20" y1="412.40" x2="549.50" y2="412.40" stroke="#000" stroke-width="1.15"/>
<text transform="translate(545.00,416.20) scale(0.9524,1)" font-size="9.45" font-weight="bold" text-anchor="end" >2</text>
<line x1="546.20" y1="434.20" x2="549.50" y2="434.20" stroke="#000" stroke-width="1.15"/>
<text transform="translate(545.00,438.00) scale(0.9524,1)" font-size="9.45" font-weight="bold" text-anchor="end" >0</text>
<line x1="549.50" y1="434.20" x2="672.70" y2="434.20" stroke="#000" stroke-width="1.30"/>
<line x1="569.90" y1="434.20" x2="569.90" y2="436.50" stroke="#000" stroke-width="1.30"/>
<rect x="557.40" y="408.04" width="9.70" height="26.16" fill="#fff"/>
<path d="M557.40,434.20 L557.40,408.04 L567.10,408.04 L567.10,434.20 Z" fill="none" stroke="#000" stroke-width="1.3" stroke-linejoin="miter"/>
<rect x="572.90" y="413.49" width="9.80" height="20.71" fill="#0000C0"/>
<path d="M572.90,434.20 L572.90,413.49 L582.70,413.49 L582.70,434.20 Z" fill="none" stroke="#000" stroke-width="1.3" stroke-linejoin="miter"/>
<line x1="562.25" y1="408.04" x2="562.25" y2="405.86" stroke="#000" stroke-width="1.30"/>
<line x1="560.35" y1="405.86" x2="564.15" y2="405.86" stroke="#000" stroke-width="1.40"/>
<line x1="577.80" y1="413.49" x2="577.80" y2="411.86" stroke="#000" stroke-width="1.30"/>
<line x1="575.90" y1="411.86" x2="579.70" y2="411.86" stroke="#000" stroke-width="1.40"/>
<text x="569.90" y="447.30" font-size="8.8" font-weight="bold" text-anchor="middle" >+3</text>
<line x1="610.80" y1="434.20" x2="610.80" y2="436.50" stroke="#000" stroke-width="1.30"/>
<rect x="598.30" y="397.90" width="9.70" height="36.30" fill="#fff"/>
<path d="M598.30,434.20 L598.30,397.90 L608.00,397.90 L608.00,434.20 Z" fill="none" stroke="#000" stroke-width="1.3" stroke-linejoin="miter"/>
<rect x="613.80" y="402.92" width="9.80" height="31.28" fill="#0000C0"/>
<path d="M613.80,434.20 L613.80,402.92 L623.60,402.92 L623.60,434.20 Z" fill="none" stroke="#000" stroke-width="1.3" stroke-linejoin="miter"/>
<line x1="603.15" y1="397.90" x2="603.15" y2="394.96" stroke="#000" stroke-width="1.30"/>
<line x1="601.25" y1="394.96" x2="605.05" y2="394.96" stroke="#000" stroke-width="1.40"/>
<line x1="618.70" y1="402.92" x2="618.70" y2="400.41" stroke="#000" stroke-width="1.30"/>
<line x1="616.80" y1="400.41" x2="620.60" y2="400.41" stroke="#000" stroke-width="1.40"/>
<text x="610.80" y="447.30" font-size="8.8" font-weight="bold" text-anchor="middle" >+6</text>
<line x1="651.70" y1="434.20" x2="651.70" y2="436.50" stroke="#000" stroke-width="1.30"/>
<rect x="639.20" y="354.30" width="9.70" height="79.90" fill="#fff"/>
<path d="M639.20,434.20 L639.20,354.30 L648.90,354.30 L648.90,434.20 Z" fill="none" stroke="#000" stroke-width="1.3" stroke-linejoin="miter"/>
<rect x="654.70" y="354.30" width="9.80" height="79.90" fill="#0000C0"/>
<path d="M654.70,434.20 L654.70,354.30 L664.50,354.30 L664.50,434.20 Z" fill="none" stroke="#000" stroke-width="1.3" stroke-linejoin="miter"/>
<line x1="644.05" y1="354.30" x2="644.05" y2="349.72" stroke="#000" stroke-width="1.30"/>
<line x1="642.15" y1="349.72" x2="645.95" y2="349.72" stroke="#000" stroke-width="1.40"/>
<line x1="659.60" y1="354.30" x2="659.60" y2="349.72" stroke="#000" stroke-width="1.30"/>
<line x1="657.70" y1="349.72" x2="661.50" y2="349.72" stroke="#000" stroke-width="1.40"/>
<text x="651.70" y="447.30" font-size="8.8" font-weight="bold" text-anchor="middle" >+24</text>
<text x="611.20" y="460.20" font-size="8.7" font-weight="bold" text-anchor="middle" >Time (h)</text>
<text transform="translate(528.00,379.20) rotate(-90)" font-size="8.90" font-weight="bold" text-anchor="middle" >Cumulative food intake (g)</text>
</svg>
</body></html>
